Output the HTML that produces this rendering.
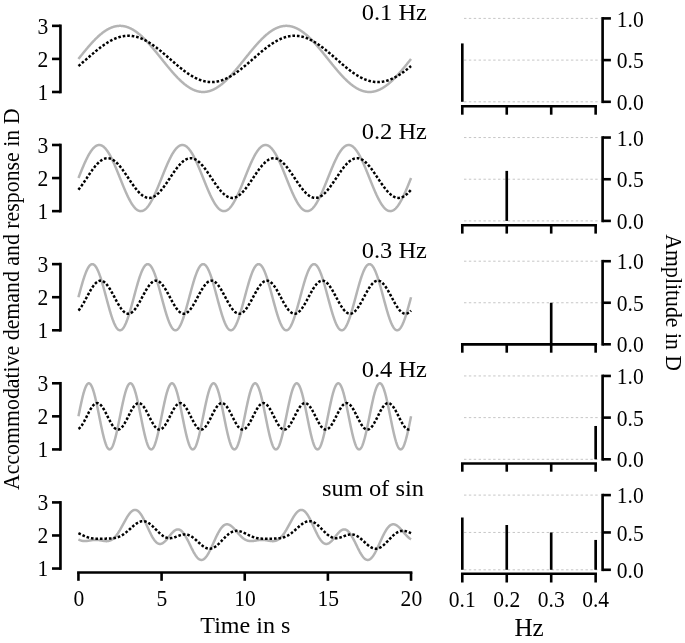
<!DOCTYPE html>
<html><head><meta charset="utf-8"><style>
html,body{margin:0;padding:0;background:#fff;}
body{width:685px;height:643px;overflow:hidden;}
svg{display:block;}
text{font-family:"Liberation Serif","Times New Roman",serif;}
</style></head><body>
<svg width="685" height="643" viewBox="0 0 685 643" font-family="Liberation Serif, Times New Roman, serif" fill="#000"><polyline points="78.44,58.92 78.72,58.57 78.99,58.23 79.27,57.88 79.55,57.54 79.83,57.19 80.10,56.84 80.38,56.50 80.66,56.15 80.93,55.81 81.21,55.46 81.49,55.12 81.77,54.78 82.04,54.43 82.32,54.09 82.60,53.75 82.87,53.40 83.15,53.06 83.43,52.72 83.71,52.38 83.98,52.04 84.26,51.71 84.54,51.37 84.81,51.03 85.09,50.70 85.37,50.36 85.65,50.03 85.92,49.69 86.20,49.36 86.48,49.03 86.75,48.70 87.03,48.37 87.31,48.04 87.59,47.72 87.86,47.39 88.14,47.07 88.42,46.75 88.70,46.42 88.97,46.10 89.25,45.79 89.53,45.47 89.80,45.15 90.08,44.84 90.36,44.53 90.64,44.22 90.91,43.91 91.19,43.60 91.47,43.29 91.74,42.99 92.02,42.69 92.30,42.39 92.58,42.09 92.85,41.79 93.13,41.49 93.41,41.20 93.68,40.91 93.96,40.62 94.24,40.33 94.52,40.05 94.79,39.76 95.07,39.48 95.35,39.20 95.62,38.93 95.90,38.65 96.18,38.38 96.46,38.11 96.73,37.84 97.01,37.57 97.29,37.31 97.56,37.05 97.84,36.79 98.12,36.54 98.40,36.28 98.67,36.03 98.95,35.78 99.23,35.54 99.50,35.29 99.78,35.05 100.06,34.81 100.34,34.58 100.61,34.34 100.89,34.11 101.17,33.89 101.44,33.66 101.72,33.44 102.00,33.22 102.28,33.00 102.55,32.79 102.83,32.58 103.11,32.37 103.38,32.17 103.66,31.96 103.94,31.76 104.22,31.57 104.49,31.38 104.77,31.19 105.05,31.00 105.33,30.81 105.60,30.63 105.88,30.46 106.16,30.28 106.43,30.11 106.71,29.94 106.99,29.78 107.27,29.61 107.54,29.45 107.82,29.30 108.10,29.15 108.37,29.00 108.65,28.85 108.93,28.71 109.21,28.57 109.48,28.43 109.76,28.30 110.04,28.17 110.31,28.05 110.59,27.92 110.87,27.81 111.15,27.69 111.42,27.58 111.70,27.47 111.98,27.36 112.25,27.26 112.53,27.16 112.81,27.07 113.09,26.98 113.36,26.89 113.64,26.80 113.92,26.72 114.19,26.65 114.47,26.57 114.75,26.50 115.03,26.44 115.30,26.37 115.58,26.31 115.86,26.26 116.13,26.20 116.41,26.16 116.69,26.11 116.97,26.07 117.24,26.03 117.52,26.00 117.80,25.97 118.07,25.94 118.35,25.92 118.63,25.90 118.91,25.88 119.18,25.87 119.46,25.86 119.74,25.85 120.01,25.85 120.29,25.85 120.57,25.86 120.85,25.87 121.12,25.88 121.40,25.90 121.68,25.92 121.96,25.94 122.23,25.97 122.51,26.00 122.79,26.03 123.06,26.07 123.34,26.11 123.62,26.16 123.90,26.20 124.17,26.26 124.45,26.31 124.73,26.37 125.00,26.44 125.28,26.50 125.56,26.57 125.84,26.65 126.11,26.72 126.39,26.80 126.67,26.89 126.94,26.98 127.22,27.07 127.50,27.16 127.78,27.26 128.05,27.36 128.33,27.47 128.61,27.58 128.88,27.69 129.16,27.81 129.44,27.92 129.72,28.05 129.99,28.17 130.27,28.30 130.55,28.43 130.82,28.57 131.10,28.71 131.38,28.85 131.66,29.00 131.93,29.15 132.21,29.30 132.49,29.45 132.76,29.61 133.04,29.78 133.32,29.94 133.60,30.11 133.87,30.28 134.15,30.46 134.43,30.63 134.70,30.81 134.98,31.00 135.26,31.19 135.54,31.38 135.81,31.57 136.09,31.76 136.37,31.96 136.64,32.17 136.92,32.37 137.20,32.58 137.48,32.79 137.75,33.00 138.03,33.22 138.31,33.44 138.59,33.66 138.86,33.89 139.14,34.11 139.42,34.34 139.69,34.58 139.97,34.81 140.25,35.05 140.53,35.29 140.80,35.54 141.08,35.78 141.36,36.03 141.63,36.28 141.91,36.54 142.19,36.79 142.47,37.05 142.74,37.31 143.02,37.57 143.30,37.84 143.57,38.11 143.85,38.38 144.13,38.65 144.41,38.93 144.68,39.20 144.96,39.48 145.24,39.76 145.51,40.05 145.79,40.33 146.07,40.62 146.35,40.91 146.62,41.20 146.90,41.49 147.18,41.79 147.45,42.09 147.73,42.39 148.01,42.69 148.29,42.99 148.56,43.29 148.84,43.60 149.12,43.91 149.39,44.22 149.67,44.53 149.95,44.84 150.23,45.15 150.50,45.47 150.78,45.79 151.06,46.10 151.33,46.42 151.61,46.75 151.89,47.07 152.17,47.39 152.44,47.72 152.72,48.04 153.00,48.37 153.27,48.70 153.55,49.03 153.83,49.36 154.11,49.69 154.38,50.03 154.66,50.36 154.94,50.70 155.22,51.03 155.49,51.37 155.77,51.71 156.05,52.04 156.32,52.38 156.60,52.72 156.88,53.06 157.16,53.40 157.43,53.75 157.71,54.09 157.99,54.43 158.26,54.78 158.54,55.12 158.82,55.46 159.10,55.81 159.37,56.15 159.65,56.50 159.93,56.84 160.20,57.19 160.48,57.54 160.76,57.88 161.04,58.23 161.31,58.57 161.59,58.92 161.87,59.27 162.14,59.61 162.42,59.96 162.70,60.30 162.98,60.65 163.25,61.00 163.53,61.34 163.81,61.69 164.08,62.03 164.36,62.38 164.64,62.72 164.92,63.06 165.19,63.41 165.47,63.75 165.75,64.09 166.02,64.44 166.30,64.78 166.58,65.12 166.86,65.46 167.13,65.80 167.41,66.13 167.69,66.47 167.96,66.81 168.24,67.14 168.52,67.48 168.80,67.81 169.07,68.15 169.35,68.48 169.63,68.81 169.90,69.14 170.18,69.47 170.46,69.80 170.74,70.12 171.01,70.45 171.29,70.77 171.57,71.09 171.85,71.42 172.12,71.74 172.40,72.05 172.68,72.37 172.95,72.69 173.23,73.00 173.51,73.31 173.79,73.62 174.06,73.93 174.34,74.24 174.62,74.55 174.89,74.85 175.17,75.15 175.45,75.45 175.73,75.75 176.00,76.05 176.28,76.35 176.56,76.64 176.83,76.93 177.11,77.22 177.39,77.51 177.67,77.79 177.94,78.08 178.22,78.36 178.50,78.64 178.77,78.91 179.05,79.19 179.33,79.46 179.61,79.73 179.88,80.00 180.16,80.27 180.44,80.53 180.71,80.79 180.99,81.05 181.27,81.30 181.55,81.56 181.82,81.81 182.10,82.06 182.38,82.30 182.65,82.55 182.93,82.79 183.21,83.03 183.49,83.26 183.76,83.50 184.04,83.73 184.32,83.95 184.59,84.18 184.87,84.40 185.15,84.62 185.43,84.84 185.70,85.05 185.98,85.26 186.26,85.47 186.53,85.67 186.81,85.88 187.09,86.08 187.37,86.27 187.64,86.46 187.92,86.65 188.20,86.84 188.48,87.03 188.75,87.21 189.03,87.38 189.31,87.56 189.58,87.73 189.86,87.90 190.14,88.06 190.42,88.23 190.69,88.39 190.97,88.54 191.25,88.69 191.52,88.84 191.80,88.99 192.08,89.13 192.36,89.27 192.63,89.41 192.91,89.54 193.19,89.67 193.46,89.79 193.74,89.92 194.02,90.03 194.30,90.15 194.57,90.26 194.85,90.37 195.13,90.48 195.40,90.58 195.68,90.68 195.96,90.77 196.24,90.86 196.51,90.95 196.79,91.04 197.07,91.12 197.34,91.19 197.62,91.27 197.90,91.34 198.18,91.40 198.45,91.47 198.73,91.53 199.01,91.58 199.28,91.64 199.56,91.68 199.84,91.73 200.12,91.77 200.39,91.81 200.67,91.84 200.95,91.87 201.22,91.90 201.50,91.92 201.78,91.94 202.06,91.96 202.33,91.97 202.61,91.98 202.89,91.99 203.16,91.99 203.44,91.99 203.72,91.98 204.00,91.97 204.27,91.96 204.55,91.94 204.83,91.92 205.11,91.90 205.38,91.87 205.66,91.84 205.94,91.81 206.21,91.77 206.49,91.73 206.77,91.68 207.05,91.64 207.32,91.58 207.60,91.53 207.88,91.47 208.15,91.40 208.43,91.34 208.71,91.27 208.99,91.19 209.26,91.12 209.54,91.04 209.82,90.95 210.09,90.86 210.37,90.77 210.65,90.68 210.93,90.58 211.20,90.48 211.48,90.37 211.76,90.26 212.03,90.15 212.31,90.03 212.59,89.92 212.87,89.79 213.14,89.67 213.42,89.54 213.70,89.41 213.97,89.27 214.25,89.13 214.53,88.99 214.81,88.84 215.08,88.69 215.36,88.54 215.64,88.39 215.91,88.23 216.19,88.06 216.47,87.90 216.75,87.73 217.02,87.56 217.30,87.38 217.58,87.21 217.85,87.03 218.13,86.84 218.41,86.65 218.69,86.46 218.96,86.27 219.24,86.08 219.52,85.88 219.79,85.67 220.07,85.47 220.35,85.26 220.63,85.05 220.90,84.84 221.18,84.62 221.46,84.40 221.74,84.18 222.01,83.95 222.29,83.73 222.57,83.50 222.84,83.26 223.12,83.03 223.40,82.79 223.68,82.55 223.95,82.30 224.23,82.06 224.51,81.81 224.78,81.56 225.06,81.30 225.34,81.05 225.62,80.79 225.89,80.53 226.17,80.27 226.45,80.00 226.72,79.73 227.00,79.46 227.28,79.19 227.56,78.91 227.83,78.64 228.11,78.36 228.39,78.08 228.66,77.79 228.94,77.51 229.22,77.22 229.50,76.93 229.77,76.64 230.05,76.35 230.33,76.05 230.60,75.75 230.88,75.46 231.16,75.15 231.44,74.85 231.71,74.55 231.99,74.24 232.27,73.93 232.54,73.62 232.82,73.31 233.10,73.00 233.38,72.69 233.65,72.37 233.93,72.05 234.21,71.74 234.48,71.42 234.76,71.09 235.04,70.77 235.32,70.45 235.59,70.12 235.87,69.80 236.15,69.47 236.42,69.14 236.70,68.81 236.98,68.48 237.26,68.15 237.53,67.81 237.81,67.48 238.09,67.14 238.37,66.81 238.64,66.47 238.92,66.13 239.20,65.80 239.47,65.46 239.75,65.12 240.03,64.78 240.31,64.44 240.58,64.09 240.86,63.75 241.14,63.41 241.41,63.06 241.69,62.72 241.97,62.38 242.25,62.03 242.52,61.69 242.80,61.34 243.08,61.00 243.35,60.65 243.63,60.30 243.91,59.96 244.19,59.61 244.46,59.27 244.74,58.92 245.02,58.57 245.29,58.23 245.57,57.88 245.85,57.54 246.13,57.19 246.40,56.84 246.68,56.50 246.96,56.15 247.23,55.81 247.51,55.46 247.79,55.12 248.07,54.78 248.34,54.43 248.62,54.09 248.90,53.75 249.17,53.40 249.45,53.06 249.73,52.72 250.01,52.38 250.28,52.04 250.56,51.71 250.84,51.37 251.11,51.03 251.39,50.70 251.67,50.36 251.95,50.03 252.22,49.69 252.50,49.36 252.78,49.03 253.05,48.70 253.33,48.37 253.61,48.04 253.89,47.72 254.16,47.39 254.44,47.07 254.72,46.75 255.00,46.42 255.27,46.10 255.55,45.79 255.83,45.47 256.10,45.15 256.38,44.84 256.66,44.53 256.94,44.22 257.21,43.91 257.49,43.60 257.77,43.29 258.04,42.99 258.32,42.69 258.60,42.39 258.88,42.09 259.15,41.79 259.43,41.49 259.71,41.20 259.98,40.91 260.26,40.62 260.54,40.33 260.82,40.05 261.09,39.76 261.37,39.48 261.65,39.20 261.92,38.93 262.20,38.65 262.48,38.38 262.76,38.11 263.03,37.84 263.31,37.57 263.59,37.31 263.86,37.05 264.14,36.79 264.42,36.54 264.70,36.28 264.97,36.03 265.25,35.78 265.53,35.54 265.80,35.29 266.08,35.05 266.36,34.81 266.64,34.58 266.91,34.34 267.19,34.11 267.47,33.89 267.74,33.66 268.02,33.44 268.30,33.22 268.58,33.00 268.85,32.79 269.13,32.58 269.41,32.37 269.68,32.17 269.96,31.96 270.24,31.76 270.52,31.57 270.79,31.38 271.07,31.19 271.35,31.00 271.63,30.81 271.90,30.63 272.18,30.46 272.46,30.28 272.73,30.11 273.01,29.94 273.29,29.78 273.57,29.61 273.84,29.45 274.12,29.30 274.40,29.15 274.67,29.00 274.95,28.85 275.23,28.71 275.51,28.57 275.78,28.43 276.06,28.30 276.34,28.17 276.61,28.05 276.89,27.92 277.17,27.81 277.45,27.69 277.72,27.58 278.00,27.47 278.28,27.36 278.55,27.26 278.83,27.16 279.11,27.07 279.39,26.98 279.66,26.89 279.94,26.80 280.22,26.72 280.49,26.65 280.77,26.57 281.05,26.50 281.33,26.44 281.60,26.37 281.88,26.31 282.16,26.26 282.43,26.20 282.71,26.16 282.99,26.11 283.27,26.07 283.54,26.03 283.82,26.00 284.10,25.97 284.37,25.94 284.65,25.92 284.93,25.90 285.21,25.88 285.48,25.87 285.76,25.86 286.04,25.85 286.31,25.85 286.59,25.85 286.87,25.86 287.15,25.87 287.42,25.88 287.70,25.90 287.98,25.92 288.26,25.94 288.53,25.97 288.81,26.00 289.09,26.03 289.36,26.07 289.64,26.11 289.92,26.16 290.20,26.20 290.47,26.26 290.75,26.31 291.03,26.37 291.30,26.44 291.58,26.50 291.86,26.57 292.14,26.65 292.41,26.72 292.69,26.80 292.97,26.89 293.24,26.98 293.52,27.07 293.80,27.16 294.08,27.26 294.35,27.36 294.63,27.47 294.91,27.58 295.18,27.69 295.46,27.81 295.74,27.92 296.02,28.05 296.29,28.17 296.57,28.30 296.85,28.43 297.12,28.57 297.40,28.71 297.68,28.85 297.96,29.00 298.23,29.15 298.51,29.30 298.79,29.45 299.06,29.61 299.34,29.78 299.62,29.94 299.90,30.11 300.17,30.28 300.45,30.46 300.73,30.63 301.00,30.81 301.28,31.00 301.56,31.19 301.84,31.38 302.11,31.57 302.39,31.76 302.67,31.96 302.94,32.17 303.22,32.37 303.50,32.58 303.78,32.79 304.05,33.00 304.33,33.22 304.61,33.44 304.89,33.66 305.16,33.89 305.44,34.11 305.72,34.34 305.99,34.58 306.27,34.81 306.55,35.05 306.83,35.29 307.10,35.54 307.38,35.78 307.66,36.03 307.93,36.28 308.21,36.54 308.49,36.79 308.77,37.05 309.04,37.31 309.32,37.57 309.60,37.84 309.87,38.11 310.15,38.38 310.43,38.65 310.71,38.93 310.98,39.20 311.26,39.48 311.54,39.76 311.81,40.05 312.09,40.33 312.37,40.62 312.65,40.91 312.92,41.20 313.20,41.49 313.48,41.79 313.75,42.09 314.03,42.38 314.31,42.69 314.59,42.99 314.86,43.29 315.14,43.60 315.42,43.91 315.69,44.22 315.97,44.53 316.25,44.84 316.53,45.15 316.80,45.47 317.08,45.79 317.36,46.10 317.63,46.42 317.91,46.75 318.19,47.07 318.47,47.39 318.74,47.72 319.02,48.04 319.30,48.37 319.57,48.70 319.85,49.03 320.13,49.36 320.41,49.69 320.68,50.03 320.96,50.36 321.24,50.70 321.52,51.03 321.79,51.37 322.07,51.71 322.35,52.04 322.62,52.38 322.90,52.72 323.18,53.06 323.46,53.40 323.73,53.75 324.01,54.09 324.29,54.43 324.56,54.78 324.84,55.12 325.12,55.46 325.40,55.81 325.67,56.15 325.95,56.50 326.23,56.84 326.50,57.19 326.78,57.54 327.06,57.88 327.34,58.23 327.61,58.57 327.89,58.92 328.17,59.27 328.44,59.61 328.72,59.96 329.00,60.30 329.28,60.65 329.55,61.00 329.83,61.34 330.11,61.69 330.38,62.03 330.66,62.38 330.94,62.72 331.22,63.06 331.49,63.41 331.77,63.75 332.05,64.09 332.32,64.44 332.60,64.78 332.88,65.12 333.16,65.46 333.43,65.80 333.71,66.13 333.99,66.47 334.26,66.81 334.54,67.14 334.82,67.48 335.10,67.81 335.37,68.15 335.65,68.48 335.93,68.81 336.20,69.14 336.48,69.47 336.76,69.80 337.04,70.12 337.31,70.45 337.59,70.77 337.87,71.09 338.15,71.42 338.42,71.74 338.70,72.05 338.98,72.37 339.25,72.69 339.53,73.00 339.81,73.31 340.09,73.62 340.36,73.93 340.64,74.24 340.92,74.55 341.19,74.85 341.47,75.15 341.75,75.46 342.03,75.75 342.30,76.05 342.58,76.35 342.86,76.64 343.13,76.93 343.41,77.22 343.69,77.51 343.97,77.79 344.24,78.08 344.52,78.36 344.80,78.64 345.07,78.91 345.35,79.19 345.63,79.46 345.91,79.73 346.18,80.00 346.46,80.27 346.74,80.53 347.01,80.79 347.29,81.05 347.57,81.30 347.85,81.56 348.12,81.81 348.40,82.06 348.68,82.30 348.95,82.55 349.23,82.79 349.51,83.03 349.79,83.26 350.06,83.50 350.34,83.73 350.62,83.95 350.89,84.18 351.17,84.40 351.45,84.62 351.73,84.84 352.00,85.05 352.28,85.26 352.56,85.47 352.83,85.67 353.11,85.88 353.39,86.08 353.67,86.27 353.94,86.46 354.22,86.65 354.50,86.84 354.78,87.03 355.05,87.21 355.33,87.38 355.61,87.56 355.88,87.73 356.16,87.90 356.44,88.06 356.72,88.23 356.99,88.39 357.27,88.54 357.55,88.69 357.82,88.84 358.10,88.99 358.38,89.13 358.66,89.27 358.93,89.41 359.21,89.54 359.49,89.67 359.76,89.79 360.04,89.92 360.32,90.03 360.60,90.15 360.87,90.26 361.15,90.37 361.43,90.48 361.70,90.58 361.98,90.68 362.26,90.77 362.54,90.86 362.81,90.95 363.09,91.04 363.37,91.12 363.64,91.19 363.92,91.27 364.20,91.34 364.48,91.40 364.75,91.47 365.03,91.53 365.31,91.58 365.58,91.64 365.86,91.68 366.14,91.73 366.42,91.77 366.69,91.81 366.97,91.84 367.25,91.87 367.52,91.90 367.80,91.92 368.08,91.94 368.36,91.96 368.63,91.97 368.91,91.98 369.19,91.99 369.46,91.99 369.74,91.99 370.02,91.98 370.30,91.97 370.57,91.96 370.85,91.94 371.13,91.92 371.41,91.90 371.68,91.87 371.96,91.84 372.24,91.81 372.51,91.77 372.79,91.73 373.07,91.68 373.35,91.64 373.62,91.58 373.90,91.53 374.18,91.47 374.45,91.40 374.73,91.34 375.01,91.27 375.29,91.19 375.56,91.12 375.84,91.04 376.12,90.95 376.39,90.86 376.67,90.77 376.95,90.68 377.23,90.58 377.50,90.48 377.78,90.37 378.06,90.26 378.33,90.15 378.61,90.03 378.89,89.92 379.17,89.79 379.44,89.67 379.72,89.54 380.00,89.41 380.27,89.27 380.55,89.13 380.83,88.99 381.11,88.84 381.38,88.69 381.66,88.54 381.94,88.39 382.21,88.23 382.49,88.06 382.77,87.90 383.05,87.73 383.32,87.56 383.60,87.38 383.88,87.21 384.15,87.03 384.43,86.84 384.71,86.65 384.99,86.46 385.26,86.27 385.54,86.08 385.82,85.88 386.09,85.67 386.37,85.47 386.65,85.26 386.93,85.05 387.20,84.84 387.48,84.62 387.76,84.40 388.04,84.18 388.31,83.95 388.59,83.73 388.87,83.50 389.14,83.26 389.42,83.03 389.70,82.79 389.98,82.55 390.25,82.30 390.53,82.06 390.81,81.81 391.08,81.56 391.36,81.30 391.64,81.05 391.92,80.79 392.19,80.53 392.47,80.27 392.75,80.00 393.02,79.73 393.30,79.46 393.58,79.19 393.86,78.91 394.13,78.64 394.41,78.36 394.69,78.08 394.96,77.79 395.24,77.51 395.52,77.22 395.80,76.93 396.07,76.64 396.35,76.35 396.63,76.05 396.90,75.75 397.18,75.46 397.46,75.15 397.74,74.85 398.01,74.55 398.29,74.24 398.57,73.93 398.84,73.62 399.12,73.31 399.40,73.00 399.68,72.69 399.95,72.37 400.23,72.05 400.51,71.74 400.78,71.42 401.06,71.09 401.34,70.77 401.62,70.45 401.89,70.12 402.17,69.80 402.45,69.47 402.72,69.14 403.00,68.81 403.28,68.48 403.56,68.15 403.83,67.81 404.11,67.48 404.39,67.14 404.67,66.81 404.94,66.47 405.22,66.13 405.50,65.80 405.77,65.46 406.05,65.12 406.33,64.78 406.61,64.44 406.88,64.09 407.16,63.75 407.44,63.41 407.71,63.06 407.99,62.72 408.27,62.38 408.55,62.03 408.82,61.69 409.10,61.34 409.38,61.00 409.65,60.65 409.93,60.30 410.21,59.96 410.49,59.61 410.76,59.27 411.04,58.92" fill="none" stroke="#b4b4b4" stroke-width="2.5" stroke-linejoin="round" stroke-linecap="butt"/>
<polyline points="78.44,66.07 78.72,65.84 78.99,65.61 79.27,65.38 79.55,65.15 79.83,64.91 80.10,64.68 80.38,64.44 80.66,64.21 80.93,63.97 81.21,63.73 81.49,63.50 81.77,63.26 82.04,63.02 82.32,62.78 82.60,62.54 82.87,62.30 83.15,62.06 83.43,61.82 83.71,61.58 83.98,61.34 84.26,61.10 84.54,60.86 84.81,60.62 85.09,60.37 85.37,60.13 85.65,59.89 85.92,59.65 86.20,59.40 86.48,59.16 86.75,58.92 87.03,58.68 87.31,58.44 87.59,58.19 87.86,57.95 88.14,57.71 88.42,57.47 88.70,57.22 88.97,56.98 89.25,56.74 89.53,56.50 89.80,56.26 90.08,56.02 90.36,55.78 90.64,55.54 90.91,55.30 91.19,55.06 91.47,54.82 91.74,54.58 92.02,54.34 92.30,54.11 92.58,53.87 92.85,53.63 93.13,53.40 93.41,53.16 93.68,52.93 93.96,52.69 94.24,52.46 94.52,52.23 94.79,52.00 95.07,51.77 95.35,51.54 95.62,51.31 95.90,51.08 96.18,50.85 96.46,50.62 96.73,50.40 97.01,50.17 97.29,49.95 97.56,49.73 97.84,49.50 98.12,49.28 98.40,49.06 98.67,48.84 98.95,48.63 99.23,48.41 99.50,48.20 99.78,47.98 100.06,47.77 100.34,47.56 100.61,47.35 100.89,47.14 101.17,46.93 101.44,46.72 101.72,46.52 102.00,46.31 102.28,46.11 102.55,45.91 102.83,45.71 103.11,45.51 103.38,45.31 103.66,45.12 103.94,44.92 104.22,44.73 104.49,44.54 104.77,44.35 105.05,44.16 105.33,43.98 105.60,43.79 105.88,43.61 106.16,43.43 106.43,43.25 106.71,43.07 106.99,42.90 107.27,42.72 107.54,42.55 107.82,42.38 108.10,42.21 108.37,42.05 108.65,41.88 108.93,41.72 109.21,41.56 109.48,41.40 109.76,41.24 110.04,41.08 110.31,40.93 110.59,40.78 110.87,40.63 111.15,40.48 111.42,40.34 111.70,40.19 111.98,40.05 112.25,39.91 112.53,39.77 112.81,39.64 113.09,39.51 113.36,39.37 113.64,39.25 113.92,39.12 114.19,38.99 114.47,38.87 114.75,38.75 115.03,38.63 115.30,38.52 115.58,38.41 115.86,38.29 116.13,38.19 116.41,38.08 116.69,37.97 116.97,37.87 117.24,37.77 117.52,37.67 117.80,37.58 118.07,37.49 118.35,37.40 118.63,37.31 118.91,37.22 119.18,37.14 119.46,37.06 119.74,36.98 120.01,36.90 120.29,36.83 120.57,36.76 120.85,36.69 121.12,36.62 121.40,36.56 121.68,36.50 121.96,36.44 122.23,36.38 122.51,36.33 122.79,36.28 123.06,36.23 123.34,36.18 123.62,36.14 123.90,36.10 124.17,36.06 124.45,36.02 124.73,35.99 125.00,35.95 125.28,35.92 125.56,35.90 125.84,35.87 126.11,35.85 126.39,35.83 126.67,35.82 126.94,35.80 127.22,35.79 127.50,35.78 127.78,35.78 128.05,35.77 128.33,35.77 128.61,35.77 128.88,35.78 129.16,35.78 129.44,35.79 129.72,35.80 129.99,35.82 130.27,35.83 130.55,35.85 130.82,35.87 131.10,35.90 131.38,35.92 131.66,35.95 131.93,35.99 132.21,36.02 132.49,36.06 132.76,36.10 133.04,36.14 133.32,36.18 133.60,36.23 133.87,36.28 134.15,36.33 134.43,36.38 134.70,36.44 134.98,36.50 135.26,36.56 135.54,36.62 135.81,36.69 136.09,36.76 136.37,36.83 136.64,36.90 136.92,36.98 137.20,37.06 137.48,37.14 137.75,37.22 138.03,37.31 138.31,37.40 138.59,37.49 138.86,37.58 139.14,37.67 139.42,37.77 139.69,37.87 139.97,37.97 140.25,38.08 140.53,38.19 140.80,38.29 141.08,38.41 141.36,38.52 141.63,38.63 141.91,38.75 142.19,38.87 142.47,38.99 142.74,39.12 143.02,39.25 143.30,39.37 143.57,39.51 143.85,39.64 144.13,39.77 144.41,39.91 144.68,40.05 144.96,40.19 145.24,40.34 145.51,40.48 145.79,40.63 146.07,40.78 146.35,40.93 146.62,41.08 146.90,41.24 147.18,41.40 147.45,41.56 147.73,41.72 148.01,41.88 148.29,42.05 148.56,42.21 148.84,42.38 149.12,42.55 149.39,42.72 149.67,42.90 149.95,43.07 150.23,43.25 150.50,43.43 150.78,43.61 151.06,43.79 151.33,43.98 151.61,44.16 151.89,44.35 152.17,44.54 152.44,44.73 152.72,44.92 153.00,45.12 153.27,45.31 153.55,45.51 153.83,45.71 154.11,45.91 154.38,46.11 154.66,46.31 154.94,46.52 155.22,46.72 155.49,46.93 155.77,47.14 156.05,47.35 156.32,47.56 156.60,47.77 156.88,47.98 157.16,48.20 157.43,48.41 157.71,48.63 157.99,48.84 158.26,49.06 158.54,49.28 158.82,49.50 159.10,49.73 159.37,49.95 159.65,50.17 159.93,50.40 160.20,50.62 160.48,50.85 160.76,51.08 161.04,51.31 161.31,51.54 161.59,51.77 161.87,52.00 162.14,52.23 162.42,52.46 162.70,52.69 162.98,52.93 163.25,53.16 163.53,53.40 163.81,53.63 164.08,53.87 164.36,54.11 164.64,54.34 164.92,54.58 165.19,54.82 165.47,55.06 165.75,55.30 166.02,55.54 166.30,55.78 166.58,56.02 166.86,56.26 167.13,56.50 167.41,56.74 167.69,56.98 167.96,57.22 168.24,57.47 168.52,57.71 168.80,57.95 169.07,58.19 169.35,58.44 169.63,58.68 169.90,58.92 170.18,59.16 170.46,59.40 170.74,59.65 171.01,59.89 171.29,60.13 171.57,60.37 171.85,60.62 172.12,60.86 172.40,61.10 172.68,61.34 172.95,61.58 173.23,61.82 173.51,62.06 173.79,62.30 174.06,62.54 174.34,62.78 174.62,63.02 174.89,63.26 175.17,63.50 175.45,63.73 175.73,63.97 176.00,64.21 176.28,64.44 176.56,64.68 176.83,64.91 177.11,65.15 177.39,65.38 177.67,65.61 177.94,65.84 178.22,66.07 178.50,66.30 178.77,66.53 179.05,66.76 179.33,66.99 179.61,67.22 179.88,67.44 180.16,67.67 180.44,67.89 180.71,68.11 180.99,68.34 181.27,68.56 181.55,68.78 181.82,69.00 182.10,69.21 182.38,69.43 182.65,69.64 182.93,69.86 183.21,70.07 183.49,70.28 183.76,70.49 184.04,70.70 184.32,70.91 184.59,71.12 184.87,71.32 185.15,71.53 185.43,71.73 185.70,71.93 185.98,72.13 186.26,72.33 186.53,72.53 186.81,72.72 187.09,72.92 187.37,73.11 187.64,73.30 187.92,73.49 188.20,73.68 188.48,73.86 188.75,74.05 189.03,74.23 189.31,74.41 189.58,74.59 189.86,74.77 190.14,74.94 190.42,75.12 190.69,75.29 190.97,75.46 191.25,75.63 191.52,75.79 191.80,75.96 192.08,76.12 192.36,76.28 192.63,76.44 192.91,76.60 193.19,76.76 193.46,76.91 193.74,77.06 194.02,77.21 194.30,77.36 194.57,77.50 194.85,77.65 195.13,77.79 195.40,77.93 195.68,78.07 195.96,78.20 196.24,78.33 196.51,78.47 196.79,78.59 197.07,78.72 197.34,78.85 197.62,78.97 197.90,79.09 198.18,79.21 198.45,79.32 198.73,79.43 199.01,79.55 199.28,79.65 199.56,79.76 199.84,79.87 200.12,79.97 200.39,80.07 200.67,80.17 200.95,80.26 201.22,80.35 201.50,80.44 201.78,80.53 202.06,80.62 202.33,80.70 202.61,80.78 202.89,80.86 203.16,80.94 203.44,81.01 203.72,81.08 204.00,81.15 204.27,81.22 204.55,81.28 204.83,81.34 205.11,81.40 205.38,81.46 205.66,81.51 205.94,81.56 206.21,81.61 206.49,81.66 206.77,81.70 207.05,81.74 207.32,81.78 207.60,81.82 207.88,81.85 208.15,81.89 208.43,81.92 208.71,81.94 208.99,81.97 209.26,81.99 209.54,82.01 209.82,82.02 210.09,82.04 210.37,82.05 210.65,82.06 210.93,82.06 211.20,82.07 211.48,82.07 211.76,82.07 212.03,82.06 212.31,82.06 212.59,82.05 212.87,82.04 213.14,82.02 213.42,82.01 213.70,81.99 213.97,81.97 214.25,81.94 214.53,81.92 214.81,81.89 215.08,81.85 215.36,81.82 215.64,81.78 215.91,81.74 216.19,81.70 216.47,81.66 216.75,81.61 217.02,81.56 217.30,81.51 217.58,81.46 217.85,81.40 218.13,81.34 218.41,81.28 218.69,81.22 218.96,81.15 219.24,81.08 219.52,81.01 219.79,80.94 220.07,80.86 220.35,80.78 220.63,80.70 220.90,80.62 221.18,80.53 221.46,80.44 221.74,80.35 222.01,80.26 222.29,80.17 222.57,80.07 222.84,79.97 223.12,79.87 223.40,79.76 223.68,79.65 223.95,79.55 224.23,79.43 224.51,79.32 224.78,79.21 225.06,79.09 225.34,78.97 225.62,78.85 225.89,78.72 226.17,78.59 226.45,78.47 226.72,78.33 227.00,78.20 227.28,78.07 227.56,77.93 227.83,77.79 228.11,77.65 228.39,77.50 228.66,77.36 228.94,77.21 229.22,77.06 229.50,76.91 229.77,76.76 230.05,76.60 230.33,76.44 230.60,76.28 230.88,76.12 231.16,75.96 231.44,75.79 231.71,75.63 231.99,75.46 232.27,75.29 232.54,75.12 232.82,74.94 233.10,74.77 233.38,74.59 233.65,74.41 233.93,74.23 234.21,74.05 234.48,73.86 234.76,73.68 235.04,73.49 235.32,73.30 235.59,73.11 235.87,72.92 236.15,72.72 236.42,72.53 236.70,72.33 236.98,72.13 237.26,71.93 237.53,71.73 237.81,71.53 238.09,71.32 238.37,71.12 238.64,70.91 238.92,70.70 239.20,70.49 239.47,70.28 239.75,70.07 240.03,69.86 240.31,69.64 240.58,69.43 240.86,69.21 241.14,69.00 241.41,68.78 241.69,68.56 241.97,68.34 242.25,68.11 242.52,67.89 242.80,67.67 243.08,67.44 243.35,67.22 243.63,66.99 243.91,66.76 244.19,66.53 244.46,66.30 244.74,66.07 245.02,65.84 245.29,65.61 245.57,65.38 245.85,65.15 246.13,64.91 246.40,64.68 246.68,64.44 246.96,64.21 247.23,63.97 247.51,63.73 247.79,63.50 248.07,63.26 248.34,63.02 248.62,62.78 248.90,62.54 249.17,62.30 249.45,62.06 249.73,61.82 250.01,61.58 250.28,61.34 250.56,61.10 250.84,60.86 251.11,60.62 251.39,60.37 251.67,60.13 251.95,59.89 252.22,59.65 252.50,59.40 252.78,59.16 253.05,58.92 253.33,58.68 253.61,58.44 253.89,58.19 254.16,57.95 254.44,57.71 254.72,57.47 255.00,57.22 255.27,56.98 255.55,56.74 255.83,56.50 256.10,56.26 256.38,56.02 256.66,55.78 256.94,55.54 257.21,55.30 257.49,55.06 257.77,54.82 258.04,54.58 258.32,54.34 258.60,54.11 258.88,53.87 259.15,53.63 259.43,53.40 259.71,53.16 259.98,52.93 260.26,52.69 260.54,52.46 260.82,52.23 261.09,52.00 261.37,51.77 261.65,51.54 261.92,51.31 262.20,51.08 262.48,50.85 262.76,50.62 263.03,50.40 263.31,50.17 263.59,49.95 263.86,49.73 264.14,49.50 264.42,49.28 264.70,49.06 264.97,48.84 265.25,48.63 265.53,48.41 265.80,48.20 266.08,47.98 266.36,47.77 266.64,47.56 266.91,47.35 267.19,47.14 267.47,46.93 267.74,46.72 268.02,46.52 268.30,46.31 268.58,46.11 268.85,45.91 269.13,45.71 269.41,45.51 269.68,45.31 269.96,45.12 270.24,44.92 270.52,44.73 270.79,44.54 271.07,44.35 271.35,44.16 271.63,43.98 271.90,43.79 272.18,43.61 272.46,43.43 272.73,43.25 273.01,43.07 273.29,42.90 273.57,42.72 273.84,42.55 274.12,42.38 274.40,42.21 274.67,42.05 274.95,41.88 275.23,41.72 275.51,41.56 275.78,41.40 276.06,41.24 276.34,41.08 276.61,40.93 276.89,40.78 277.17,40.63 277.45,40.48 277.72,40.34 278.00,40.19 278.28,40.05 278.55,39.91 278.83,39.77 279.11,39.64 279.39,39.51 279.66,39.37 279.94,39.25 280.22,39.12 280.49,38.99 280.77,38.87 281.05,38.75 281.33,38.63 281.60,38.52 281.88,38.41 282.16,38.29 282.43,38.19 282.71,38.08 282.99,37.97 283.27,37.87 283.54,37.77 283.82,37.67 284.10,37.58 284.37,37.49 284.65,37.40 284.93,37.31 285.21,37.22 285.48,37.14 285.76,37.06 286.04,36.98 286.31,36.90 286.59,36.83 286.87,36.76 287.15,36.69 287.42,36.62 287.70,36.56 287.98,36.50 288.26,36.44 288.53,36.38 288.81,36.33 289.09,36.28 289.36,36.23 289.64,36.18 289.92,36.14 290.20,36.10 290.47,36.06 290.75,36.02 291.03,35.99 291.30,35.95 291.58,35.92 291.86,35.90 292.14,35.87 292.41,35.85 292.69,35.83 292.97,35.82 293.24,35.80 293.52,35.79 293.80,35.78 294.08,35.78 294.35,35.77 294.63,35.77 294.91,35.77 295.18,35.78 295.46,35.78 295.74,35.79 296.02,35.80 296.29,35.82 296.57,35.83 296.85,35.85 297.12,35.87 297.40,35.90 297.68,35.92 297.96,35.95 298.23,35.99 298.51,36.02 298.79,36.06 299.06,36.10 299.34,36.14 299.62,36.18 299.90,36.23 300.17,36.28 300.45,36.33 300.73,36.38 301.00,36.44 301.28,36.50 301.56,36.56 301.84,36.62 302.11,36.69 302.39,36.76 302.67,36.83 302.94,36.90 303.22,36.98 303.50,37.06 303.78,37.14 304.05,37.22 304.33,37.31 304.61,37.40 304.89,37.49 305.16,37.58 305.44,37.67 305.72,37.77 305.99,37.87 306.27,37.97 306.55,38.08 306.83,38.19 307.10,38.29 307.38,38.41 307.66,38.52 307.93,38.63 308.21,38.75 308.49,38.87 308.77,38.99 309.04,39.12 309.32,39.25 309.60,39.37 309.87,39.51 310.15,39.64 310.43,39.77 310.71,39.91 310.98,40.05 311.26,40.19 311.54,40.34 311.81,40.48 312.09,40.63 312.37,40.78 312.65,40.93 312.92,41.08 313.20,41.24 313.48,41.40 313.75,41.56 314.03,41.72 314.31,41.88 314.59,42.05 314.86,42.21 315.14,42.38 315.42,42.55 315.69,42.72 315.97,42.90 316.25,43.07 316.53,43.25 316.80,43.43 317.08,43.61 317.36,43.79 317.63,43.98 317.91,44.16 318.19,44.35 318.47,44.54 318.74,44.73 319.02,44.92 319.30,45.12 319.57,45.31 319.85,45.51 320.13,45.71 320.41,45.91 320.68,46.11 320.96,46.31 321.24,46.52 321.52,46.72 321.79,46.93 322.07,47.14 322.35,47.35 322.62,47.56 322.90,47.77 323.18,47.98 323.46,48.20 323.73,48.41 324.01,48.63 324.29,48.84 324.56,49.06 324.84,49.28 325.12,49.50 325.40,49.73 325.67,49.95 325.95,50.17 326.23,50.40 326.50,50.62 326.78,50.85 327.06,51.08 327.34,51.31 327.61,51.54 327.89,51.77 328.17,52.00 328.44,52.23 328.72,52.46 329.00,52.69 329.28,52.93 329.55,53.16 329.83,53.40 330.11,53.63 330.38,53.87 330.66,54.11 330.94,54.34 331.22,54.58 331.49,54.82 331.77,55.06 332.05,55.30 332.32,55.54 332.60,55.78 332.88,56.02 333.16,56.26 333.43,56.50 333.71,56.74 333.99,56.98 334.26,57.22 334.54,57.47 334.82,57.71 335.10,57.95 335.37,58.19 335.65,58.44 335.93,58.68 336.20,58.92 336.48,59.16 336.76,59.40 337.04,59.65 337.31,59.89 337.59,60.13 337.87,60.37 338.15,60.62 338.42,60.86 338.70,61.10 338.98,61.34 339.25,61.58 339.53,61.82 339.81,62.06 340.09,62.30 340.36,62.54 340.64,62.78 340.92,63.02 341.19,63.26 341.47,63.50 341.75,63.73 342.03,63.97 342.30,64.21 342.58,64.44 342.86,64.68 343.13,64.91 343.41,65.15 343.69,65.38 343.97,65.61 344.24,65.84 344.52,66.07 344.80,66.30 345.07,66.53 345.35,66.76 345.63,66.99 345.91,67.22 346.18,67.44 346.46,67.67 346.74,67.89 347.01,68.11 347.29,68.34 347.57,68.56 347.85,68.78 348.12,69.00 348.40,69.21 348.68,69.43 348.95,69.64 349.23,69.86 349.51,70.07 349.79,70.28 350.06,70.49 350.34,70.70 350.62,70.91 350.89,71.12 351.17,71.32 351.45,71.53 351.73,71.73 352.00,71.93 352.28,72.13 352.56,72.33 352.83,72.53 353.11,72.72 353.39,72.92 353.67,73.11 353.94,73.30 354.22,73.49 354.50,73.68 354.78,73.86 355.05,74.05 355.33,74.23 355.61,74.41 355.88,74.59 356.16,74.77 356.44,74.94 356.72,75.12 356.99,75.29 357.27,75.46 357.55,75.63 357.82,75.79 358.10,75.96 358.38,76.12 358.66,76.28 358.93,76.44 359.21,76.60 359.49,76.76 359.76,76.91 360.04,77.06 360.32,77.21 360.60,77.36 360.87,77.50 361.15,77.65 361.43,77.79 361.70,77.93 361.98,78.07 362.26,78.20 362.54,78.33 362.81,78.47 363.09,78.59 363.37,78.72 363.64,78.85 363.92,78.97 364.20,79.09 364.48,79.21 364.75,79.32 365.03,79.43 365.31,79.55 365.58,79.65 365.86,79.76 366.14,79.87 366.42,79.97 366.69,80.07 366.97,80.17 367.25,80.26 367.52,80.35 367.80,80.44 368.08,80.53 368.36,80.62 368.63,80.70 368.91,80.78 369.19,80.86 369.46,80.94 369.74,81.01 370.02,81.08 370.30,81.15 370.57,81.22 370.85,81.28 371.13,81.34 371.41,81.40 371.68,81.46 371.96,81.51 372.24,81.56 372.51,81.61 372.79,81.66 373.07,81.70 373.35,81.74 373.62,81.78 373.90,81.82 374.18,81.85 374.45,81.89 374.73,81.92 375.01,81.94 375.29,81.97 375.56,81.99 375.84,82.01 376.12,82.02 376.39,82.04 376.67,82.05 376.95,82.06 377.23,82.06 377.50,82.07 377.78,82.07 378.06,82.07 378.33,82.06 378.61,82.06 378.89,82.05 379.17,82.04 379.44,82.02 379.72,82.01 380.00,81.99 380.27,81.97 380.55,81.94 380.83,81.92 381.11,81.89 381.38,81.85 381.66,81.82 381.94,81.78 382.21,81.74 382.49,81.70 382.77,81.66 383.05,81.61 383.32,81.56 383.60,81.51 383.88,81.46 384.15,81.40 384.43,81.34 384.71,81.28 384.99,81.22 385.26,81.15 385.54,81.08 385.82,81.01 386.09,80.94 386.37,80.86 386.65,80.78 386.93,80.70 387.20,80.62 387.48,80.53 387.76,80.44 388.04,80.35 388.31,80.26 388.59,80.17 388.87,80.07 389.14,79.97 389.42,79.87 389.70,79.76 389.98,79.65 390.25,79.55 390.53,79.43 390.81,79.32 391.08,79.21 391.36,79.09 391.64,78.97 391.92,78.85 392.19,78.72 392.47,78.59 392.75,78.47 393.02,78.33 393.30,78.20 393.58,78.07 393.86,77.93 394.13,77.79 394.41,77.65 394.69,77.50 394.96,77.36 395.24,77.21 395.52,77.06 395.80,76.91 396.07,76.76 396.35,76.60 396.63,76.44 396.90,76.28 397.18,76.12 397.46,75.96 397.74,75.79 398.01,75.63 398.29,75.46 398.57,75.29 398.84,75.12 399.12,74.94 399.40,74.77 399.68,74.59 399.95,74.41 400.23,74.23 400.51,74.05 400.78,73.86 401.06,73.68 401.34,73.49 401.62,73.30 401.89,73.11 402.17,72.92 402.45,72.72 402.72,72.53 403.00,72.33 403.28,72.13 403.56,71.93 403.83,71.73 404.11,71.53 404.39,71.32 404.67,71.12 404.94,70.91 405.22,70.70 405.50,70.49 405.77,70.28 406.05,70.07 406.33,69.86 406.61,69.64 406.88,69.43 407.16,69.21 407.44,69.00 407.71,68.78 407.99,68.56 408.27,68.34 408.55,68.11 408.82,67.89 409.10,67.67 409.38,67.44 409.65,67.22 409.93,66.99 410.21,66.76 410.49,66.53 410.76,66.30 411.04,66.07" fill="none" stroke="#000" stroke-width="2.5" stroke-linejoin="round" stroke-dasharray="2.6 1.9" stroke-linecap="butt"/>
<line x1="60.45" y1="24.53" x2="60.45" y2="93.32" stroke="#000" stroke-width="2.65" />
<line x1="52.00" y1="91.99" x2="60.45" y2="91.99" stroke="#000" stroke-width="2.6" />
<text transform="translate(48.20,99.89) scale(0.98,1.05)" font-size="22" text-anchor="end" >1</text>
<line x1="52.00" y1="58.92" x2="60.45" y2="58.92" stroke="#000" stroke-width="2.6" />
<text transform="translate(48.20,66.82) scale(0.98,1.05)" font-size="22" text-anchor="end" >2</text>
<line x1="52.00" y1="25.85" x2="60.45" y2="25.85" stroke="#000" stroke-width="2.6" />
<text transform="translate(48.20,33.75) scale(0.98,1.05)" font-size="22" text-anchor="end" >3</text>
<text transform="translate(427.00,20.20) scale(1.0,0.98)" font-size="24.5" text-anchor="end" >0.1 Hz</text>
<line x1="464.00" y1="101.80" x2="600.50" y2="101.80" stroke="#c6c6c6" stroke-width="1.0" stroke-dasharray="2.43 2.43"/>
<line x1="464.00" y1="60.10" x2="600.50" y2="60.10" stroke="#c6c6c6" stroke-width="1.0" stroke-dasharray="2.43 2.43"/>
<line x1="464.00" y1="18.40" x2="600.50" y2="18.40" stroke="#c6c6c6" stroke-width="1.0" stroke-dasharray="2.43 2.43"/>
<line x1="462.30" y1="101.80" x2="462.30" y2="43.42" stroke="#000" stroke-width="2.65" />
<line x1="602.60" y1="17.07" x2="602.60" y2="103.12" stroke="#000" stroke-width="2.65" />
<line x1="602.60" y1="101.80" x2="610.90" y2="101.80" stroke="#000" stroke-width="2.6" />
<text transform="translate(616.80,109.90) scale(0.98,1.05)" font-size="22" text-anchor="start" >0.0</text>
<line x1="602.60" y1="60.10" x2="610.90" y2="60.10" stroke="#000" stroke-width="2.6" />
<text transform="translate(616.80,68.20) scale(0.98,1.05)" font-size="22" text-anchor="start" >0.5</text>
<line x1="602.60" y1="18.40" x2="610.90" y2="18.40" stroke="#000" stroke-width="2.6" />
<text transform="translate(616.80,26.50) scale(0.98,1.05)" font-size="22" text-anchor="start" >1.0</text>
<line x1="460.98" y1="106.20" x2="596.98" y2="106.20" stroke="#000" stroke-width="2.65" />
<line x1="462.30" y1="106.20" x2="462.30" y2="114.70" stroke="#000" stroke-width="2.6" />
<line x1="506.75" y1="106.20" x2="506.75" y2="114.70" stroke="#000" stroke-width="2.6" />
<line x1="551.20" y1="106.20" x2="551.20" y2="114.70" stroke="#000" stroke-width="2.6" />
<line x1="595.65" y1="106.20" x2="595.65" y2="114.70" stroke="#000" stroke-width="2.6" />
<polyline points="78.44,178.06 78.72,177.37 78.99,176.68 79.27,175.98 79.55,175.29 79.83,174.60 80.10,173.92 80.38,173.23 80.66,172.54 80.93,171.86 81.21,171.18 81.49,170.51 81.77,169.84 82.04,169.17 82.32,168.50 82.60,167.84 82.87,167.18 83.15,166.53 83.43,165.89 83.71,165.24 83.98,164.61 84.26,163.98 84.54,163.36 84.81,162.74 85.09,162.13 85.37,161.53 85.65,160.93 85.92,160.34 86.20,159.76 86.48,159.19 86.75,158.62 87.03,158.07 87.31,157.52 87.59,156.98 87.86,156.45 88.14,155.93 88.42,155.42 88.70,154.92 88.97,154.43 89.25,153.95 89.53,153.48 89.80,153.03 90.08,152.58 90.36,152.14 90.64,151.72 90.91,151.31 91.19,150.90 91.47,150.52 91.74,150.14 92.02,149.77 92.30,149.42 92.58,149.08 92.85,148.75 93.13,148.44 93.41,148.14 93.68,147.85 93.96,147.57 94.24,147.31 94.52,147.06 94.79,146.83 95.07,146.61 95.35,146.40 95.62,146.21 95.90,146.03 96.18,145.86 96.46,145.71 96.73,145.58 97.01,145.45 97.29,145.34 97.56,145.25 97.84,145.17 98.12,145.11 98.40,145.06 98.67,145.02 98.95,145.00 99.23,144.99 99.50,145.00 99.78,145.02 100.06,145.06 100.34,145.11 100.61,145.17 100.89,145.25 101.17,145.34 101.44,145.45 101.72,145.58 102.00,145.71 102.28,145.86 102.55,146.03 102.83,146.21 103.11,146.40 103.38,146.61 103.66,146.83 103.94,147.06 104.22,147.31 104.49,147.57 104.77,147.85 105.05,148.14 105.33,148.44 105.60,148.75 105.88,149.08 106.16,149.42 106.43,149.77 106.71,150.14 106.99,150.52 107.27,150.90 107.54,151.31 107.82,151.72 108.10,152.14 108.37,152.58 108.65,153.03 108.93,153.48 109.21,153.95 109.48,154.43 109.76,154.92 110.04,155.42 110.31,155.93 110.59,156.45 110.87,156.98 111.15,157.52 111.42,158.07 111.70,158.62 111.98,159.19 112.25,159.76 112.53,160.34 112.81,160.93 113.09,161.53 113.36,162.13 113.64,162.74 113.92,163.36 114.19,163.98 114.47,164.61 114.75,165.24 115.03,165.89 115.30,166.53 115.58,167.18 115.86,167.84 116.13,168.50 116.41,169.17 116.69,169.84 116.97,170.51 117.24,171.18 117.52,171.86 117.80,172.54 118.07,173.23 118.35,173.92 118.63,174.60 118.91,175.29 119.18,175.98 119.46,176.68 119.74,177.37 120.01,178.06 120.29,178.75 120.57,179.44 120.85,180.14 121.12,180.83 121.40,181.52 121.68,182.20 121.96,182.89 122.23,183.58 122.51,184.26 122.79,184.94 123.06,185.61 123.34,186.28 123.62,186.95 123.90,187.62 124.17,188.28 124.45,188.94 124.73,189.59 125.00,190.23 125.28,190.88 125.56,191.51 125.84,192.14 126.11,192.76 126.39,193.38 126.67,193.99 126.94,194.59 127.22,195.19 127.50,195.78 127.78,196.36 128.05,196.93 128.33,197.50 128.61,198.05 128.88,198.60 129.16,199.14 129.44,199.67 129.72,200.19 129.99,200.70 130.27,201.20 130.55,201.69 130.82,202.17 131.10,202.64 131.38,203.09 131.66,203.54 131.93,203.98 132.21,204.40 132.49,204.81 132.76,205.22 133.04,205.60 133.32,205.98 133.60,206.35 133.87,206.70 134.15,207.04 134.43,207.37 134.70,207.68 134.98,207.98 135.26,208.27 135.54,208.55 135.81,208.81 136.09,209.06 136.37,209.29 136.64,209.51 136.92,209.72 137.20,209.91 137.48,210.09 137.75,210.26 138.03,210.41 138.31,210.54 138.59,210.67 138.86,210.78 139.14,210.87 139.42,210.95 139.69,211.01 139.97,211.06 140.25,211.10 140.53,211.12 140.80,211.13 141.08,211.12 141.36,211.10 141.63,211.06 141.91,211.01 142.19,210.95 142.47,210.87 142.74,210.78 143.02,210.67 143.30,210.54 143.57,210.41 143.85,210.26 144.13,210.09 144.41,209.91 144.68,209.72 144.96,209.51 145.24,209.29 145.51,209.06 145.79,208.81 146.07,208.55 146.35,208.27 146.62,207.98 146.90,207.68 147.18,207.37 147.45,207.04 147.73,206.70 148.01,206.35 148.29,205.98 148.56,205.60 148.84,205.22 149.12,204.81 149.39,204.40 149.67,203.98 149.95,203.54 150.23,203.09 150.50,202.64 150.78,202.17 151.06,201.69 151.33,201.20 151.61,200.70 151.89,200.19 152.17,199.67 152.44,199.14 152.72,198.60 153.00,198.05 153.27,197.50 153.55,196.93 153.83,196.36 154.11,195.78 154.38,195.19 154.66,194.60 154.94,193.99 155.22,193.38 155.49,192.76 155.77,192.14 156.05,191.51 156.32,190.88 156.60,190.23 156.88,189.59 157.16,188.94 157.43,188.28 157.71,187.62 157.99,186.95 158.26,186.28 158.54,185.61 158.82,184.94 159.10,184.26 159.37,183.58 159.65,182.89 159.93,182.20 160.20,181.52 160.48,180.83 160.76,180.14 161.04,179.44 161.31,178.75 161.59,178.06 161.87,177.37 162.14,176.68 162.42,175.98 162.70,175.29 162.98,174.60 163.25,173.92 163.53,173.23 163.81,172.54 164.08,171.86 164.36,171.18 164.64,170.51 164.92,169.84 165.19,169.17 165.47,168.50 165.75,167.84 166.02,167.18 166.30,166.53 166.58,165.89 166.86,165.24 167.13,164.61 167.41,163.98 167.69,163.36 167.96,162.74 168.24,162.13 168.52,161.53 168.80,160.93 169.07,160.34 169.35,159.76 169.63,159.19 169.90,158.62 170.18,158.07 170.46,157.52 170.74,156.98 171.01,156.45 171.29,155.93 171.57,155.42 171.85,154.92 172.12,154.43 172.40,153.95 172.68,153.48 172.95,153.03 173.23,152.58 173.51,152.14 173.79,151.72 174.06,151.31 174.34,150.90 174.62,150.52 174.89,150.14 175.17,149.77 175.45,149.42 175.73,149.08 176.00,148.75 176.28,148.44 176.56,148.14 176.83,147.85 177.11,147.57 177.39,147.31 177.67,147.06 177.94,146.83 178.22,146.61 178.50,146.40 178.77,146.21 179.05,146.03 179.33,145.86 179.61,145.71 179.88,145.58 180.16,145.45 180.44,145.34 180.71,145.25 180.99,145.17 181.27,145.11 181.55,145.06 181.82,145.02 182.10,145.00 182.38,144.99 182.65,145.00 182.93,145.02 183.21,145.06 183.49,145.11 183.76,145.17 184.04,145.25 184.32,145.34 184.59,145.45 184.87,145.58 185.15,145.71 185.43,145.86 185.70,146.03 185.98,146.21 186.26,146.40 186.53,146.61 186.81,146.83 187.09,147.06 187.37,147.31 187.64,147.57 187.92,147.85 188.20,148.14 188.48,148.44 188.75,148.75 189.03,149.08 189.31,149.42 189.58,149.77 189.86,150.14 190.14,150.52 190.42,150.90 190.69,151.31 190.97,151.72 191.25,152.14 191.52,152.58 191.80,153.03 192.08,153.48 192.36,153.95 192.63,154.43 192.91,154.92 193.19,155.42 193.46,155.93 193.74,156.45 194.02,156.98 194.30,157.52 194.57,158.07 194.85,158.62 195.13,159.19 195.40,159.76 195.68,160.34 195.96,160.93 196.24,161.52 196.51,162.13 196.79,162.74 197.07,163.36 197.34,163.98 197.62,164.61 197.90,165.24 198.18,165.89 198.45,166.53 198.73,167.18 199.01,167.84 199.28,168.50 199.56,169.17 199.84,169.84 200.12,170.51 200.39,171.18 200.67,171.86 200.95,172.54 201.22,173.23 201.50,173.92 201.78,174.60 202.06,175.29 202.33,175.98 202.61,176.68 202.89,177.37 203.16,178.06 203.44,178.75 203.72,179.44 204.00,180.14 204.27,180.83 204.55,181.52 204.83,182.20 205.11,182.89 205.38,183.58 205.66,184.26 205.94,184.94 206.21,185.61 206.49,186.28 206.77,186.95 207.05,187.62 207.32,188.28 207.60,188.94 207.88,189.59 208.15,190.23 208.43,190.88 208.71,191.51 208.99,192.14 209.26,192.76 209.54,193.38 209.82,193.99 210.09,194.60 210.37,195.19 210.65,195.78 210.93,196.36 211.20,196.93 211.48,197.50 211.76,198.05 212.03,198.60 212.31,199.14 212.59,199.67 212.87,200.19 213.14,200.70 213.42,201.20 213.70,201.69 213.97,202.17 214.25,202.64 214.53,203.09 214.81,203.54 215.08,203.98 215.36,204.40 215.64,204.81 215.91,205.22 216.19,205.60 216.47,205.98 216.75,206.35 217.02,206.70 217.30,207.04 217.58,207.37 217.85,207.68 218.13,207.98 218.41,208.27 218.69,208.55 218.96,208.81 219.24,209.06 219.52,209.29 219.79,209.51 220.07,209.72 220.35,209.91 220.63,210.09 220.90,210.26 221.18,210.41 221.46,210.54 221.74,210.67 222.01,210.78 222.29,210.87 222.57,210.95 222.84,211.01 223.12,211.06 223.40,211.10 223.68,211.12 223.95,211.13 224.23,211.12 224.51,211.10 224.78,211.06 225.06,211.01 225.34,210.95 225.62,210.87 225.89,210.78 226.17,210.67 226.45,210.54 226.72,210.41 227.00,210.26 227.28,210.09 227.56,209.91 227.83,209.72 228.11,209.51 228.39,209.29 228.66,209.06 228.94,208.81 229.22,208.55 229.50,208.27 229.77,207.98 230.05,207.68 230.33,207.37 230.60,207.04 230.88,206.70 231.16,206.35 231.44,205.98 231.71,205.60 231.99,205.22 232.27,204.81 232.54,204.40 232.82,203.98 233.10,203.54 233.38,203.09 233.65,202.64 233.93,202.17 234.21,201.69 234.48,201.20 234.76,200.70 235.04,200.19 235.32,199.67 235.59,199.14 235.87,198.60 236.15,198.05 236.42,197.50 236.70,196.93 236.98,196.36 237.26,195.78 237.53,195.19 237.81,194.60 238.09,193.99 238.37,193.38 238.64,192.76 238.92,192.14 239.20,191.51 239.47,190.88 239.75,190.23 240.03,189.59 240.31,188.94 240.58,188.28 240.86,187.62 241.14,186.95 241.41,186.28 241.69,185.61 241.97,184.94 242.25,184.26 242.52,183.58 242.80,182.89 243.08,182.20 243.35,181.52 243.63,180.83 243.91,180.14 244.19,179.44 244.46,178.75 244.74,178.06 245.02,177.37 245.29,176.68 245.57,175.98 245.85,175.29 246.13,174.60 246.40,173.92 246.68,173.23 246.96,172.54 247.23,171.86 247.51,171.18 247.79,170.51 248.07,169.84 248.34,169.17 248.62,168.50 248.90,167.84 249.17,167.18 249.45,166.53 249.73,165.89 250.01,165.24 250.28,164.61 250.56,163.98 250.84,163.36 251.11,162.74 251.39,162.13 251.67,161.53 251.95,160.93 252.22,160.34 252.50,159.76 252.78,159.19 253.05,158.62 253.33,158.07 253.61,157.52 253.89,156.98 254.16,156.45 254.44,155.93 254.72,155.42 255.00,154.92 255.27,154.43 255.55,153.95 255.83,153.48 256.10,153.03 256.38,152.58 256.66,152.14 256.94,151.72 257.21,151.31 257.49,150.90 257.77,150.52 258.04,150.14 258.32,149.77 258.60,149.42 258.88,149.08 259.15,148.75 259.43,148.44 259.71,148.14 259.98,147.85 260.26,147.57 260.54,147.31 260.82,147.06 261.09,146.83 261.37,146.61 261.65,146.40 261.92,146.21 262.20,146.03 262.48,145.86 262.76,145.71 263.03,145.58 263.31,145.45 263.59,145.34 263.86,145.25 264.14,145.17 264.42,145.11 264.70,145.06 264.97,145.02 265.25,145.00 265.53,144.99 265.80,145.00 266.08,145.02 266.36,145.06 266.64,145.11 266.91,145.17 267.19,145.25 267.47,145.34 267.74,145.45 268.02,145.58 268.30,145.71 268.58,145.86 268.85,146.03 269.13,146.21 269.41,146.40 269.68,146.61 269.96,146.83 270.24,147.06 270.52,147.31 270.79,147.57 271.07,147.85 271.35,148.14 271.63,148.44 271.90,148.75 272.18,149.08 272.46,149.42 272.73,149.77 273.01,150.14 273.29,150.52 273.57,150.90 273.84,151.31 274.12,151.72 274.40,152.14 274.67,152.58 274.95,153.03 275.23,153.48 275.51,153.95 275.78,154.43 276.06,154.92 276.34,155.42 276.61,155.93 276.89,156.45 277.17,156.98 277.45,157.52 277.72,158.07 278.00,158.62 278.28,159.19 278.55,159.76 278.83,160.34 279.11,160.93 279.39,161.53 279.66,162.13 279.94,162.74 280.22,163.36 280.49,163.98 280.77,164.61 281.05,165.24 281.33,165.89 281.60,166.53 281.88,167.18 282.16,167.84 282.43,168.50 282.71,169.17 282.99,169.84 283.27,170.51 283.54,171.18 283.82,171.86 284.10,172.54 284.37,173.23 284.65,173.92 284.93,174.60 285.21,175.29 285.48,175.98 285.76,176.68 286.04,177.37 286.31,178.06 286.59,178.75 286.87,179.44 287.15,180.14 287.42,180.83 287.70,181.52 287.98,182.20 288.26,182.89 288.53,183.58 288.81,184.26 289.09,184.94 289.36,185.61 289.64,186.28 289.92,186.95 290.20,187.62 290.47,188.28 290.75,188.94 291.03,189.59 291.30,190.23 291.58,190.88 291.86,191.51 292.14,192.14 292.41,192.76 292.69,193.38 292.97,193.99 293.24,194.59 293.52,195.19 293.80,195.78 294.08,196.36 294.35,196.93 294.63,197.50 294.91,198.05 295.18,198.60 295.46,199.14 295.74,199.67 296.02,200.19 296.29,200.70 296.57,201.20 296.85,201.69 297.12,202.17 297.40,202.64 297.68,203.09 297.96,203.54 298.23,203.98 298.51,204.40 298.79,204.81 299.06,205.22 299.34,205.60 299.62,205.98 299.90,206.35 300.17,206.70 300.45,207.04 300.73,207.37 301.00,207.68 301.28,207.98 301.56,208.27 301.84,208.55 302.11,208.81 302.39,209.06 302.67,209.29 302.94,209.51 303.22,209.72 303.50,209.91 303.78,210.09 304.05,210.26 304.33,210.41 304.61,210.54 304.89,210.67 305.16,210.78 305.44,210.87 305.72,210.95 305.99,211.01 306.27,211.06 306.55,211.10 306.83,211.12 307.10,211.13 307.38,211.12 307.66,211.10 307.93,211.06 308.21,211.01 308.49,210.95 308.77,210.87 309.04,210.78 309.32,210.67 309.60,210.54 309.87,210.41 310.15,210.26 310.43,210.09 310.71,209.91 310.98,209.72 311.26,209.51 311.54,209.29 311.81,209.06 312.09,208.81 312.37,208.55 312.65,208.27 312.92,207.98 313.20,207.68 313.48,207.37 313.75,207.04 314.03,206.70 314.31,206.35 314.59,205.98 314.86,205.60 315.14,205.22 315.42,204.81 315.69,204.40 315.97,203.98 316.25,203.54 316.53,203.09 316.80,202.64 317.08,202.17 317.36,201.69 317.63,201.20 317.91,200.70 318.19,200.19 318.47,199.67 318.74,199.14 319.02,198.60 319.30,198.05 319.57,197.50 319.85,196.93 320.13,196.36 320.41,195.78 320.68,195.19 320.96,194.60 321.24,193.99 321.52,193.38 321.79,192.76 322.07,192.14 322.35,191.51 322.62,190.88 322.90,190.23 323.18,189.59 323.46,188.94 323.73,188.28 324.01,187.62 324.29,186.95 324.56,186.28 324.84,185.61 325.12,184.94 325.40,184.26 325.67,183.58 325.95,182.89 326.23,182.20 326.50,181.52 326.78,180.83 327.06,180.14 327.34,179.44 327.61,178.75 327.89,178.06 328.17,177.37 328.44,176.68 328.72,175.98 329.00,175.29 329.28,174.60 329.55,173.92 329.83,173.23 330.11,172.54 330.38,171.86 330.66,171.18 330.94,170.51 331.22,169.84 331.49,169.17 331.77,168.50 332.05,167.84 332.32,167.18 332.60,166.53 332.88,165.89 333.16,165.24 333.43,164.61 333.71,163.98 333.99,163.36 334.26,162.74 334.54,162.13 334.82,161.53 335.10,160.93 335.37,160.34 335.65,159.76 335.93,159.19 336.20,158.62 336.48,158.07 336.76,157.52 337.04,156.98 337.31,156.45 337.59,155.93 337.87,155.42 338.15,154.92 338.42,154.43 338.70,153.95 338.98,153.48 339.25,153.03 339.53,152.58 339.81,152.14 340.09,151.72 340.36,151.31 340.64,150.90 340.92,150.52 341.19,150.14 341.47,149.77 341.75,149.42 342.03,149.08 342.30,148.75 342.58,148.44 342.86,148.14 343.13,147.85 343.41,147.57 343.69,147.31 343.97,147.06 344.24,146.83 344.52,146.61 344.80,146.40 345.07,146.21 345.35,146.03 345.63,145.86 345.91,145.71 346.18,145.58 346.46,145.45 346.74,145.34 347.01,145.25 347.29,145.17 347.57,145.11 347.85,145.06 348.12,145.02 348.40,145.00 348.68,144.99 348.95,145.00 349.23,145.02 349.51,145.06 349.79,145.11 350.06,145.17 350.34,145.25 350.62,145.34 350.89,145.45 351.17,145.58 351.45,145.71 351.73,145.86 352.00,146.03 352.28,146.21 352.56,146.40 352.83,146.61 353.11,146.83 353.39,147.06 353.67,147.31 353.94,147.57 354.22,147.85 354.50,148.14 354.78,148.44 355.05,148.75 355.33,149.08 355.61,149.42 355.88,149.77 356.16,150.14 356.44,150.52 356.72,150.90 356.99,151.31 357.27,151.72 357.55,152.14 357.82,152.58 358.10,153.03 358.38,153.48 358.66,153.95 358.93,154.43 359.21,154.92 359.49,155.42 359.76,155.93 360.04,156.45 360.32,156.98 360.60,157.52 360.87,158.07 361.15,158.62 361.43,159.19 361.70,159.76 361.98,160.34 362.26,160.93 362.54,161.52 362.81,162.13 363.09,162.74 363.37,163.36 363.64,163.98 363.92,164.61 364.20,165.24 364.48,165.89 364.75,166.53 365.03,167.18 365.31,167.84 365.58,168.50 365.86,169.17 366.14,169.84 366.42,170.51 366.69,171.18 366.97,171.86 367.25,172.54 367.52,173.23 367.80,173.92 368.08,174.60 368.36,175.29 368.63,175.98 368.91,176.68 369.19,177.37 369.46,178.06 369.74,178.75 370.02,179.44 370.30,180.14 370.57,180.83 370.85,181.52 371.13,182.20 371.41,182.89 371.68,183.58 371.96,184.26 372.24,184.94 372.51,185.61 372.79,186.28 373.07,186.95 373.35,187.62 373.62,188.28 373.90,188.94 374.18,189.59 374.45,190.23 374.73,190.88 375.01,191.51 375.29,192.14 375.56,192.76 375.84,193.38 376.12,193.99 376.39,194.60 376.67,195.19 376.95,195.78 377.23,196.36 377.50,196.93 377.78,197.50 378.06,198.05 378.33,198.60 378.61,199.14 378.89,199.67 379.17,200.19 379.44,200.70 379.72,201.20 380.00,201.69 380.27,202.17 380.55,202.64 380.83,203.09 381.11,203.54 381.38,203.98 381.66,204.40 381.94,204.81 382.21,205.22 382.49,205.60 382.77,205.98 383.05,206.35 383.32,206.70 383.60,207.04 383.88,207.37 384.15,207.68 384.43,207.98 384.71,208.27 384.99,208.55 385.26,208.81 385.54,209.06 385.82,209.29 386.09,209.51 386.37,209.72 386.65,209.91 386.93,210.09 387.20,210.26 387.48,210.41 387.76,210.54 388.04,210.67 388.31,210.78 388.59,210.87 388.87,210.95 389.14,211.01 389.42,211.06 389.70,211.10 389.98,211.12 390.25,211.13 390.53,211.12 390.81,211.10 391.08,211.06 391.36,211.01 391.64,210.95 391.92,210.87 392.19,210.78 392.47,210.67 392.75,210.54 393.02,210.41 393.30,210.26 393.58,210.09 393.86,209.91 394.13,209.72 394.41,209.51 394.69,209.29 394.96,209.06 395.24,208.81 395.52,208.55 395.80,208.27 396.07,207.98 396.35,207.68 396.63,207.37 396.90,207.04 397.18,206.70 397.46,206.35 397.74,205.98 398.01,205.60 398.29,205.22 398.57,204.81 398.84,204.40 399.12,203.98 399.40,203.54 399.68,203.09 399.95,202.64 400.23,202.17 400.51,201.69 400.78,201.20 401.06,200.70 401.34,200.19 401.62,199.67 401.89,199.14 402.17,198.60 402.45,198.05 402.72,197.50 403.00,196.93 403.28,196.36 403.56,195.78 403.83,195.19 404.11,194.60 404.39,193.99 404.67,193.38 404.94,192.76 405.22,192.14 405.50,191.51 405.77,190.88 406.05,190.23 406.33,189.59 406.61,188.94 406.88,188.28 407.16,187.62 407.44,186.95 407.71,186.28 407.99,185.61 408.27,184.94 408.55,184.26 408.82,183.58 409.10,182.89 409.38,182.20 409.65,181.52 409.93,180.83 410.21,180.14 410.49,179.44 410.76,178.75 411.04,178.06" fill="none" stroke="#b4b4b4" stroke-width="2.5" stroke-linejoin="round" stroke-linecap="butt"/>
<polyline points="78.44,189.72 78.72,189.38 78.99,189.04 79.27,188.69 79.55,188.34 79.83,187.98 80.10,187.62 80.38,187.25 80.66,186.88 80.93,186.51 81.21,186.13 81.49,185.75 81.77,185.36 82.04,184.98 82.32,184.59 82.60,184.19 82.87,183.79 83.15,183.40 83.43,182.99 83.71,182.59 83.98,182.19 84.26,181.78 84.54,181.37 84.81,180.96 85.09,180.55 85.37,180.13 85.65,179.72 85.92,179.31 86.20,178.89 86.48,178.48 86.75,178.06 87.03,177.64 87.31,177.23 87.59,176.81 87.86,176.40 88.14,175.99 88.42,175.57 88.70,175.16 88.97,174.75 89.25,174.34 89.53,173.93 89.80,173.53 90.08,173.13 90.36,172.72 90.64,172.33 90.91,171.93 91.19,171.53 91.47,171.14 91.74,170.76 92.02,170.37 92.30,169.99 92.58,169.61 92.85,169.24 93.13,168.87 93.41,168.50 93.68,168.14 93.96,167.78 94.24,167.43 94.52,167.08 94.79,166.74 95.07,166.40 95.35,166.06 95.62,165.74 95.90,165.41 96.18,165.09 96.46,164.78 96.73,164.48 97.01,164.18 97.29,163.88 97.56,163.60 97.84,163.31 98.12,163.04 98.40,162.77 98.67,162.51 98.95,162.26 99.23,162.01 99.50,161.77 99.78,161.53 100.06,161.31 100.34,161.09 100.61,160.88 100.89,160.67 101.17,160.48 101.44,160.29 101.72,160.11 102.00,159.93 102.28,159.77 102.55,159.61 102.83,159.46 103.11,159.32 103.38,159.19 103.66,159.06 103.94,158.95 104.22,158.84 104.49,158.74 104.77,158.65 105.05,158.57 105.33,158.50 105.60,158.43 105.88,158.37 106.16,158.33 106.43,158.29 106.71,158.26 106.99,158.24 107.27,158.22 107.54,158.22 107.82,158.22 108.10,158.24 108.37,158.26 108.65,158.29 108.93,158.33 109.21,158.37 109.48,158.43 109.76,158.50 110.04,158.57 110.31,158.65 110.59,158.74 110.87,158.84 111.15,158.95 111.42,159.06 111.70,159.19 111.98,159.32 112.25,159.46 112.53,159.61 112.81,159.77 113.09,159.93 113.36,160.11 113.64,160.29 113.92,160.48 114.19,160.67 114.47,160.88 114.75,161.09 115.03,161.31 115.30,161.53 115.58,161.77 115.86,162.01 116.13,162.26 116.41,162.51 116.69,162.77 116.97,163.04 117.24,163.31 117.52,163.60 117.80,163.88 118.07,164.18 118.35,164.48 118.63,164.78 118.91,165.09 119.18,165.41 119.46,165.74 119.74,166.06 120.01,166.40 120.29,166.74 120.57,167.08 120.85,167.43 121.12,167.78 121.40,168.14 121.68,168.50 121.96,168.87 122.23,169.24 122.51,169.61 122.79,169.99 123.06,170.37 123.34,170.76 123.62,171.14 123.90,171.53 124.17,171.93 124.45,172.33 124.73,172.72 125.00,173.13 125.28,173.53 125.56,173.93 125.84,174.34 126.11,174.75 126.39,175.16 126.67,175.57 126.94,175.99 127.22,176.40 127.50,176.81 127.78,177.23 128.05,177.64 128.33,178.06 128.61,178.48 128.88,178.89 129.16,179.31 129.44,179.72 129.72,180.13 129.99,180.55 130.27,180.96 130.55,181.37 130.82,181.78 131.10,182.19 131.38,182.59 131.66,182.99 131.93,183.40 132.21,183.79 132.49,184.19 132.76,184.59 133.04,184.98 133.32,185.36 133.60,185.75 133.87,186.13 134.15,186.51 134.43,186.88 134.70,187.25 134.98,187.62 135.26,187.98 135.54,188.34 135.81,188.69 136.09,189.04 136.37,189.38 136.64,189.72 136.92,190.06 137.20,190.38 137.48,190.71 137.75,191.03 138.03,191.34 138.31,191.64 138.59,191.94 138.86,192.24 139.14,192.52 139.42,192.81 139.69,193.08 139.97,193.35 140.25,193.61 140.53,193.86 140.80,194.11 141.08,194.35 141.36,194.59 141.63,194.81 141.91,195.03 142.19,195.24 142.47,195.45 142.74,195.64 143.02,195.83 143.30,196.01 143.57,196.19 143.85,196.35 144.13,196.51 144.41,196.66 144.68,196.80 144.96,196.93 145.24,197.06 145.51,197.17 145.79,197.28 146.07,197.38 146.35,197.47 146.62,197.55 146.90,197.62 147.18,197.69 147.45,197.75 147.73,197.79 148.01,197.83 148.29,197.86 148.56,197.88 148.84,197.90 149.12,197.90 149.39,197.90 149.67,197.88 149.95,197.86 150.23,197.83 150.50,197.79 150.78,197.75 151.06,197.69 151.33,197.62 151.61,197.55 151.89,197.47 152.17,197.38 152.44,197.28 152.72,197.17 153.00,197.06 153.27,196.93 153.55,196.80 153.83,196.66 154.11,196.51 154.38,196.35 154.66,196.19 154.94,196.01 155.22,195.83 155.49,195.64 155.77,195.45 156.05,195.24 156.32,195.03 156.60,194.81 156.88,194.59 157.16,194.35 157.43,194.11 157.71,193.86 157.99,193.61 158.26,193.35 158.54,193.08 158.82,192.81 159.10,192.52 159.37,192.24 159.65,191.94 159.93,191.64 160.20,191.34 160.48,191.03 160.76,190.71 161.04,190.38 161.31,190.06 161.59,189.72 161.87,189.38 162.14,189.04 162.42,188.69 162.70,188.34 162.98,187.98 163.25,187.62 163.53,187.25 163.81,186.88 164.08,186.51 164.36,186.13 164.64,185.75 164.92,185.36 165.19,184.98 165.47,184.59 165.75,184.19 166.02,183.79 166.30,183.40 166.58,182.99 166.86,182.59 167.13,182.19 167.41,181.78 167.69,181.37 167.96,180.96 168.24,180.55 168.52,180.13 168.80,179.72 169.07,179.31 169.35,178.89 169.63,178.48 169.90,178.06 170.18,177.64 170.46,177.23 170.74,176.81 171.01,176.40 171.29,175.99 171.57,175.57 171.85,175.16 172.12,174.75 172.40,174.34 172.68,173.93 172.95,173.53 173.23,173.13 173.51,172.72 173.79,172.33 174.06,171.93 174.34,171.53 174.62,171.14 174.89,170.76 175.17,170.37 175.45,169.99 175.73,169.61 176.00,169.24 176.28,168.87 176.56,168.50 176.83,168.14 177.11,167.78 177.39,167.43 177.67,167.08 177.94,166.74 178.22,166.40 178.50,166.06 178.77,165.74 179.05,165.41 179.33,165.09 179.61,164.78 179.88,164.48 180.16,164.18 180.44,163.88 180.71,163.60 180.99,163.31 181.27,163.04 181.55,162.77 181.82,162.51 182.10,162.26 182.38,162.01 182.65,161.77 182.93,161.53 183.21,161.31 183.49,161.09 183.76,160.88 184.04,160.67 184.32,160.48 184.59,160.29 184.87,160.11 185.15,159.93 185.43,159.77 185.70,159.61 185.98,159.46 186.26,159.32 186.53,159.19 186.81,159.06 187.09,158.95 187.37,158.84 187.64,158.74 187.92,158.65 188.20,158.57 188.48,158.50 188.75,158.43 189.03,158.37 189.31,158.33 189.58,158.29 189.86,158.26 190.14,158.24 190.42,158.22 190.69,158.22 190.97,158.22 191.25,158.24 191.52,158.26 191.80,158.29 192.08,158.33 192.36,158.37 192.63,158.43 192.91,158.50 193.19,158.57 193.46,158.65 193.74,158.74 194.02,158.84 194.30,158.95 194.57,159.06 194.85,159.19 195.13,159.32 195.40,159.46 195.68,159.61 195.96,159.77 196.24,159.93 196.51,160.11 196.79,160.29 197.07,160.48 197.34,160.67 197.62,160.88 197.90,161.09 198.18,161.31 198.45,161.53 198.73,161.77 199.01,162.01 199.28,162.26 199.56,162.51 199.84,162.77 200.12,163.04 200.39,163.31 200.67,163.60 200.95,163.88 201.22,164.18 201.50,164.48 201.78,164.78 202.06,165.09 202.33,165.41 202.61,165.74 202.89,166.06 203.16,166.40 203.44,166.74 203.72,167.08 204.00,167.43 204.27,167.78 204.55,168.14 204.83,168.50 205.11,168.87 205.38,169.24 205.66,169.61 205.94,169.99 206.21,170.37 206.49,170.76 206.77,171.14 207.05,171.53 207.32,171.93 207.60,172.33 207.88,172.72 208.15,173.13 208.43,173.53 208.71,173.93 208.99,174.34 209.26,174.75 209.54,175.16 209.82,175.57 210.09,175.99 210.37,176.40 210.65,176.81 210.93,177.23 211.20,177.64 211.48,178.06 211.76,178.48 212.03,178.89 212.31,179.31 212.59,179.72 212.87,180.13 213.14,180.55 213.42,180.96 213.70,181.37 213.97,181.78 214.25,182.19 214.53,182.59 214.81,182.99 215.08,183.40 215.36,183.79 215.64,184.19 215.91,184.59 216.19,184.98 216.47,185.36 216.75,185.75 217.02,186.13 217.30,186.51 217.58,186.88 217.85,187.25 218.13,187.62 218.41,187.98 218.69,188.34 218.96,188.69 219.24,189.04 219.52,189.38 219.79,189.72 220.07,190.06 220.35,190.38 220.63,190.71 220.90,191.03 221.18,191.34 221.46,191.64 221.74,191.94 222.01,192.24 222.29,192.52 222.57,192.81 222.84,193.08 223.12,193.35 223.40,193.61 223.68,193.86 223.95,194.11 224.23,194.35 224.51,194.59 224.78,194.81 225.06,195.03 225.34,195.24 225.62,195.45 225.89,195.64 226.17,195.83 226.45,196.01 226.72,196.19 227.00,196.35 227.28,196.51 227.56,196.66 227.83,196.80 228.11,196.93 228.39,197.06 228.66,197.17 228.94,197.28 229.22,197.38 229.50,197.47 229.77,197.55 230.05,197.62 230.33,197.69 230.60,197.75 230.88,197.79 231.16,197.83 231.44,197.86 231.71,197.88 231.99,197.90 232.27,197.90 232.54,197.90 232.82,197.88 233.10,197.86 233.38,197.83 233.65,197.79 233.93,197.75 234.21,197.69 234.48,197.62 234.76,197.55 235.04,197.47 235.32,197.38 235.59,197.28 235.87,197.17 236.15,197.06 236.42,196.93 236.70,196.80 236.98,196.66 237.26,196.51 237.53,196.35 237.81,196.19 238.09,196.01 238.37,195.83 238.64,195.64 238.92,195.45 239.20,195.24 239.47,195.03 239.75,194.81 240.03,194.59 240.31,194.35 240.58,194.11 240.86,193.86 241.14,193.61 241.41,193.35 241.69,193.08 241.97,192.81 242.25,192.52 242.52,192.24 242.80,191.94 243.08,191.64 243.35,191.34 243.63,191.03 243.91,190.71 244.19,190.38 244.46,190.06 244.74,189.72 245.02,189.38 245.29,189.04 245.57,188.69 245.85,188.34 246.13,187.98 246.40,187.62 246.68,187.25 246.96,186.88 247.23,186.51 247.51,186.13 247.79,185.75 248.07,185.36 248.34,184.98 248.62,184.59 248.90,184.19 249.17,183.79 249.45,183.40 249.73,182.99 250.01,182.59 250.28,182.19 250.56,181.78 250.84,181.37 251.11,180.96 251.39,180.55 251.67,180.13 251.95,179.72 252.22,179.31 252.50,178.89 252.78,178.48 253.05,178.06 253.33,177.64 253.61,177.23 253.89,176.81 254.16,176.40 254.44,175.99 254.72,175.57 255.00,175.16 255.27,174.75 255.55,174.34 255.83,173.93 256.10,173.53 256.38,173.13 256.66,172.72 256.94,172.33 257.21,171.93 257.49,171.53 257.77,171.14 258.04,170.76 258.32,170.37 258.60,169.99 258.88,169.61 259.15,169.24 259.43,168.87 259.71,168.50 259.98,168.14 260.26,167.78 260.54,167.43 260.82,167.08 261.09,166.74 261.37,166.40 261.65,166.06 261.92,165.74 262.20,165.41 262.48,165.09 262.76,164.78 263.03,164.48 263.31,164.18 263.59,163.88 263.86,163.60 264.14,163.31 264.42,163.04 264.70,162.77 264.97,162.51 265.25,162.26 265.53,162.01 265.80,161.77 266.08,161.53 266.36,161.31 266.64,161.09 266.91,160.88 267.19,160.67 267.47,160.48 267.74,160.29 268.02,160.11 268.30,159.93 268.58,159.77 268.85,159.61 269.13,159.46 269.41,159.32 269.68,159.19 269.96,159.06 270.24,158.95 270.52,158.84 270.79,158.74 271.07,158.65 271.35,158.57 271.63,158.50 271.90,158.43 272.18,158.37 272.46,158.33 272.73,158.29 273.01,158.26 273.29,158.24 273.57,158.22 273.84,158.22 274.12,158.22 274.40,158.24 274.67,158.26 274.95,158.29 275.23,158.33 275.51,158.37 275.78,158.43 276.06,158.50 276.34,158.57 276.61,158.65 276.89,158.74 277.17,158.84 277.45,158.95 277.72,159.06 278.00,159.19 278.28,159.32 278.55,159.46 278.83,159.61 279.11,159.77 279.39,159.93 279.66,160.11 279.94,160.29 280.22,160.48 280.49,160.67 280.77,160.88 281.05,161.09 281.33,161.31 281.60,161.53 281.88,161.77 282.16,162.01 282.43,162.26 282.71,162.51 282.99,162.77 283.27,163.04 283.54,163.31 283.82,163.60 284.10,163.88 284.37,164.18 284.65,164.48 284.93,164.78 285.21,165.09 285.48,165.41 285.76,165.74 286.04,166.06 286.31,166.40 286.59,166.74 286.87,167.08 287.15,167.43 287.42,167.78 287.70,168.14 287.98,168.50 288.26,168.87 288.53,169.24 288.81,169.61 289.09,169.99 289.36,170.37 289.64,170.76 289.92,171.14 290.20,171.53 290.47,171.93 290.75,172.33 291.03,172.72 291.30,173.13 291.58,173.53 291.86,173.93 292.14,174.34 292.41,174.75 292.69,175.16 292.97,175.57 293.24,175.99 293.52,176.40 293.80,176.81 294.08,177.23 294.35,177.64 294.63,178.06 294.91,178.48 295.18,178.89 295.46,179.31 295.74,179.72 296.02,180.13 296.29,180.55 296.57,180.96 296.85,181.37 297.12,181.78 297.40,182.19 297.68,182.59 297.96,182.99 298.23,183.40 298.51,183.79 298.79,184.19 299.06,184.59 299.34,184.98 299.62,185.36 299.90,185.75 300.17,186.13 300.45,186.51 300.73,186.88 301.00,187.25 301.28,187.62 301.56,187.98 301.84,188.34 302.11,188.69 302.39,189.04 302.67,189.38 302.94,189.72 303.22,190.06 303.50,190.38 303.78,190.71 304.05,191.03 304.33,191.34 304.61,191.64 304.89,191.94 305.16,192.24 305.44,192.52 305.72,192.81 305.99,193.08 306.27,193.35 306.55,193.61 306.83,193.86 307.10,194.11 307.38,194.35 307.66,194.59 307.93,194.81 308.21,195.03 308.49,195.24 308.77,195.45 309.04,195.64 309.32,195.83 309.60,196.01 309.87,196.19 310.15,196.35 310.43,196.51 310.71,196.66 310.98,196.80 311.26,196.93 311.54,197.06 311.81,197.17 312.09,197.28 312.37,197.38 312.65,197.47 312.92,197.55 313.20,197.62 313.48,197.69 313.75,197.75 314.03,197.79 314.31,197.83 314.59,197.86 314.86,197.88 315.14,197.90 315.42,197.90 315.69,197.90 315.97,197.88 316.25,197.86 316.53,197.83 316.80,197.79 317.08,197.75 317.36,197.69 317.63,197.62 317.91,197.55 318.19,197.47 318.47,197.38 318.74,197.28 319.02,197.17 319.30,197.06 319.57,196.93 319.85,196.80 320.13,196.66 320.41,196.51 320.68,196.35 320.96,196.19 321.24,196.01 321.52,195.83 321.79,195.64 322.07,195.45 322.35,195.24 322.62,195.03 322.90,194.81 323.18,194.59 323.46,194.35 323.73,194.11 324.01,193.86 324.29,193.61 324.56,193.35 324.84,193.08 325.12,192.81 325.40,192.52 325.67,192.24 325.95,191.94 326.23,191.64 326.50,191.34 326.78,191.03 327.06,190.71 327.34,190.38 327.61,190.06 327.89,189.72 328.17,189.38 328.44,189.04 328.72,188.69 329.00,188.34 329.28,187.98 329.55,187.62 329.83,187.25 330.11,186.88 330.38,186.51 330.66,186.13 330.94,185.75 331.22,185.36 331.49,184.98 331.77,184.59 332.05,184.19 332.32,183.79 332.60,183.40 332.88,182.99 333.16,182.59 333.43,182.19 333.71,181.78 333.99,181.37 334.26,180.96 334.54,180.55 334.82,180.13 335.10,179.72 335.37,179.31 335.65,178.89 335.93,178.48 336.20,178.06 336.48,177.64 336.76,177.23 337.04,176.81 337.31,176.40 337.59,175.99 337.87,175.57 338.15,175.16 338.42,174.75 338.70,174.34 338.98,173.93 339.25,173.53 339.53,173.13 339.81,172.72 340.09,172.33 340.36,171.93 340.64,171.53 340.92,171.14 341.19,170.76 341.47,170.37 341.75,169.99 342.03,169.61 342.30,169.24 342.58,168.87 342.86,168.50 343.13,168.14 343.41,167.78 343.69,167.43 343.97,167.08 344.24,166.74 344.52,166.40 344.80,166.06 345.07,165.74 345.35,165.41 345.63,165.09 345.91,164.78 346.18,164.48 346.46,164.18 346.74,163.88 347.01,163.60 347.29,163.31 347.57,163.04 347.85,162.77 348.12,162.51 348.40,162.26 348.68,162.01 348.95,161.77 349.23,161.53 349.51,161.31 349.79,161.09 350.06,160.88 350.34,160.67 350.62,160.48 350.89,160.29 351.17,160.11 351.45,159.93 351.73,159.77 352.00,159.61 352.28,159.46 352.56,159.32 352.83,159.19 353.11,159.06 353.39,158.95 353.67,158.84 353.94,158.74 354.22,158.65 354.50,158.57 354.78,158.50 355.05,158.43 355.33,158.37 355.61,158.33 355.88,158.29 356.16,158.26 356.44,158.24 356.72,158.22 356.99,158.22 357.27,158.22 357.55,158.24 357.82,158.26 358.10,158.29 358.38,158.33 358.66,158.37 358.93,158.43 359.21,158.50 359.49,158.57 359.76,158.65 360.04,158.74 360.32,158.84 360.60,158.95 360.87,159.06 361.15,159.19 361.43,159.32 361.70,159.46 361.98,159.61 362.26,159.77 362.54,159.93 362.81,160.11 363.09,160.29 363.37,160.48 363.64,160.67 363.92,160.88 364.20,161.09 364.48,161.31 364.75,161.53 365.03,161.77 365.31,162.01 365.58,162.26 365.86,162.51 366.14,162.77 366.42,163.04 366.69,163.31 366.97,163.60 367.25,163.88 367.52,164.18 367.80,164.48 368.08,164.78 368.36,165.09 368.63,165.41 368.91,165.74 369.19,166.06 369.46,166.40 369.74,166.74 370.02,167.08 370.30,167.43 370.57,167.78 370.85,168.14 371.13,168.50 371.41,168.87 371.68,169.24 371.96,169.61 372.24,169.99 372.51,170.37 372.79,170.76 373.07,171.14 373.35,171.53 373.62,171.93 373.90,172.33 374.18,172.72 374.45,173.13 374.73,173.53 375.01,173.93 375.29,174.34 375.56,174.75 375.84,175.16 376.12,175.57 376.39,175.99 376.67,176.40 376.95,176.81 377.23,177.23 377.50,177.64 377.78,178.06 378.06,178.48 378.33,178.89 378.61,179.31 378.89,179.72 379.17,180.13 379.44,180.55 379.72,180.96 380.00,181.37 380.27,181.78 380.55,182.19 380.83,182.59 381.11,182.99 381.38,183.40 381.66,183.79 381.94,184.19 382.21,184.59 382.49,184.98 382.77,185.36 383.05,185.75 383.32,186.13 383.60,186.51 383.88,186.88 384.15,187.25 384.43,187.62 384.71,187.98 384.99,188.34 385.26,188.69 385.54,189.04 385.82,189.38 386.09,189.72 386.37,190.06 386.65,190.38 386.93,190.71 387.20,191.03 387.48,191.34 387.76,191.64 388.04,191.94 388.31,192.24 388.59,192.52 388.87,192.81 389.14,193.08 389.42,193.35 389.70,193.61 389.98,193.86 390.25,194.11 390.53,194.35 390.81,194.59 391.08,194.81 391.36,195.03 391.64,195.24 391.92,195.45 392.19,195.64 392.47,195.83 392.75,196.01 393.02,196.19 393.30,196.35 393.58,196.51 393.86,196.66 394.13,196.80 394.41,196.93 394.69,197.06 394.96,197.17 395.24,197.28 395.52,197.38 395.80,197.47 396.07,197.55 396.35,197.62 396.63,197.69 396.90,197.75 397.18,197.79 397.46,197.83 397.74,197.86 398.01,197.88 398.29,197.90 398.57,197.90 398.84,197.90 399.12,197.88 399.40,197.86 399.68,197.83 399.95,197.79 400.23,197.75 400.51,197.69 400.78,197.62 401.06,197.55 401.34,197.47 401.62,197.38 401.89,197.28 402.17,197.17 402.45,197.06 402.72,196.93 403.00,196.80 403.28,196.66 403.56,196.51 403.83,196.35 404.11,196.19 404.39,196.01 404.67,195.83 404.94,195.64 405.22,195.45 405.50,195.24 405.77,195.03 406.05,194.81 406.33,194.59 406.61,194.35 406.88,194.11 407.16,193.86 407.44,193.61 407.71,193.35 407.99,193.08 408.27,192.81 408.55,192.52 408.82,192.24 409.10,191.94 409.38,191.64 409.65,191.34 409.93,191.03 410.21,190.71 410.49,190.38 410.76,190.06 411.04,189.72" fill="none" stroke="#000" stroke-width="2.5" stroke-linejoin="round" stroke-dasharray="2.6 1.9" stroke-linecap="butt"/>
<line x1="60.45" y1="143.67" x2="60.45" y2="212.45" stroke="#000" stroke-width="2.65" />
<line x1="52.00" y1="211.13" x2="60.45" y2="211.13" stroke="#000" stroke-width="2.6" />
<text transform="translate(48.20,219.03) scale(0.98,1.05)" font-size="22" text-anchor="end" >1</text>
<line x1="52.00" y1="178.06" x2="60.45" y2="178.06" stroke="#000" stroke-width="2.6" />
<text transform="translate(48.20,185.96) scale(0.98,1.05)" font-size="22" text-anchor="end" >2</text>
<line x1="52.00" y1="144.99" x2="60.45" y2="144.99" stroke="#000" stroke-width="2.6" />
<text transform="translate(48.20,152.89) scale(0.98,1.05)" font-size="22" text-anchor="end" >3</text>
<text transform="translate(427.00,139.34) scale(1.0,0.98)" font-size="24.5" text-anchor="end" >0.2 Hz</text>
<line x1="464.00" y1="220.90" x2="600.50" y2="220.90" stroke="#c6c6c6" stroke-width="1.0" stroke-dasharray="2.43 2.43"/>
<line x1="464.00" y1="179.23" x2="600.50" y2="179.23" stroke="#c6c6c6" stroke-width="1.0" stroke-dasharray="2.43 2.43"/>
<line x1="464.00" y1="137.55" x2="600.50" y2="137.55" stroke="#c6c6c6" stroke-width="1.0" stroke-dasharray="2.43 2.43"/>
<line x1="506.75" y1="220.90" x2="506.75" y2="170.89" stroke="#000" stroke-width="2.65" />
<line x1="602.60" y1="136.23" x2="602.60" y2="222.22" stroke="#000" stroke-width="2.65" />
<line x1="602.60" y1="220.90" x2="610.90" y2="220.90" stroke="#000" stroke-width="2.6" />
<text transform="translate(616.80,229.00) scale(0.98,1.05)" font-size="22" text-anchor="start" >0.0</text>
<line x1="602.60" y1="179.23" x2="610.90" y2="179.23" stroke="#000" stroke-width="2.6" />
<text transform="translate(616.80,187.33) scale(0.98,1.05)" font-size="22" text-anchor="start" >0.5</text>
<line x1="602.60" y1="137.55" x2="610.90" y2="137.55" stroke="#000" stroke-width="2.6" />
<text transform="translate(616.80,145.65) scale(0.98,1.05)" font-size="22" text-anchor="start" >1.0</text>
<line x1="460.98" y1="225.20" x2="596.98" y2="225.20" stroke="#000" stroke-width="2.65" />
<line x1="462.30" y1="225.20" x2="462.30" y2="233.60" stroke="#000" stroke-width="2.6" />
<line x1="506.75" y1="225.20" x2="506.75" y2="233.60" stroke="#000" stroke-width="2.6" />
<line x1="551.20" y1="225.20" x2="551.20" y2="233.60" stroke="#000" stroke-width="2.6" />
<line x1="595.65" y1="225.20" x2="595.65" y2="233.60" stroke="#000" stroke-width="2.6" />
<polyline points="78.44,297.20 78.72,296.16 78.99,295.12 79.27,294.09 79.55,293.06 79.83,292.03 80.10,291.00 80.38,289.99 80.66,288.98 80.93,287.97 81.21,286.98 81.49,286.00 81.77,285.03 82.04,284.07 82.32,283.12 82.60,282.19 82.87,281.27 83.15,280.37 83.43,279.48 83.71,278.61 83.98,277.76 84.26,276.93 84.54,276.12 84.81,275.33 85.09,274.56 85.37,273.82 85.65,273.09 85.92,272.39 86.20,271.72 86.48,271.07 86.75,270.45 87.03,269.85 87.31,269.28 87.59,268.74 87.86,268.22 88.14,267.73 88.42,267.28 88.70,266.85 88.97,266.45 89.25,266.09 89.53,265.75 89.80,265.44 90.08,265.17 90.36,264.93 90.64,264.72 90.91,264.54 91.19,264.39 91.47,264.28 91.74,264.20 92.02,264.15 92.30,264.13 92.58,264.15 92.85,264.20 93.13,264.28 93.41,264.39 93.68,264.54 93.96,264.72 94.24,264.93 94.52,265.17 94.79,265.44 95.07,265.75 95.35,266.09 95.62,266.45 95.90,266.85 96.18,267.28 96.46,267.73 96.73,268.22 97.01,268.74 97.29,269.28 97.56,269.85 97.84,270.45 98.12,271.07 98.40,271.72 98.67,272.39 98.95,273.09 99.23,273.82 99.50,274.56 99.78,275.33 100.06,276.12 100.34,276.93 100.61,277.76 100.89,278.61 101.17,279.48 101.44,280.37 101.72,281.27 102.00,282.19 102.28,283.12 102.55,284.07 102.83,285.03 103.11,286.00 103.38,286.98 103.66,287.97 103.94,288.98 104.22,289.99 104.49,291.00 104.77,292.03 105.05,293.06 105.33,294.09 105.60,295.12 105.88,296.16 106.16,297.20 106.43,298.24 106.71,299.28 106.99,300.31 107.27,301.34 107.54,302.37 107.82,303.40 108.10,304.41 108.37,305.42 108.65,306.43 108.93,307.42 109.21,308.40 109.48,309.37 109.76,310.33 110.04,311.28 110.31,312.21 110.59,313.13 110.87,314.03 111.15,314.92 111.42,315.79 111.70,316.64 111.98,317.47 112.25,318.28 112.53,319.07 112.81,319.84 113.09,320.58 113.36,321.31 113.64,322.01 113.92,322.68 114.19,323.33 114.47,323.95 114.75,324.55 115.03,325.12 115.30,325.66 115.58,326.18 115.86,326.67 116.13,327.12 116.41,327.55 116.69,327.95 116.97,328.31 117.24,328.65 117.52,328.96 117.80,329.23 118.07,329.47 118.35,329.68 118.63,329.86 118.91,330.01 119.18,330.12 119.46,330.20 119.74,330.25 120.01,330.27 120.29,330.25 120.57,330.20 120.85,330.12 121.12,330.01 121.40,329.86 121.68,329.68 121.96,329.47 122.23,329.23 122.51,328.96 122.79,328.65 123.06,328.31 123.34,327.95 123.62,327.55 123.90,327.12 124.17,326.67 124.45,326.18 124.73,325.66 125.00,325.12 125.28,324.55 125.56,323.95 125.84,323.33 126.11,322.68 126.39,322.01 126.67,321.31 126.94,320.58 127.22,319.84 127.50,319.07 127.78,318.28 128.05,317.47 128.33,316.64 128.61,315.79 128.88,314.92 129.16,314.03 129.44,313.13 129.72,312.21 129.99,311.28 130.27,310.33 130.55,309.37 130.82,308.40 131.10,307.42 131.38,306.43 131.66,305.42 131.93,304.41 132.21,303.40 132.49,302.37 132.76,301.34 133.04,300.31 133.32,299.28 133.60,298.24 133.87,297.20 134.15,296.16 134.43,295.12 134.70,294.09 134.98,293.06 135.26,292.03 135.54,291.00 135.81,289.99 136.09,288.98 136.37,287.97 136.64,286.98 136.92,286.00 137.20,285.03 137.48,284.07 137.75,283.12 138.03,282.19 138.31,281.27 138.59,280.37 138.86,279.48 139.14,278.61 139.42,277.76 139.69,276.93 139.97,276.12 140.25,275.33 140.53,274.56 140.80,273.82 141.08,273.09 141.36,272.39 141.63,271.72 141.91,271.07 142.19,270.45 142.47,269.85 142.74,269.28 143.02,268.74 143.30,268.22 143.57,267.73 143.85,267.28 144.13,266.85 144.41,266.45 144.68,266.09 144.96,265.75 145.24,265.44 145.51,265.17 145.79,264.93 146.07,264.72 146.35,264.54 146.62,264.39 146.90,264.28 147.18,264.20 147.45,264.15 147.73,264.13 148.01,264.15 148.29,264.20 148.56,264.28 148.84,264.39 149.12,264.54 149.39,264.72 149.67,264.93 149.95,265.17 150.23,265.44 150.50,265.75 150.78,266.09 151.06,266.45 151.33,266.85 151.61,267.28 151.89,267.73 152.17,268.22 152.44,268.74 152.72,269.28 153.00,269.85 153.27,270.45 153.55,271.07 153.83,271.72 154.11,272.39 154.38,273.09 154.66,273.82 154.94,274.56 155.22,275.33 155.49,276.12 155.77,276.93 156.05,277.76 156.32,278.61 156.60,279.48 156.88,280.37 157.16,281.27 157.43,282.19 157.71,283.12 157.99,284.07 158.26,285.03 158.54,286.00 158.82,286.98 159.10,287.97 159.37,288.98 159.65,289.99 159.93,291.00 160.20,292.03 160.48,293.06 160.76,294.09 161.04,295.12 161.31,296.16 161.59,297.20 161.87,298.24 162.14,299.28 162.42,300.31 162.70,301.34 162.98,302.37 163.25,303.40 163.53,304.41 163.81,305.42 164.08,306.43 164.36,307.42 164.64,308.40 164.92,309.37 165.19,310.33 165.47,311.28 165.75,312.21 166.02,313.13 166.30,314.03 166.58,314.92 166.86,315.79 167.13,316.64 167.41,317.47 167.69,318.28 167.96,319.07 168.24,319.84 168.52,320.58 168.80,321.31 169.07,322.01 169.35,322.68 169.63,323.33 169.90,323.95 170.18,324.55 170.46,325.12 170.74,325.66 171.01,326.18 171.29,326.67 171.57,327.12 171.85,327.55 172.12,327.95 172.40,328.31 172.68,328.65 172.95,328.96 173.23,329.23 173.51,329.47 173.79,329.68 174.06,329.86 174.34,330.01 174.62,330.12 174.89,330.20 175.17,330.25 175.45,330.27 175.73,330.25 176.00,330.20 176.28,330.12 176.56,330.01 176.83,329.86 177.11,329.68 177.39,329.47 177.67,329.23 177.94,328.96 178.22,328.65 178.50,328.31 178.77,327.95 179.05,327.55 179.33,327.12 179.61,326.67 179.88,326.18 180.16,325.66 180.44,325.12 180.71,324.55 180.99,323.95 181.27,323.33 181.55,322.68 181.82,322.01 182.10,321.31 182.38,320.58 182.65,319.84 182.93,319.07 183.21,318.28 183.49,317.47 183.76,316.64 184.04,315.79 184.32,314.92 184.59,314.03 184.87,313.13 185.15,312.21 185.43,311.28 185.70,310.33 185.98,309.37 186.26,308.40 186.53,307.42 186.81,306.43 187.09,305.42 187.37,304.41 187.64,303.40 187.92,302.37 188.20,301.34 188.48,300.31 188.75,299.28 189.03,298.24 189.31,297.20 189.58,296.16 189.86,295.12 190.14,294.09 190.42,293.06 190.69,292.03 190.97,291.00 191.25,289.99 191.52,288.98 191.80,287.97 192.08,286.98 192.36,286.00 192.63,285.03 192.91,284.07 193.19,283.12 193.46,282.19 193.74,281.27 194.02,280.37 194.30,279.48 194.57,278.61 194.85,277.76 195.13,276.93 195.40,276.12 195.68,275.33 195.96,274.56 196.24,273.82 196.51,273.09 196.79,272.39 197.07,271.72 197.34,271.07 197.62,270.45 197.90,269.85 198.18,269.28 198.45,268.74 198.73,268.22 199.01,267.73 199.28,267.28 199.56,266.85 199.84,266.45 200.12,266.09 200.39,265.75 200.67,265.44 200.95,265.17 201.22,264.93 201.50,264.72 201.78,264.54 202.06,264.39 202.33,264.28 202.61,264.20 202.89,264.15 203.16,264.13 203.44,264.15 203.72,264.20 204.00,264.28 204.27,264.39 204.55,264.54 204.83,264.72 205.11,264.93 205.38,265.17 205.66,265.44 205.94,265.75 206.21,266.09 206.49,266.45 206.77,266.85 207.05,267.28 207.32,267.73 207.60,268.22 207.88,268.74 208.15,269.28 208.43,269.85 208.71,270.45 208.99,271.07 209.26,271.72 209.54,272.39 209.82,273.09 210.09,273.82 210.37,274.56 210.65,275.33 210.93,276.12 211.20,276.93 211.48,277.76 211.76,278.61 212.03,279.48 212.31,280.37 212.59,281.27 212.87,282.19 213.14,283.12 213.42,284.07 213.70,285.03 213.97,286.00 214.25,286.98 214.53,287.97 214.81,288.98 215.08,289.99 215.36,291.00 215.64,292.03 215.91,293.06 216.19,294.09 216.47,295.12 216.75,296.16 217.02,297.20 217.30,298.24 217.58,299.28 217.85,300.31 218.13,301.34 218.41,302.37 218.69,303.40 218.96,304.41 219.24,305.42 219.52,306.43 219.79,307.42 220.07,308.40 220.35,309.37 220.63,310.33 220.90,311.28 221.18,312.21 221.46,313.13 221.74,314.03 222.01,314.92 222.29,315.79 222.57,316.64 222.84,317.47 223.12,318.28 223.40,319.07 223.68,319.84 223.95,320.58 224.23,321.31 224.51,322.01 224.78,322.68 225.06,323.33 225.34,323.95 225.62,324.55 225.89,325.12 226.17,325.66 226.45,326.18 226.72,326.67 227.00,327.12 227.28,327.55 227.56,327.95 227.83,328.31 228.11,328.65 228.39,328.96 228.66,329.23 228.94,329.47 229.22,329.68 229.50,329.86 229.77,330.01 230.05,330.12 230.33,330.20 230.60,330.25 230.88,330.27 231.16,330.25 231.44,330.20 231.71,330.12 231.99,330.01 232.27,329.86 232.54,329.68 232.82,329.47 233.10,329.23 233.38,328.96 233.65,328.65 233.93,328.31 234.21,327.95 234.48,327.55 234.76,327.12 235.04,326.67 235.32,326.18 235.59,325.66 235.87,325.12 236.15,324.55 236.42,323.95 236.70,323.33 236.98,322.68 237.26,322.01 237.53,321.31 237.81,320.58 238.09,319.84 238.37,319.07 238.64,318.28 238.92,317.47 239.20,316.64 239.47,315.79 239.75,314.92 240.03,314.03 240.31,313.13 240.58,312.21 240.86,311.28 241.14,310.33 241.41,309.37 241.69,308.40 241.97,307.42 242.25,306.43 242.52,305.42 242.80,304.41 243.08,303.40 243.35,302.37 243.63,301.34 243.91,300.31 244.19,299.28 244.46,298.24 244.74,297.20 245.02,296.16 245.29,295.12 245.57,294.09 245.85,293.06 246.13,292.03 246.40,291.00 246.68,289.99 246.96,288.98 247.23,287.97 247.51,286.98 247.79,286.00 248.07,285.03 248.34,284.07 248.62,283.12 248.90,282.19 249.17,281.27 249.45,280.37 249.73,279.48 250.01,278.61 250.28,277.76 250.56,276.93 250.84,276.12 251.11,275.33 251.39,274.56 251.67,273.82 251.95,273.09 252.22,272.39 252.50,271.72 252.78,271.07 253.05,270.45 253.33,269.85 253.61,269.28 253.89,268.74 254.16,268.22 254.44,267.73 254.72,267.28 255.00,266.85 255.27,266.45 255.55,266.09 255.83,265.75 256.10,265.44 256.38,265.17 256.66,264.93 256.94,264.72 257.21,264.54 257.49,264.39 257.77,264.28 258.04,264.20 258.32,264.15 258.60,264.13 258.88,264.15 259.15,264.20 259.43,264.28 259.71,264.39 259.98,264.54 260.26,264.72 260.54,264.93 260.82,265.17 261.09,265.44 261.37,265.75 261.65,266.09 261.92,266.45 262.20,266.85 262.48,267.28 262.76,267.73 263.03,268.22 263.31,268.74 263.59,269.28 263.86,269.85 264.14,270.45 264.42,271.07 264.70,271.72 264.97,272.39 265.25,273.09 265.53,273.82 265.80,274.56 266.08,275.33 266.36,276.12 266.64,276.93 266.91,277.76 267.19,278.61 267.47,279.48 267.74,280.37 268.02,281.27 268.30,282.19 268.58,283.12 268.85,284.07 269.13,285.03 269.41,286.00 269.68,286.98 269.96,287.97 270.24,288.98 270.52,289.99 270.79,291.00 271.07,292.03 271.35,293.06 271.63,294.09 271.90,295.12 272.18,296.16 272.46,297.20 272.73,298.24 273.01,299.28 273.29,300.31 273.57,301.34 273.84,302.37 274.12,303.40 274.40,304.41 274.67,305.42 274.95,306.43 275.23,307.42 275.51,308.40 275.78,309.37 276.06,310.33 276.34,311.28 276.61,312.21 276.89,313.13 277.17,314.03 277.45,314.92 277.72,315.79 278.00,316.64 278.28,317.47 278.55,318.28 278.83,319.07 279.11,319.84 279.39,320.58 279.66,321.31 279.94,322.01 280.22,322.68 280.49,323.33 280.77,323.95 281.05,324.55 281.33,325.12 281.60,325.66 281.88,326.18 282.16,326.67 282.43,327.12 282.71,327.55 282.99,327.95 283.27,328.31 283.54,328.65 283.82,328.96 284.10,329.23 284.37,329.47 284.65,329.68 284.93,329.86 285.21,330.01 285.48,330.12 285.76,330.20 286.04,330.25 286.31,330.27 286.59,330.25 286.87,330.20 287.15,330.12 287.42,330.01 287.70,329.86 287.98,329.68 288.26,329.47 288.53,329.23 288.81,328.96 289.09,328.65 289.36,328.31 289.64,327.95 289.92,327.55 290.20,327.12 290.47,326.67 290.75,326.18 291.03,325.66 291.30,325.12 291.58,324.55 291.86,323.95 292.14,323.33 292.41,322.68 292.69,322.01 292.97,321.31 293.24,320.58 293.52,319.84 293.80,319.07 294.08,318.28 294.35,317.47 294.63,316.64 294.91,315.79 295.18,314.92 295.46,314.03 295.74,313.13 296.02,312.21 296.29,311.28 296.57,310.33 296.85,309.37 297.12,308.40 297.40,307.42 297.68,306.43 297.96,305.42 298.23,304.41 298.51,303.40 298.79,302.37 299.06,301.34 299.34,300.31 299.62,299.28 299.90,298.24 300.17,297.20 300.45,296.16 300.73,295.12 301.00,294.09 301.28,293.06 301.56,292.03 301.84,291.00 302.11,289.99 302.39,288.98 302.67,287.97 302.94,286.98 303.22,286.00 303.50,285.03 303.78,284.07 304.05,283.12 304.33,282.19 304.61,281.27 304.89,280.37 305.16,279.48 305.44,278.61 305.72,277.76 305.99,276.93 306.27,276.12 306.55,275.33 306.83,274.56 307.10,273.82 307.38,273.09 307.66,272.39 307.93,271.72 308.21,271.07 308.49,270.45 308.77,269.85 309.04,269.28 309.32,268.74 309.60,268.22 309.87,267.73 310.15,267.28 310.43,266.85 310.71,266.45 310.98,266.09 311.26,265.75 311.54,265.44 311.81,265.17 312.09,264.93 312.37,264.72 312.65,264.54 312.92,264.39 313.20,264.28 313.48,264.20 313.75,264.15 314.03,264.13 314.31,264.15 314.59,264.20 314.86,264.28 315.14,264.39 315.42,264.54 315.69,264.72 315.97,264.93 316.25,265.17 316.53,265.44 316.80,265.75 317.08,266.09 317.36,266.45 317.63,266.85 317.91,267.28 318.19,267.73 318.47,268.22 318.74,268.74 319.02,269.28 319.30,269.85 319.57,270.45 319.85,271.07 320.13,271.72 320.41,272.39 320.68,273.09 320.96,273.82 321.24,274.56 321.52,275.33 321.79,276.12 322.07,276.93 322.35,277.76 322.62,278.61 322.90,279.48 323.18,280.37 323.46,281.27 323.73,282.19 324.01,283.12 324.29,284.07 324.56,285.03 324.84,286.00 325.12,286.98 325.40,287.97 325.67,288.98 325.95,289.99 326.23,291.00 326.50,292.03 326.78,293.06 327.06,294.09 327.34,295.12 327.61,296.16 327.89,297.20 328.17,298.24 328.44,299.28 328.72,300.31 329.00,301.34 329.28,302.37 329.55,303.40 329.83,304.41 330.11,305.42 330.38,306.43 330.66,307.42 330.94,308.40 331.22,309.37 331.49,310.33 331.77,311.28 332.05,312.21 332.32,313.13 332.60,314.03 332.88,314.92 333.16,315.79 333.43,316.64 333.71,317.47 333.99,318.28 334.26,319.07 334.54,319.84 334.82,320.58 335.10,321.31 335.37,322.01 335.65,322.68 335.93,323.33 336.20,323.95 336.48,324.55 336.76,325.12 337.04,325.66 337.31,326.18 337.59,326.67 337.87,327.12 338.15,327.55 338.42,327.95 338.70,328.31 338.98,328.65 339.25,328.96 339.53,329.23 339.81,329.47 340.09,329.68 340.36,329.86 340.64,330.01 340.92,330.12 341.19,330.20 341.47,330.25 341.75,330.27 342.03,330.25 342.30,330.20 342.58,330.12 342.86,330.01 343.13,329.86 343.41,329.68 343.69,329.47 343.97,329.23 344.24,328.96 344.52,328.65 344.80,328.31 345.07,327.95 345.35,327.55 345.63,327.12 345.91,326.67 346.18,326.18 346.46,325.66 346.74,325.12 347.01,324.55 347.29,323.95 347.57,323.33 347.85,322.68 348.12,322.01 348.40,321.31 348.68,320.58 348.95,319.84 349.23,319.07 349.51,318.28 349.79,317.47 350.06,316.64 350.34,315.79 350.62,314.92 350.89,314.03 351.17,313.13 351.45,312.21 351.73,311.28 352.00,310.33 352.28,309.37 352.56,308.40 352.83,307.42 353.11,306.43 353.39,305.42 353.67,304.41 353.94,303.40 354.22,302.37 354.50,301.34 354.78,300.31 355.05,299.28 355.33,298.24 355.61,297.20 355.88,296.16 356.16,295.12 356.44,294.09 356.72,293.06 356.99,292.03 357.27,291.00 357.55,289.99 357.82,288.98 358.10,287.97 358.38,286.98 358.66,286.00 358.93,285.03 359.21,284.07 359.49,283.12 359.76,282.19 360.04,281.27 360.32,280.37 360.60,279.48 360.87,278.61 361.15,277.76 361.43,276.93 361.70,276.12 361.98,275.33 362.26,274.56 362.54,273.82 362.81,273.09 363.09,272.39 363.37,271.72 363.64,271.07 363.92,270.45 364.20,269.85 364.48,269.28 364.75,268.74 365.03,268.22 365.31,267.73 365.58,267.28 365.86,266.85 366.14,266.45 366.42,266.09 366.69,265.75 366.97,265.44 367.25,265.17 367.52,264.93 367.80,264.72 368.08,264.54 368.36,264.39 368.63,264.28 368.91,264.20 369.19,264.15 369.46,264.13 369.74,264.15 370.02,264.20 370.30,264.28 370.57,264.39 370.85,264.54 371.13,264.72 371.41,264.93 371.68,265.17 371.96,265.44 372.24,265.75 372.51,266.09 372.79,266.45 373.07,266.85 373.35,267.28 373.62,267.73 373.90,268.22 374.18,268.74 374.45,269.28 374.73,269.85 375.01,270.45 375.29,271.07 375.56,271.72 375.84,272.39 376.12,273.09 376.39,273.82 376.67,274.56 376.95,275.33 377.23,276.12 377.50,276.93 377.78,277.76 378.06,278.61 378.33,279.48 378.61,280.37 378.89,281.27 379.17,282.19 379.44,283.12 379.72,284.07 380.00,285.03 380.27,286.00 380.55,286.98 380.83,287.97 381.11,288.98 381.38,289.99 381.66,291.00 381.94,292.03 382.21,293.06 382.49,294.09 382.77,295.12 383.05,296.16 383.32,297.20 383.60,298.24 383.88,299.28 384.15,300.31 384.43,301.34 384.71,302.37 384.99,303.40 385.26,304.41 385.54,305.42 385.82,306.43 386.09,307.42 386.37,308.40 386.65,309.37 386.93,310.33 387.20,311.28 387.48,312.21 387.76,313.13 388.04,314.03 388.31,314.92 388.59,315.79 388.87,316.64 389.14,317.47 389.42,318.28 389.70,319.07 389.98,319.84 390.25,320.58 390.53,321.31 390.81,322.01 391.08,322.68 391.36,323.33 391.64,323.95 391.92,324.55 392.19,325.12 392.47,325.66 392.75,326.18 393.02,326.67 393.30,327.12 393.58,327.55 393.86,327.95 394.13,328.31 394.41,328.65 394.69,328.96 394.96,329.23 395.24,329.47 395.52,329.68 395.80,329.86 396.07,330.01 396.35,330.12 396.63,330.20 396.90,330.25 397.18,330.27 397.46,330.25 397.74,330.20 398.01,330.12 398.29,330.01 398.57,329.86 398.84,329.68 399.12,329.47 399.40,329.23 399.68,328.96 399.95,328.65 400.23,328.31 400.51,327.95 400.78,327.55 401.06,327.12 401.34,326.67 401.62,326.18 401.89,325.66 402.17,325.12 402.45,324.55 402.72,323.95 403.00,323.33 403.28,322.68 403.56,322.01 403.83,321.31 404.11,320.58 404.39,319.84 404.67,319.07 404.94,318.28 405.22,317.47 405.50,316.64 405.77,315.79 406.05,314.92 406.33,314.03 406.61,313.13 406.88,312.21 407.16,311.28 407.44,310.33 407.71,309.37 407.99,308.40 408.27,307.42 408.55,306.43 408.82,305.42 409.10,304.41 409.38,303.40 409.65,302.37 409.93,301.34 410.21,300.31 410.49,299.28 410.76,298.24 411.04,297.20" fill="none" stroke="#b4b4b4" stroke-width="2.5" stroke-linejoin="round" stroke-linecap="butt"/>
<polyline points="78.44,310.58 78.72,310.27 78.99,309.94 79.27,309.60 79.55,309.25 79.83,308.89 80.10,308.52 80.38,308.13 80.66,307.74 80.93,307.33 81.21,306.92 81.49,306.49 81.77,306.06 82.04,305.62 82.32,305.17 82.60,304.71 82.87,304.24 83.15,303.77 83.43,303.29 83.71,302.80 83.98,302.31 84.26,301.81 84.54,301.31 84.81,300.81 85.09,300.30 85.37,299.79 85.65,299.27 85.92,298.76 86.20,298.24 86.48,297.72 86.75,297.20 87.03,296.68 87.31,296.16 87.59,295.64 87.86,295.13 88.14,294.61 88.42,294.10 88.70,293.59 88.97,293.09 89.25,292.59 89.53,292.09 89.80,291.60 90.08,291.11 90.36,290.63 90.64,290.16 90.91,289.69 91.19,289.23 91.47,288.78 91.74,288.34 92.02,287.91 92.30,287.48 92.58,287.07 92.85,286.66 93.13,286.27 93.41,285.88 93.68,285.51 93.96,285.15 94.24,284.80 94.52,284.46 94.79,284.13 95.07,283.82 95.35,283.52 95.62,283.24 95.90,282.97 96.18,282.71 96.46,282.47 96.73,282.24 97.01,282.02 97.29,281.83 97.56,281.64 97.84,281.47 98.12,281.32 98.40,281.18 98.67,281.06 98.95,280.96 99.23,280.87 99.50,280.80 99.78,280.74 100.06,280.70 100.34,280.67 100.61,280.67 100.89,280.67 101.17,280.70 101.44,280.74 101.72,280.80 102.00,280.87 102.28,280.96 102.55,281.06 102.83,281.18 103.11,281.32 103.38,281.47 103.66,281.64 103.94,281.83 104.22,282.02 104.49,282.24 104.77,282.47 105.05,282.71 105.33,282.97 105.60,283.24 105.88,283.52 106.16,283.82 106.43,284.13 106.71,284.46 106.99,284.80 107.27,285.15 107.54,285.51 107.82,285.88 108.10,286.27 108.37,286.66 108.65,287.07 108.93,287.48 109.21,287.91 109.48,288.34 109.76,288.78 110.04,289.23 110.31,289.69 110.59,290.16 110.87,290.63 111.15,291.11 111.42,291.60 111.70,292.09 111.98,292.59 112.25,293.09 112.53,293.59 112.81,294.10 113.09,294.61 113.36,295.13 113.64,295.64 113.92,296.16 114.19,296.68 114.47,297.20 114.75,297.72 115.03,298.24 115.30,298.76 115.58,299.27 115.86,299.79 116.13,300.30 116.41,300.81 116.69,301.31 116.97,301.81 117.24,302.31 117.52,302.80 117.80,303.29 118.07,303.77 118.35,304.24 118.63,304.71 118.91,305.17 119.18,305.62 119.46,306.06 119.74,306.49 120.01,306.92 120.29,307.33 120.57,307.74 120.85,308.13 121.12,308.52 121.40,308.89 121.68,309.25 121.96,309.60 122.23,309.94 122.51,310.27 122.79,310.58 123.06,310.88 123.34,311.16 123.62,311.43 123.90,311.69 124.17,311.93 124.45,312.16 124.73,312.38 125.00,312.57 125.28,312.76 125.56,312.93 125.84,313.08 126.11,313.22 126.39,313.34 126.67,313.44 126.94,313.53 127.22,313.60 127.50,313.66 127.78,313.70 128.05,313.73 128.33,313.74 128.61,313.73 128.88,313.70 129.16,313.66 129.44,313.60 129.72,313.53 129.99,313.44 130.27,313.34 130.55,313.22 130.82,313.08 131.10,312.93 131.38,312.76 131.66,312.57 131.93,312.38 132.21,312.16 132.49,311.93 132.76,311.69 133.04,311.43 133.32,311.16 133.60,310.88 133.87,310.58 134.15,310.27 134.43,309.94 134.70,309.60 134.98,309.25 135.26,308.89 135.54,308.52 135.81,308.13 136.09,307.74 136.37,307.33 136.64,306.92 136.92,306.49 137.20,306.06 137.48,305.62 137.75,305.17 138.03,304.71 138.31,304.24 138.59,303.77 138.86,303.29 139.14,302.80 139.42,302.31 139.69,301.81 139.97,301.31 140.25,300.81 140.53,300.30 140.80,299.79 141.08,299.27 141.36,298.76 141.63,298.24 141.91,297.72 142.19,297.20 142.47,296.68 142.74,296.16 143.02,295.64 143.30,295.13 143.57,294.61 143.85,294.10 144.13,293.59 144.41,293.09 144.68,292.59 144.96,292.09 145.24,291.60 145.51,291.11 145.79,290.63 146.07,290.16 146.35,289.69 146.62,289.23 146.90,288.78 147.18,288.34 147.45,287.91 147.73,287.48 148.01,287.07 148.29,286.66 148.56,286.27 148.84,285.88 149.12,285.51 149.39,285.15 149.67,284.80 149.95,284.46 150.23,284.13 150.50,283.82 150.78,283.52 151.06,283.24 151.33,282.97 151.61,282.71 151.89,282.47 152.17,282.24 152.44,282.02 152.72,281.83 153.00,281.64 153.27,281.47 153.55,281.32 153.83,281.18 154.11,281.06 154.38,280.96 154.66,280.87 154.94,280.80 155.22,280.74 155.49,280.70 155.77,280.67 156.05,280.67 156.32,280.67 156.60,280.70 156.88,280.74 157.16,280.80 157.43,280.87 157.71,280.96 157.99,281.06 158.26,281.18 158.54,281.32 158.82,281.47 159.10,281.64 159.37,281.83 159.65,282.02 159.93,282.24 160.20,282.47 160.48,282.71 160.76,282.97 161.04,283.24 161.31,283.52 161.59,283.82 161.87,284.13 162.14,284.46 162.42,284.80 162.70,285.15 162.98,285.51 163.25,285.88 163.53,286.27 163.81,286.66 164.08,287.07 164.36,287.48 164.64,287.91 164.92,288.34 165.19,288.78 165.47,289.23 165.75,289.69 166.02,290.16 166.30,290.63 166.58,291.11 166.86,291.60 167.13,292.09 167.41,292.59 167.69,293.09 167.96,293.59 168.24,294.10 168.52,294.61 168.80,295.13 169.07,295.64 169.35,296.16 169.63,296.68 169.90,297.20 170.18,297.72 170.46,298.24 170.74,298.76 171.01,299.27 171.29,299.79 171.57,300.30 171.85,300.81 172.12,301.31 172.40,301.81 172.68,302.31 172.95,302.80 173.23,303.29 173.51,303.77 173.79,304.24 174.06,304.71 174.34,305.17 174.62,305.62 174.89,306.06 175.17,306.49 175.45,306.92 175.73,307.33 176.00,307.74 176.28,308.13 176.56,308.52 176.83,308.89 177.11,309.25 177.39,309.60 177.67,309.94 177.94,310.27 178.22,310.58 178.50,310.88 178.77,311.16 179.05,311.43 179.33,311.69 179.61,311.93 179.88,312.16 180.16,312.38 180.44,312.57 180.71,312.76 180.99,312.93 181.27,313.08 181.55,313.22 181.82,313.34 182.10,313.44 182.38,313.53 182.65,313.60 182.93,313.66 183.21,313.70 183.49,313.73 183.76,313.74 184.04,313.73 184.32,313.70 184.59,313.66 184.87,313.60 185.15,313.53 185.43,313.44 185.70,313.34 185.98,313.22 186.26,313.08 186.53,312.93 186.81,312.76 187.09,312.57 187.37,312.38 187.64,312.16 187.92,311.93 188.20,311.69 188.48,311.43 188.75,311.16 189.03,310.88 189.31,310.58 189.58,310.27 189.86,309.94 190.14,309.60 190.42,309.25 190.69,308.89 190.97,308.52 191.25,308.13 191.52,307.74 191.80,307.33 192.08,306.92 192.36,306.49 192.63,306.06 192.91,305.62 193.19,305.17 193.46,304.71 193.74,304.24 194.02,303.77 194.30,303.29 194.57,302.80 194.85,302.31 195.13,301.81 195.40,301.31 195.68,300.81 195.96,300.30 196.24,299.79 196.51,299.27 196.79,298.76 197.07,298.24 197.34,297.72 197.62,297.20 197.90,296.68 198.18,296.16 198.45,295.64 198.73,295.13 199.01,294.61 199.28,294.10 199.56,293.59 199.84,293.09 200.12,292.59 200.39,292.09 200.67,291.60 200.95,291.11 201.22,290.63 201.50,290.16 201.78,289.69 202.06,289.23 202.33,288.78 202.61,288.34 202.89,287.91 203.16,287.48 203.44,287.07 203.72,286.66 204.00,286.27 204.27,285.88 204.55,285.51 204.83,285.15 205.11,284.80 205.38,284.46 205.66,284.13 205.94,283.82 206.21,283.52 206.49,283.24 206.77,282.97 207.05,282.71 207.32,282.47 207.60,282.24 207.88,282.02 208.15,281.83 208.43,281.64 208.71,281.47 208.99,281.32 209.26,281.18 209.54,281.06 209.82,280.96 210.09,280.87 210.37,280.80 210.65,280.74 210.93,280.70 211.20,280.67 211.48,280.67 211.76,280.67 212.03,280.70 212.31,280.74 212.59,280.80 212.87,280.87 213.14,280.96 213.42,281.06 213.70,281.18 213.97,281.32 214.25,281.47 214.53,281.64 214.81,281.83 215.08,282.02 215.36,282.24 215.64,282.47 215.91,282.71 216.19,282.97 216.47,283.24 216.75,283.52 217.02,283.82 217.30,284.13 217.58,284.46 217.85,284.80 218.13,285.15 218.41,285.51 218.69,285.88 218.96,286.27 219.24,286.66 219.52,287.07 219.79,287.48 220.07,287.91 220.35,288.34 220.63,288.78 220.90,289.23 221.18,289.69 221.46,290.16 221.74,290.63 222.01,291.11 222.29,291.60 222.57,292.09 222.84,292.59 223.12,293.09 223.40,293.59 223.68,294.10 223.95,294.61 224.23,295.13 224.51,295.64 224.78,296.16 225.06,296.68 225.34,297.20 225.62,297.72 225.89,298.24 226.17,298.76 226.45,299.27 226.72,299.79 227.00,300.30 227.28,300.81 227.56,301.31 227.83,301.81 228.11,302.31 228.39,302.80 228.66,303.29 228.94,303.77 229.22,304.24 229.50,304.71 229.77,305.17 230.05,305.62 230.33,306.06 230.60,306.49 230.88,306.92 231.16,307.33 231.44,307.74 231.71,308.13 231.99,308.52 232.27,308.89 232.54,309.25 232.82,309.60 233.10,309.94 233.38,310.27 233.65,310.58 233.93,310.88 234.21,311.16 234.48,311.43 234.76,311.69 235.04,311.93 235.32,312.16 235.59,312.38 235.87,312.57 236.15,312.76 236.42,312.93 236.70,313.08 236.98,313.22 237.26,313.34 237.53,313.44 237.81,313.53 238.09,313.60 238.37,313.66 238.64,313.70 238.92,313.73 239.20,313.74 239.47,313.73 239.75,313.70 240.03,313.66 240.31,313.60 240.58,313.53 240.86,313.44 241.14,313.34 241.41,313.22 241.69,313.08 241.97,312.93 242.25,312.76 242.52,312.57 242.80,312.38 243.08,312.16 243.35,311.93 243.63,311.69 243.91,311.43 244.19,311.16 244.46,310.88 244.74,310.58 245.02,310.27 245.29,309.94 245.57,309.60 245.85,309.25 246.13,308.89 246.40,308.52 246.68,308.13 246.96,307.74 247.23,307.33 247.51,306.92 247.79,306.49 248.07,306.06 248.34,305.62 248.62,305.17 248.90,304.71 249.17,304.24 249.45,303.77 249.73,303.29 250.01,302.80 250.28,302.31 250.56,301.81 250.84,301.31 251.11,300.81 251.39,300.30 251.67,299.79 251.95,299.27 252.22,298.76 252.50,298.24 252.78,297.72 253.05,297.20 253.33,296.68 253.61,296.16 253.89,295.64 254.16,295.13 254.44,294.61 254.72,294.10 255.00,293.59 255.27,293.09 255.55,292.59 255.83,292.09 256.10,291.60 256.38,291.11 256.66,290.63 256.94,290.16 257.21,289.69 257.49,289.23 257.77,288.78 258.04,288.34 258.32,287.91 258.60,287.48 258.88,287.07 259.15,286.66 259.43,286.27 259.71,285.88 259.98,285.51 260.26,285.15 260.54,284.80 260.82,284.46 261.09,284.13 261.37,283.82 261.65,283.52 261.92,283.24 262.20,282.97 262.48,282.71 262.76,282.47 263.03,282.24 263.31,282.02 263.59,281.83 263.86,281.64 264.14,281.47 264.42,281.32 264.70,281.18 264.97,281.06 265.25,280.96 265.53,280.87 265.80,280.80 266.08,280.74 266.36,280.70 266.64,280.67 266.91,280.67 267.19,280.67 267.47,280.70 267.74,280.74 268.02,280.80 268.30,280.87 268.58,280.96 268.85,281.06 269.13,281.18 269.41,281.32 269.68,281.47 269.96,281.64 270.24,281.83 270.52,282.02 270.79,282.24 271.07,282.47 271.35,282.71 271.63,282.97 271.90,283.24 272.18,283.52 272.46,283.82 272.73,284.13 273.01,284.46 273.29,284.80 273.57,285.15 273.84,285.51 274.12,285.88 274.40,286.27 274.67,286.66 274.95,287.07 275.23,287.48 275.51,287.91 275.78,288.34 276.06,288.78 276.34,289.23 276.61,289.69 276.89,290.16 277.17,290.63 277.45,291.11 277.72,291.60 278.00,292.09 278.28,292.59 278.55,293.09 278.83,293.59 279.11,294.10 279.39,294.61 279.66,295.13 279.94,295.64 280.22,296.16 280.49,296.68 280.77,297.20 281.05,297.72 281.33,298.24 281.60,298.76 281.88,299.27 282.16,299.79 282.43,300.30 282.71,300.81 282.99,301.31 283.27,301.81 283.54,302.31 283.82,302.80 284.10,303.29 284.37,303.77 284.65,304.24 284.93,304.71 285.21,305.17 285.48,305.62 285.76,306.06 286.04,306.49 286.31,306.92 286.59,307.33 286.87,307.74 287.15,308.13 287.42,308.52 287.70,308.89 287.98,309.25 288.26,309.60 288.53,309.94 288.81,310.27 289.09,310.58 289.36,310.88 289.64,311.16 289.92,311.43 290.20,311.69 290.47,311.93 290.75,312.16 291.03,312.38 291.30,312.57 291.58,312.76 291.86,312.93 292.14,313.08 292.41,313.22 292.69,313.34 292.97,313.44 293.24,313.53 293.52,313.60 293.80,313.66 294.08,313.70 294.35,313.73 294.63,313.74 294.91,313.73 295.18,313.70 295.46,313.66 295.74,313.60 296.02,313.53 296.29,313.44 296.57,313.34 296.85,313.22 297.12,313.08 297.40,312.93 297.68,312.76 297.96,312.57 298.23,312.38 298.51,312.16 298.79,311.93 299.06,311.69 299.34,311.43 299.62,311.16 299.90,310.88 300.17,310.58 300.45,310.27 300.73,309.94 301.00,309.60 301.28,309.25 301.56,308.89 301.84,308.52 302.11,308.13 302.39,307.74 302.67,307.33 302.94,306.92 303.22,306.49 303.50,306.06 303.78,305.62 304.05,305.17 304.33,304.71 304.61,304.24 304.89,303.77 305.16,303.29 305.44,302.80 305.72,302.31 305.99,301.81 306.27,301.31 306.55,300.81 306.83,300.30 307.10,299.79 307.38,299.27 307.66,298.76 307.93,298.24 308.21,297.72 308.49,297.20 308.77,296.68 309.04,296.16 309.32,295.64 309.60,295.13 309.87,294.61 310.15,294.10 310.43,293.59 310.71,293.09 310.98,292.59 311.26,292.09 311.54,291.60 311.81,291.11 312.09,290.63 312.37,290.16 312.65,289.69 312.92,289.23 313.20,288.78 313.48,288.34 313.75,287.91 314.03,287.48 314.31,287.07 314.59,286.66 314.86,286.27 315.14,285.88 315.42,285.51 315.69,285.15 315.97,284.80 316.25,284.46 316.53,284.13 316.80,283.82 317.08,283.52 317.36,283.24 317.63,282.97 317.91,282.71 318.19,282.47 318.47,282.24 318.74,282.02 319.02,281.83 319.30,281.64 319.57,281.47 319.85,281.32 320.13,281.18 320.41,281.06 320.68,280.96 320.96,280.87 321.24,280.80 321.52,280.74 321.79,280.70 322.07,280.67 322.35,280.67 322.62,280.67 322.90,280.70 323.18,280.74 323.46,280.80 323.73,280.87 324.01,280.96 324.29,281.06 324.56,281.18 324.84,281.32 325.12,281.47 325.40,281.64 325.67,281.83 325.95,282.02 326.23,282.24 326.50,282.47 326.78,282.71 327.06,282.97 327.34,283.24 327.61,283.52 327.89,283.82 328.17,284.13 328.44,284.46 328.72,284.80 329.00,285.15 329.28,285.51 329.55,285.88 329.83,286.27 330.11,286.66 330.38,287.07 330.66,287.48 330.94,287.91 331.22,288.34 331.49,288.78 331.77,289.23 332.05,289.69 332.32,290.16 332.60,290.63 332.88,291.11 333.16,291.60 333.43,292.09 333.71,292.59 333.99,293.09 334.26,293.59 334.54,294.10 334.82,294.61 335.10,295.13 335.37,295.64 335.65,296.16 335.93,296.68 336.20,297.20 336.48,297.72 336.76,298.24 337.04,298.76 337.31,299.27 337.59,299.79 337.87,300.30 338.15,300.81 338.42,301.31 338.70,301.81 338.98,302.31 339.25,302.80 339.53,303.29 339.81,303.77 340.09,304.24 340.36,304.71 340.64,305.17 340.92,305.62 341.19,306.06 341.47,306.49 341.75,306.92 342.03,307.33 342.30,307.74 342.58,308.13 342.86,308.52 343.13,308.89 343.41,309.25 343.69,309.60 343.97,309.94 344.24,310.27 344.52,310.58 344.80,310.88 345.07,311.16 345.35,311.43 345.63,311.69 345.91,311.93 346.18,312.16 346.46,312.38 346.74,312.57 347.01,312.76 347.29,312.93 347.57,313.08 347.85,313.22 348.12,313.34 348.40,313.44 348.68,313.53 348.95,313.60 349.23,313.66 349.51,313.70 349.79,313.73 350.06,313.74 350.34,313.73 350.62,313.70 350.89,313.66 351.17,313.60 351.45,313.53 351.73,313.44 352.00,313.34 352.28,313.22 352.56,313.08 352.83,312.93 353.11,312.76 353.39,312.57 353.67,312.38 353.94,312.16 354.22,311.93 354.50,311.69 354.78,311.43 355.05,311.16 355.33,310.88 355.61,310.58 355.88,310.27 356.16,309.94 356.44,309.60 356.72,309.25 356.99,308.89 357.27,308.52 357.55,308.13 357.82,307.74 358.10,307.33 358.38,306.92 358.66,306.49 358.93,306.06 359.21,305.62 359.49,305.17 359.76,304.71 360.04,304.24 360.32,303.77 360.60,303.29 360.87,302.80 361.15,302.31 361.43,301.81 361.70,301.31 361.98,300.81 362.26,300.30 362.54,299.79 362.81,299.27 363.09,298.76 363.37,298.24 363.64,297.72 363.92,297.20 364.20,296.68 364.48,296.16 364.75,295.64 365.03,295.13 365.31,294.61 365.58,294.10 365.86,293.59 366.14,293.09 366.42,292.59 366.69,292.09 366.97,291.60 367.25,291.11 367.52,290.63 367.80,290.16 368.08,289.69 368.36,289.23 368.63,288.78 368.91,288.34 369.19,287.91 369.46,287.48 369.74,287.07 370.02,286.66 370.30,286.27 370.57,285.88 370.85,285.51 371.13,285.15 371.41,284.80 371.68,284.46 371.96,284.13 372.24,283.82 372.51,283.52 372.79,283.24 373.07,282.97 373.35,282.71 373.62,282.47 373.90,282.24 374.18,282.02 374.45,281.83 374.73,281.64 375.01,281.47 375.29,281.32 375.56,281.18 375.84,281.06 376.12,280.96 376.39,280.87 376.67,280.80 376.95,280.74 377.23,280.70 377.50,280.67 377.78,280.67 378.06,280.67 378.33,280.70 378.61,280.74 378.89,280.80 379.17,280.87 379.44,280.96 379.72,281.06 380.00,281.18 380.27,281.32 380.55,281.47 380.83,281.64 381.11,281.83 381.38,282.02 381.66,282.24 381.94,282.47 382.21,282.71 382.49,282.97 382.77,283.24 383.05,283.52 383.32,283.82 383.60,284.13 383.88,284.46 384.15,284.80 384.43,285.15 384.71,285.51 384.99,285.88 385.26,286.27 385.54,286.66 385.82,287.07 386.09,287.48 386.37,287.91 386.65,288.34 386.93,288.78 387.20,289.23 387.48,289.69 387.76,290.16 388.04,290.63 388.31,291.11 388.59,291.60 388.87,292.09 389.14,292.59 389.42,293.09 389.70,293.59 389.98,294.10 390.25,294.61 390.53,295.13 390.81,295.64 391.08,296.16 391.36,296.68 391.64,297.20 391.92,297.72 392.19,298.24 392.47,298.76 392.75,299.27 393.02,299.79 393.30,300.30 393.58,300.81 393.86,301.31 394.13,301.81 394.41,302.31 394.69,302.80 394.96,303.29 395.24,303.77 395.52,304.24 395.80,304.71 396.07,305.17 396.35,305.62 396.63,306.06 396.90,306.49 397.18,306.92 397.46,307.33 397.74,307.74 398.01,308.13 398.29,308.52 398.57,308.89 398.84,309.25 399.12,309.60 399.40,309.94 399.68,310.27 399.95,310.58 400.23,310.88 400.51,311.16 400.78,311.43 401.06,311.69 401.34,311.93 401.62,312.16 401.89,312.38 402.17,312.57 402.45,312.76 402.72,312.93 403.00,313.08 403.28,313.22 403.56,313.34 403.83,313.44 404.11,313.53 404.39,313.60 404.67,313.66 404.94,313.70 405.22,313.73 405.50,313.74 405.77,313.73 406.05,313.70 406.33,313.66 406.61,313.60 406.88,313.53 407.16,313.44 407.44,313.34 407.71,313.22 407.99,313.08 408.27,312.93 408.55,312.76 408.82,312.57 409.10,312.38 409.38,312.16 409.65,311.93 409.93,311.69 410.21,311.43 410.49,311.16 410.76,310.88 411.04,310.58" fill="none" stroke="#000" stroke-width="2.5" stroke-linejoin="round" stroke-dasharray="2.6 1.9" stroke-linecap="butt"/>
<line x1="60.45" y1="262.81" x2="60.45" y2="331.59" stroke="#000" stroke-width="2.65" />
<line x1="52.00" y1="330.27" x2="60.45" y2="330.27" stroke="#000" stroke-width="2.6" />
<text transform="translate(48.20,338.17) scale(0.98,1.05)" font-size="22" text-anchor="end" >1</text>
<line x1="52.00" y1="297.20" x2="60.45" y2="297.20" stroke="#000" stroke-width="2.6" />
<text transform="translate(48.20,305.10) scale(0.98,1.05)" font-size="22" text-anchor="end" >2</text>
<line x1="52.00" y1="264.13" x2="60.45" y2="264.13" stroke="#000" stroke-width="2.6" />
<text transform="translate(48.20,272.03) scale(0.98,1.05)" font-size="22" text-anchor="end" >3</text>
<text transform="translate(427.00,258.48) scale(1.0,0.98)" font-size="24.5" text-anchor="end" >0.3 Hz</text>
<line x1="464.00" y1="344.30" x2="600.50" y2="344.30" stroke="#c6c6c6" stroke-width="1.0" stroke-dasharray="2.43 2.43"/>
<line x1="464.00" y1="302.75" x2="600.50" y2="302.75" stroke="#c6c6c6" stroke-width="1.0" stroke-dasharray="2.43 2.43"/>
<line x1="464.00" y1="261.20" x2="600.50" y2="261.20" stroke="#c6c6c6" stroke-width="1.0" stroke-dasharray="2.43 2.43"/>
<line x1="551.20" y1="344.30" x2="551.20" y2="302.75" stroke="#000" stroke-width="2.65" />
<line x1="602.60" y1="259.88" x2="602.60" y2="345.62" stroke="#000" stroke-width="2.65" />
<line x1="602.60" y1="344.30" x2="610.90" y2="344.30" stroke="#000" stroke-width="2.6" />
<text transform="translate(616.80,352.40) scale(0.98,1.05)" font-size="22" text-anchor="start" >0.0</text>
<line x1="602.60" y1="302.75" x2="610.90" y2="302.75" stroke="#000" stroke-width="2.6" />
<text transform="translate(616.80,310.85) scale(0.98,1.05)" font-size="22" text-anchor="start" >0.5</text>
<line x1="602.60" y1="261.20" x2="610.90" y2="261.20" stroke="#000" stroke-width="2.6" />
<text transform="translate(616.80,269.30) scale(0.98,1.05)" font-size="22" text-anchor="start" >1.0</text>
<line x1="460.98" y1="344.30" x2="596.98" y2="344.30" stroke="#000" stroke-width="2.65" />
<line x1="462.30" y1="344.30" x2="462.30" y2="352.70" stroke="#000" stroke-width="2.6" />
<line x1="506.75" y1="344.30" x2="506.75" y2="352.70" stroke="#000" stroke-width="2.6" />
<line x1="551.20" y1="344.30" x2="551.20" y2="352.70" stroke="#000" stroke-width="2.6" />
<line x1="595.65" y1="344.30" x2="595.65" y2="352.70" stroke="#000" stroke-width="2.6" />
<polyline points="78.44,416.34 78.72,414.96 78.99,413.57 79.27,412.20 79.55,410.82 79.83,409.46 80.10,408.12 80.38,406.78 80.66,405.46 80.93,404.17 81.21,402.89 81.49,401.64 81.77,400.41 82.04,399.21 82.32,398.04 82.60,396.90 82.87,395.80 83.15,394.73 83.43,393.70 83.71,392.71 83.98,391.76 84.26,390.86 84.54,390.00 84.81,389.18 85.09,388.42 85.37,387.70 85.65,387.03 85.92,386.42 86.20,385.85 86.48,385.34 86.75,384.89 87.03,384.49 87.31,384.14 87.59,383.86 87.86,383.62 88.14,383.45 88.42,383.34 88.70,383.28 88.97,383.28 89.25,383.34 89.53,383.45 89.80,383.62 90.08,383.86 90.36,384.14 90.64,384.49 90.91,384.89 91.19,385.34 91.47,385.85 91.74,386.42 92.02,387.03 92.30,387.70 92.58,388.42 92.85,389.18 93.13,390.00 93.41,390.86 93.68,391.76 93.96,392.71 94.24,393.70 94.52,394.73 94.79,395.80 95.07,396.90 95.35,398.04 95.62,399.21 95.90,400.41 96.18,401.64 96.46,402.89 96.73,404.17 97.01,405.46 97.29,406.78 97.56,408.12 97.84,409.46 98.12,410.82 98.40,412.20 98.67,413.57 98.95,414.96 99.23,416.34 99.50,417.72 99.78,419.11 100.06,420.48 100.34,421.86 100.61,423.22 100.89,424.56 101.17,425.90 101.44,427.22 101.72,428.51 102.00,429.79 102.28,431.04 102.55,432.27 102.83,433.47 103.11,434.64 103.38,435.78 103.66,436.88 103.94,437.95 104.22,438.98 104.49,439.97 104.77,440.92 105.05,441.82 105.33,442.68 105.60,443.50 105.88,444.26 106.16,444.98 106.43,445.65 106.71,446.26 106.99,446.83 107.27,447.34 107.54,447.79 107.82,448.19 108.10,448.54 108.37,448.82 108.65,449.06 108.93,449.23 109.21,449.34 109.48,449.40 109.76,449.40 110.04,449.34 110.31,449.23 110.59,449.06 110.87,448.82 111.15,448.54 111.42,448.19 111.70,447.79 111.98,447.34 112.25,446.83 112.53,446.26 112.81,445.65 113.09,444.98 113.36,444.26 113.64,443.50 113.92,442.68 114.19,441.82 114.47,440.92 114.75,439.97 115.03,438.98 115.30,437.95 115.58,436.88 115.86,435.78 116.13,434.64 116.41,433.47 116.69,432.27 116.97,431.04 117.24,429.79 117.52,428.51 117.80,427.22 118.07,425.90 118.35,424.56 118.63,423.22 118.91,421.86 119.18,420.48 119.46,419.11 119.74,417.72 120.01,416.34 120.29,414.96 120.57,413.57 120.85,412.20 121.12,410.82 121.40,409.46 121.68,408.12 121.96,406.78 122.23,405.46 122.51,404.17 122.79,402.89 123.06,401.64 123.34,400.41 123.62,399.21 123.90,398.04 124.17,396.90 124.45,395.80 124.73,394.73 125.00,393.70 125.28,392.71 125.56,391.76 125.84,390.86 126.11,390.00 126.39,389.18 126.67,388.42 126.94,387.70 127.22,387.03 127.50,386.42 127.78,385.85 128.05,385.34 128.33,384.89 128.61,384.49 128.88,384.14 129.16,383.86 129.44,383.62 129.72,383.45 129.99,383.34 130.27,383.28 130.55,383.28 130.82,383.34 131.10,383.45 131.38,383.62 131.66,383.86 131.93,384.14 132.21,384.49 132.49,384.89 132.76,385.34 133.04,385.85 133.32,386.42 133.60,387.03 133.87,387.70 134.15,388.42 134.43,389.18 134.70,390.00 134.98,390.86 135.26,391.76 135.54,392.71 135.81,393.70 136.09,394.73 136.37,395.80 136.64,396.90 136.92,398.04 137.20,399.21 137.48,400.41 137.75,401.64 138.03,402.89 138.31,404.17 138.59,405.46 138.86,406.78 139.14,408.12 139.42,409.46 139.69,410.82 139.97,412.20 140.25,413.57 140.53,414.96 140.80,416.34 141.08,417.72 141.36,419.11 141.63,420.48 141.91,421.86 142.19,423.22 142.47,424.56 142.74,425.90 143.02,427.22 143.30,428.51 143.57,429.79 143.85,431.04 144.13,432.27 144.41,433.47 144.68,434.64 144.96,435.78 145.24,436.88 145.51,437.95 145.79,438.98 146.07,439.97 146.35,440.92 146.62,441.82 146.90,442.68 147.18,443.50 147.45,444.26 147.73,444.98 148.01,445.65 148.29,446.26 148.56,446.83 148.84,447.34 149.12,447.79 149.39,448.19 149.67,448.54 149.95,448.82 150.23,449.06 150.50,449.23 150.78,449.34 151.06,449.40 151.33,449.40 151.61,449.34 151.89,449.23 152.17,449.06 152.44,448.82 152.72,448.54 153.00,448.19 153.27,447.79 153.55,447.34 153.83,446.83 154.11,446.26 154.38,445.65 154.66,444.98 154.94,444.26 155.22,443.50 155.49,442.68 155.77,441.82 156.05,440.92 156.32,439.97 156.60,438.98 156.88,437.95 157.16,436.88 157.43,435.78 157.71,434.64 157.99,433.47 158.26,432.27 158.54,431.04 158.82,429.79 159.10,428.51 159.37,427.22 159.65,425.90 159.93,424.56 160.20,423.22 160.48,421.86 160.76,420.48 161.04,419.11 161.31,417.72 161.59,416.34 161.87,414.96 162.14,413.57 162.42,412.20 162.70,410.82 162.98,409.46 163.25,408.12 163.53,406.78 163.81,405.46 164.08,404.17 164.36,402.89 164.64,401.64 164.92,400.41 165.19,399.21 165.47,398.04 165.75,396.90 166.02,395.80 166.30,394.73 166.58,393.70 166.86,392.71 167.13,391.76 167.41,390.86 167.69,390.00 167.96,389.18 168.24,388.42 168.52,387.70 168.80,387.03 169.07,386.42 169.35,385.85 169.63,385.34 169.90,384.89 170.18,384.49 170.46,384.14 170.74,383.86 171.01,383.62 171.29,383.45 171.57,383.34 171.85,383.28 172.12,383.28 172.40,383.34 172.68,383.45 172.95,383.62 173.23,383.86 173.51,384.14 173.79,384.49 174.06,384.89 174.34,385.34 174.62,385.85 174.89,386.42 175.17,387.03 175.45,387.70 175.73,388.42 176.00,389.18 176.28,390.00 176.56,390.86 176.83,391.76 177.11,392.71 177.39,393.70 177.67,394.73 177.94,395.80 178.22,396.90 178.50,398.04 178.77,399.21 179.05,400.41 179.33,401.64 179.61,402.89 179.88,404.17 180.16,405.46 180.44,406.78 180.71,408.12 180.99,409.46 181.27,410.82 181.55,412.20 181.82,413.57 182.10,414.96 182.38,416.34 182.65,417.72 182.93,419.11 183.21,420.48 183.49,421.86 183.76,423.22 184.04,424.56 184.32,425.90 184.59,427.22 184.87,428.51 185.15,429.79 185.43,431.04 185.70,432.27 185.98,433.47 186.26,434.64 186.53,435.78 186.81,436.88 187.09,437.95 187.37,438.98 187.64,439.97 187.92,440.92 188.20,441.82 188.48,442.68 188.75,443.50 189.03,444.26 189.31,444.98 189.58,445.65 189.86,446.26 190.14,446.83 190.42,447.34 190.69,447.79 190.97,448.19 191.25,448.54 191.52,448.82 191.80,449.06 192.08,449.23 192.36,449.34 192.63,449.40 192.91,449.40 193.19,449.34 193.46,449.23 193.74,449.06 194.02,448.82 194.30,448.54 194.57,448.19 194.85,447.79 195.13,447.34 195.40,446.83 195.68,446.26 195.96,445.65 196.24,444.98 196.51,444.26 196.79,443.50 197.07,442.68 197.34,441.82 197.62,440.92 197.90,439.97 198.18,438.98 198.45,437.95 198.73,436.88 199.01,435.78 199.28,434.64 199.56,433.47 199.84,432.27 200.12,431.04 200.39,429.79 200.67,428.51 200.95,427.22 201.22,425.90 201.50,424.56 201.78,423.22 202.06,421.86 202.33,420.48 202.61,419.11 202.89,417.72 203.16,416.34 203.44,414.96 203.72,413.57 204.00,412.20 204.27,410.82 204.55,409.46 204.83,408.12 205.11,406.78 205.38,405.46 205.66,404.17 205.94,402.89 206.21,401.64 206.49,400.41 206.77,399.21 207.05,398.04 207.32,396.90 207.60,395.80 207.88,394.73 208.15,393.70 208.43,392.71 208.71,391.76 208.99,390.86 209.26,390.00 209.54,389.18 209.82,388.42 210.09,387.70 210.37,387.03 210.65,386.42 210.93,385.85 211.20,385.34 211.48,384.89 211.76,384.49 212.03,384.14 212.31,383.86 212.59,383.62 212.87,383.45 213.14,383.34 213.42,383.28 213.70,383.28 213.97,383.34 214.25,383.45 214.53,383.62 214.81,383.86 215.08,384.14 215.36,384.49 215.64,384.89 215.91,385.34 216.19,385.85 216.47,386.42 216.75,387.03 217.02,387.70 217.30,388.42 217.58,389.18 217.85,390.00 218.13,390.86 218.41,391.76 218.69,392.71 218.96,393.70 219.24,394.73 219.52,395.80 219.79,396.90 220.07,398.04 220.35,399.21 220.63,400.41 220.90,401.64 221.18,402.89 221.46,404.17 221.74,405.46 222.01,406.78 222.29,408.12 222.57,409.46 222.84,410.82 223.12,412.20 223.40,413.57 223.68,414.96 223.95,416.34 224.23,417.72 224.51,419.11 224.78,420.48 225.06,421.86 225.34,423.22 225.62,424.56 225.89,425.90 226.17,427.22 226.45,428.51 226.72,429.79 227.00,431.04 227.28,432.27 227.56,433.47 227.83,434.64 228.11,435.78 228.39,436.88 228.66,437.95 228.94,438.98 229.22,439.97 229.50,440.92 229.77,441.82 230.05,442.68 230.33,443.50 230.60,444.26 230.88,444.98 231.16,445.65 231.44,446.26 231.71,446.83 231.99,447.34 232.27,447.79 232.54,448.19 232.82,448.54 233.10,448.82 233.38,449.06 233.65,449.23 233.93,449.34 234.21,449.40 234.48,449.40 234.76,449.34 235.04,449.23 235.32,449.06 235.59,448.82 235.87,448.54 236.15,448.19 236.42,447.79 236.70,447.34 236.98,446.83 237.26,446.26 237.53,445.65 237.81,444.98 238.09,444.26 238.37,443.50 238.64,442.68 238.92,441.82 239.20,440.92 239.47,439.97 239.75,438.98 240.03,437.95 240.31,436.88 240.58,435.78 240.86,434.64 241.14,433.47 241.41,432.27 241.69,431.04 241.97,429.79 242.25,428.51 242.52,427.22 242.80,425.90 243.08,424.56 243.35,423.22 243.63,421.86 243.91,420.48 244.19,419.11 244.46,417.72 244.74,416.34 245.02,414.96 245.29,413.57 245.57,412.20 245.85,410.82 246.13,409.46 246.40,408.12 246.68,406.78 246.96,405.46 247.23,404.17 247.51,402.89 247.79,401.64 248.07,400.41 248.34,399.21 248.62,398.04 248.90,396.90 249.17,395.80 249.45,394.73 249.73,393.70 250.01,392.71 250.28,391.76 250.56,390.86 250.84,390.00 251.11,389.18 251.39,388.42 251.67,387.70 251.95,387.03 252.22,386.42 252.50,385.85 252.78,385.34 253.05,384.89 253.33,384.49 253.61,384.14 253.89,383.86 254.16,383.62 254.44,383.45 254.72,383.34 255.00,383.28 255.27,383.28 255.55,383.34 255.83,383.45 256.10,383.62 256.38,383.86 256.66,384.14 256.94,384.49 257.21,384.89 257.49,385.34 257.77,385.85 258.04,386.42 258.32,387.03 258.60,387.70 258.88,388.42 259.15,389.18 259.43,390.00 259.71,390.86 259.98,391.76 260.26,392.71 260.54,393.70 260.82,394.73 261.09,395.80 261.37,396.90 261.65,398.04 261.92,399.21 262.20,400.41 262.48,401.64 262.76,402.89 263.03,404.17 263.31,405.46 263.59,406.78 263.86,408.12 264.14,409.46 264.42,410.82 264.70,412.20 264.97,413.57 265.25,414.96 265.53,416.34 265.80,417.72 266.08,419.11 266.36,420.48 266.64,421.86 266.91,423.22 267.19,424.56 267.47,425.90 267.74,427.22 268.02,428.51 268.30,429.79 268.58,431.04 268.85,432.27 269.13,433.47 269.41,434.64 269.68,435.78 269.96,436.88 270.24,437.95 270.52,438.98 270.79,439.97 271.07,440.92 271.35,441.82 271.63,442.68 271.90,443.50 272.18,444.26 272.46,444.98 272.73,445.65 273.01,446.26 273.29,446.83 273.57,447.34 273.84,447.79 274.12,448.19 274.40,448.54 274.67,448.82 274.95,449.06 275.23,449.23 275.51,449.34 275.78,449.40 276.06,449.40 276.34,449.34 276.61,449.23 276.89,449.06 277.17,448.82 277.45,448.54 277.72,448.19 278.00,447.79 278.28,447.34 278.55,446.83 278.83,446.26 279.11,445.65 279.39,444.98 279.66,444.26 279.94,443.50 280.22,442.68 280.49,441.82 280.77,440.92 281.05,439.97 281.33,438.98 281.60,437.95 281.88,436.88 282.16,435.78 282.43,434.64 282.71,433.47 282.99,432.27 283.27,431.04 283.54,429.79 283.82,428.51 284.10,427.22 284.37,425.90 284.65,424.56 284.93,423.22 285.21,421.86 285.48,420.48 285.76,419.11 286.04,417.72 286.31,416.34 286.59,414.96 286.87,413.57 287.15,412.20 287.42,410.82 287.70,409.46 287.98,408.12 288.26,406.78 288.53,405.46 288.81,404.17 289.09,402.89 289.36,401.64 289.64,400.41 289.92,399.21 290.20,398.04 290.47,396.90 290.75,395.80 291.03,394.73 291.30,393.70 291.58,392.71 291.86,391.76 292.14,390.86 292.41,390.00 292.69,389.18 292.97,388.42 293.24,387.70 293.52,387.03 293.80,386.42 294.08,385.85 294.35,385.34 294.63,384.89 294.91,384.49 295.18,384.14 295.46,383.86 295.74,383.62 296.02,383.45 296.29,383.34 296.57,383.28 296.85,383.28 297.12,383.34 297.40,383.45 297.68,383.62 297.96,383.86 298.23,384.14 298.51,384.49 298.79,384.89 299.06,385.34 299.34,385.85 299.62,386.42 299.90,387.03 300.17,387.70 300.45,388.42 300.73,389.18 301.00,390.00 301.28,390.86 301.56,391.76 301.84,392.71 302.11,393.70 302.39,394.73 302.67,395.80 302.94,396.90 303.22,398.04 303.50,399.21 303.78,400.41 304.05,401.64 304.33,402.89 304.61,404.17 304.89,405.46 305.16,406.78 305.44,408.12 305.72,409.46 305.99,410.82 306.27,412.20 306.55,413.57 306.83,414.96 307.10,416.34 307.38,417.72 307.66,419.11 307.93,420.48 308.21,421.86 308.49,423.22 308.77,424.56 309.04,425.90 309.32,427.22 309.60,428.51 309.87,429.79 310.15,431.04 310.43,432.27 310.71,433.47 310.98,434.64 311.26,435.78 311.54,436.88 311.81,437.95 312.09,438.98 312.37,439.97 312.65,440.92 312.92,441.82 313.20,442.68 313.48,443.50 313.75,444.26 314.03,444.98 314.31,445.65 314.59,446.26 314.86,446.83 315.14,447.34 315.42,447.79 315.69,448.19 315.97,448.54 316.25,448.82 316.53,449.06 316.80,449.23 317.08,449.34 317.36,449.40 317.63,449.40 317.91,449.34 318.19,449.23 318.47,449.06 318.74,448.82 319.02,448.54 319.30,448.19 319.57,447.79 319.85,447.34 320.13,446.83 320.41,446.26 320.68,445.65 320.96,444.98 321.24,444.26 321.52,443.50 321.79,442.68 322.07,441.82 322.35,440.92 322.62,439.97 322.90,438.98 323.18,437.95 323.46,436.88 323.73,435.78 324.01,434.64 324.29,433.47 324.56,432.27 324.84,431.04 325.12,429.79 325.40,428.51 325.67,427.22 325.95,425.90 326.23,424.56 326.50,423.22 326.78,421.86 327.06,420.48 327.34,419.11 327.61,417.72 327.89,416.34 328.17,414.96 328.44,413.57 328.72,412.20 329.00,410.82 329.28,409.46 329.55,408.12 329.83,406.78 330.11,405.46 330.38,404.17 330.66,402.89 330.94,401.64 331.22,400.41 331.49,399.21 331.77,398.04 332.05,396.90 332.32,395.80 332.60,394.73 332.88,393.70 333.16,392.71 333.43,391.76 333.71,390.86 333.99,390.00 334.26,389.18 334.54,388.42 334.82,387.70 335.10,387.03 335.37,386.42 335.65,385.85 335.93,385.34 336.20,384.89 336.48,384.49 336.76,384.14 337.04,383.86 337.31,383.62 337.59,383.45 337.87,383.34 338.15,383.28 338.42,383.28 338.70,383.34 338.98,383.45 339.25,383.62 339.53,383.86 339.81,384.14 340.09,384.49 340.36,384.89 340.64,385.34 340.92,385.85 341.19,386.42 341.47,387.03 341.75,387.70 342.03,388.42 342.30,389.18 342.58,390.00 342.86,390.86 343.13,391.76 343.41,392.71 343.69,393.70 343.97,394.73 344.24,395.80 344.52,396.90 344.80,398.04 345.07,399.21 345.35,400.41 345.63,401.64 345.91,402.89 346.18,404.17 346.46,405.46 346.74,406.78 347.01,408.12 347.29,409.46 347.57,410.82 347.85,412.20 348.12,413.57 348.40,414.96 348.68,416.34 348.95,417.72 349.23,419.11 349.51,420.48 349.79,421.86 350.06,423.22 350.34,424.56 350.62,425.90 350.89,427.22 351.17,428.51 351.45,429.79 351.73,431.04 352.00,432.27 352.28,433.47 352.56,434.64 352.83,435.78 353.11,436.88 353.39,437.95 353.67,438.98 353.94,439.97 354.22,440.92 354.50,441.82 354.78,442.68 355.05,443.50 355.33,444.26 355.61,444.98 355.88,445.65 356.16,446.26 356.44,446.83 356.72,447.34 356.99,447.79 357.27,448.19 357.55,448.54 357.82,448.82 358.10,449.06 358.38,449.23 358.66,449.34 358.93,449.40 359.21,449.40 359.49,449.34 359.76,449.23 360.04,449.06 360.32,448.82 360.60,448.54 360.87,448.19 361.15,447.79 361.43,447.34 361.70,446.83 361.98,446.26 362.26,445.65 362.54,444.98 362.81,444.26 363.09,443.50 363.37,442.68 363.64,441.82 363.92,440.92 364.20,439.97 364.48,438.98 364.75,437.95 365.03,436.88 365.31,435.78 365.58,434.64 365.86,433.47 366.14,432.27 366.42,431.04 366.69,429.79 366.97,428.51 367.25,427.22 367.52,425.90 367.80,424.56 368.08,423.22 368.36,421.86 368.63,420.48 368.91,419.11 369.19,417.72 369.46,416.34 369.74,414.96 370.02,413.57 370.30,412.20 370.57,410.82 370.85,409.46 371.13,408.12 371.41,406.78 371.68,405.46 371.96,404.17 372.24,402.89 372.51,401.64 372.79,400.41 373.07,399.21 373.35,398.04 373.62,396.90 373.90,395.80 374.18,394.73 374.45,393.70 374.73,392.71 375.01,391.76 375.29,390.86 375.56,390.00 375.84,389.18 376.12,388.42 376.39,387.70 376.67,387.03 376.95,386.42 377.23,385.85 377.50,385.34 377.78,384.89 378.06,384.49 378.33,384.14 378.61,383.86 378.89,383.62 379.17,383.45 379.44,383.34 379.72,383.28 380.00,383.28 380.27,383.34 380.55,383.45 380.83,383.62 381.11,383.86 381.38,384.14 381.66,384.49 381.94,384.89 382.21,385.34 382.49,385.85 382.77,386.42 383.05,387.03 383.32,387.70 383.60,388.42 383.88,389.18 384.15,390.00 384.43,390.86 384.71,391.76 384.99,392.71 385.26,393.70 385.54,394.73 385.82,395.80 386.09,396.90 386.37,398.04 386.65,399.21 386.93,400.41 387.20,401.64 387.48,402.89 387.76,404.17 388.04,405.46 388.31,406.78 388.59,408.12 388.87,409.46 389.14,410.82 389.42,412.20 389.70,413.57 389.98,414.96 390.25,416.34 390.53,417.72 390.81,419.11 391.08,420.48 391.36,421.86 391.64,423.22 391.92,424.56 392.19,425.90 392.47,427.22 392.75,428.51 393.02,429.79 393.30,431.04 393.58,432.27 393.86,433.47 394.13,434.64 394.41,435.78 394.69,436.88 394.96,437.95 395.24,438.98 395.52,439.97 395.80,440.92 396.07,441.82 396.35,442.68 396.63,443.50 396.90,444.26 397.18,444.98 397.46,445.65 397.74,446.26 398.01,446.83 398.29,447.34 398.57,447.79 398.84,448.19 399.12,448.54 399.40,448.82 399.68,449.06 399.95,449.23 400.23,449.34 400.51,449.40 400.78,449.40 401.06,449.34 401.34,449.23 401.62,449.06 401.89,448.82 402.17,448.54 402.45,448.19 402.72,447.79 403.00,447.34 403.28,446.83 403.56,446.26 403.83,445.65 404.11,444.98 404.39,444.26 404.67,443.50 404.94,442.68 405.22,441.82 405.50,440.92 405.77,439.97 406.05,438.98 406.33,437.95 406.61,436.88 406.88,435.78 407.16,434.64 407.44,433.47 407.71,432.27 407.99,431.04 408.27,429.79 408.55,428.51 408.82,427.22 409.10,425.90 409.38,424.56 409.65,423.22 409.93,421.86 410.21,420.48 410.49,419.11 410.76,417.72 411.04,416.34" fill="none" stroke="#b4b4b4" stroke-width="2.5" stroke-linejoin="round" stroke-linecap="butt"/>
<polyline points="78.44,428.92 78.72,428.74 78.99,428.53 79.27,428.31 79.55,428.06 79.83,427.80 80.10,427.51 80.38,427.20 80.66,426.88 80.93,426.53 81.21,426.17 81.49,425.79 81.77,425.40 82.04,424.98 82.32,424.56 82.60,424.12 82.87,423.66 83.15,423.19 83.43,422.71 83.71,422.22 83.98,421.72 84.26,421.21 84.54,420.69 84.81,420.16 85.09,419.63 85.37,419.09 85.65,418.55 85.92,418.00 86.20,417.45 86.48,416.89 86.75,416.34 87.03,415.79 87.31,415.23 87.59,414.68 87.86,414.13 88.14,413.59 88.42,413.05 88.70,412.52 88.97,411.99 89.25,411.47 89.53,410.96 89.80,410.46 90.08,409.97 90.36,409.49 90.64,409.02 90.91,408.56 91.19,408.12 91.47,407.70 91.74,407.28 92.02,406.89 92.30,406.51 92.58,406.15 92.85,405.80 93.13,405.48 93.41,405.17 93.68,404.88 93.96,404.62 94.24,404.37 94.52,404.15 94.79,403.94 95.07,403.76 95.35,403.60 95.62,403.46 95.90,403.35 96.18,403.25 96.46,403.18 96.73,403.14 97.01,403.11 97.29,403.11 97.56,403.14 97.84,403.18 98.12,403.25 98.40,403.35 98.67,403.46 98.95,403.60 99.23,403.76 99.50,403.94 99.78,404.15 100.06,404.37 100.34,404.62 100.61,404.88 100.89,405.17 101.17,405.48 101.44,405.80 101.72,406.15 102.00,406.51 102.28,406.89 102.55,407.28 102.83,407.70 103.11,408.12 103.38,408.56 103.66,409.02 103.94,409.49 104.22,409.97 104.49,410.46 104.77,410.96 105.05,411.47 105.33,411.99 105.60,412.52 105.88,413.05 106.16,413.59 106.43,414.13 106.71,414.68 106.99,415.23 107.27,415.79 107.54,416.34 107.82,416.89 108.10,417.45 108.37,418.00 108.65,418.55 108.93,419.09 109.21,419.63 109.48,420.16 109.76,420.69 110.04,421.21 110.31,421.72 110.59,422.22 110.87,422.71 111.15,423.19 111.42,423.66 111.70,424.12 111.98,424.56 112.25,424.98 112.53,425.40 112.81,425.79 113.09,426.17 113.36,426.53 113.64,426.88 113.92,427.20 114.19,427.51 114.47,427.80 114.75,428.06 115.03,428.31 115.30,428.53 115.58,428.74 115.86,428.92 116.13,429.08 116.41,429.22 116.69,429.33 116.97,429.43 117.24,429.50 117.52,429.54 117.80,429.57 118.07,429.57 118.35,429.54 118.63,429.50 118.91,429.43 119.18,429.33 119.46,429.22 119.74,429.08 120.01,428.92 120.29,428.74 120.57,428.53 120.85,428.31 121.12,428.06 121.40,427.80 121.68,427.51 121.96,427.20 122.23,426.88 122.51,426.53 122.79,426.17 123.06,425.79 123.34,425.40 123.62,424.98 123.90,424.56 124.17,424.12 124.45,423.66 124.73,423.19 125.00,422.71 125.28,422.22 125.56,421.72 125.84,421.21 126.11,420.69 126.39,420.16 126.67,419.63 126.94,419.09 127.22,418.55 127.50,418.00 127.78,417.45 128.05,416.89 128.33,416.34 128.61,415.79 128.88,415.23 129.16,414.68 129.44,414.13 129.72,413.59 129.99,413.05 130.27,412.52 130.55,411.99 130.82,411.47 131.10,410.96 131.38,410.46 131.66,409.97 131.93,409.49 132.21,409.02 132.49,408.56 132.76,408.12 133.04,407.70 133.32,407.28 133.60,406.89 133.87,406.51 134.15,406.15 134.43,405.80 134.70,405.48 134.98,405.17 135.26,404.88 135.54,404.62 135.81,404.37 136.09,404.15 136.37,403.94 136.64,403.76 136.92,403.60 137.20,403.46 137.48,403.35 137.75,403.25 138.03,403.18 138.31,403.14 138.59,403.11 138.86,403.11 139.14,403.14 139.42,403.18 139.69,403.25 139.97,403.35 140.25,403.46 140.53,403.60 140.80,403.76 141.08,403.94 141.36,404.15 141.63,404.37 141.91,404.62 142.19,404.88 142.47,405.17 142.74,405.48 143.02,405.80 143.30,406.15 143.57,406.51 143.85,406.89 144.13,407.28 144.41,407.70 144.68,408.12 144.96,408.56 145.24,409.02 145.51,409.49 145.79,409.97 146.07,410.46 146.35,410.96 146.62,411.47 146.90,411.99 147.18,412.52 147.45,413.05 147.73,413.59 148.01,414.13 148.29,414.68 148.56,415.23 148.84,415.79 149.12,416.34 149.39,416.89 149.67,417.45 149.95,418.00 150.23,418.55 150.50,419.09 150.78,419.63 151.06,420.16 151.33,420.69 151.61,421.21 151.89,421.72 152.17,422.22 152.44,422.71 152.72,423.19 153.00,423.66 153.27,424.12 153.55,424.56 153.83,424.98 154.11,425.40 154.38,425.79 154.66,426.17 154.94,426.53 155.22,426.88 155.49,427.20 155.77,427.51 156.05,427.80 156.32,428.06 156.60,428.31 156.88,428.53 157.16,428.74 157.43,428.92 157.71,429.08 157.99,429.22 158.26,429.33 158.54,429.43 158.82,429.50 159.10,429.54 159.37,429.57 159.65,429.57 159.93,429.54 160.20,429.50 160.48,429.43 160.76,429.33 161.04,429.22 161.31,429.08 161.59,428.92 161.87,428.74 162.14,428.53 162.42,428.31 162.70,428.06 162.98,427.80 163.25,427.51 163.53,427.20 163.81,426.88 164.08,426.53 164.36,426.17 164.64,425.79 164.92,425.40 165.19,424.98 165.47,424.56 165.75,424.12 166.02,423.66 166.30,423.19 166.58,422.71 166.86,422.22 167.13,421.72 167.41,421.21 167.69,420.69 167.96,420.16 168.24,419.63 168.52,419.09 168.80,418.55 169.07,418.00 169.35,417.45 169.63,416.89 169.90,416.34 170.18,415.79 170.46,415.23 170.74,414.68 171.01,414.13 171.29,413.59 171.57,413.05 171.85,412.52 172.12,411.99 172.40,411.47 172.68,410.96 172.95,410.46 173.23,409.97 173.51,409.49 173.79,409.02 174.06,408.56 174.34,408.12 174.62,407.70 174.89,407.28 175.17,406.89 175.45,406.51 175.73,406.15 176.00,405.80 176.28,405.48 176.56,405.17 176.83,404.88 177.11,404.62 177.39,404.37 177.67,404.15 177.94,403.94 178.22,403.76 178.50,403.60 178.77,403.46 179.05,403.35 179.33,403.25 179.61,403.18 179.88,403.14 180.16,403.11 180.44,403.11 180.71,403.14 180.99,403.18 181.27,403.25 181.55,403.35 181.82,403.46 182.10,403.60 182.38,403.76 182.65,403.94 182.93,404.15 183.21,404.37 183.49,404.62 183.76,404.88 184.04,405.17 184.32,405.48 184.59,405.80 184.87,406.15 185.15,406.51 185.43,406.89 185.70,407.28 185.98,407.70 186.26,408.12 186.53,408.56 186.81,409.02 187.09,409.49 187.37,409.97 187.64,410.46 187.92,410.96 188.20,411.47 188.48,411.99 188.75,412.52 189.03,413.05 189.31,413.59 189.58,414.13 189.86,414.68 190.14,415.23 190.42,415.79 190.69,416.34 190.97,416.89 191.25,417.45 191.52,418.00 191.80,418.55 192.08,419.09 192.36,419.63 192.63,420.16 192.91,420.69 193.19,421.21 193.46,421.72 193.74,422.22 194.02,422.71 194.30,423.19 194.57,423.66 194.85,424.12 195.13,424.56 195.40,424.98 195.68,425.40 195.96,425.79 196.24,426.17 196.51,426.53 196.79,426.88 197.07,427.20 197.34,427.51 197.62,427.80 197.90,428.06 198.18,428.31 198.45,428.53 198.73,428.74 199.01,428.92 199.28,429.08 199.56,429.22 199.84,429.33 200.12,429.43 200.39,429.50 200.67,429.54 200.95,429.57 201.22,429.57 201.50,429.54 201.78,429.50 202.06,429.43 202.33,429.33 202.61,429.22 202.89,429.08 203.16,428.92 203.44,428.74 203.72,428.53 204.00,428.31 204.27,428.06 204.55,427.80 204.83,427.51 205.11,427.20 205.38,426.88 205.66,426.53 205.94,426.17 206.21,425.79 206.49,425.40 206.77,424.98 207.05,424.56 207.32,424.12 207.60,423.66 207.88,423.19 208.15,422.71 208.43,422.22 208.71,421.72 208.99,421.21 209.26,420.69 209.54,420.16 209.82,419.63 210.09,419.09 210.37,418.55 210.65,418.00 210.93,417.45 211.20,416.89 211.48,416.34 211.76,415.79 212.03,415.23 212.31,414.68 212.59,414.13 212.87,413.59 213.14,413.05 213.42,412.52 213.70,411.99 213.97,411.47 214.25,410.96 214.53,410.46 214.81,409.97 215.08,409.49 215.36,409.02 215.64,408.56 215.91,408.12 216.19,407.70 216.47,407.28 216.75,406.89 217.02,406.51 217.30,406.15 217.58,405.80 217.85,405.48 218.13,405.17 218.41,404.88 218.69,404.62 218.96,404.37 219.24,404.15 219.52,403.94 219.79,403.76 220.07,403.60 220.35,403.46 220.63,403.35 220.90,403.25 221.18,403.18 221.46,403.14 221.74,403.11 222.01,403.11 222.29,403.14 222.57,403.18 222.84,403.25 223.12,403.35 223.40,403.46 223.68,403.60 223.95,403.76 224.23,403.94 224.51,404.15 224.78,404.37 225.06,404.62 225.34,404.88 225.62,405.17 225.89,405.48 226.17,405.80 226.45,406.15 226.72,406.51 227.00,406.89 227.28,407.28 227.56,407.70 227.83,408.12 228.11,408.56 228.39,409.02 228.66,409.49 228.94,409.97 229.22,410.46 229.50,410.96 229.77,411.47 230.05,411.99 230.33,412.52 230.60,413.05 230.88,413.59 231.16,414.13 231.44,414.68 231.71,415.23 231.99,415.79 232.27,416.34 232.54,416.89 232.82,417.45 233.10,418.00 233.38,418.55 233.65,419.09 233.93,419.63 234.21,420.16 234.48,420.69 234.76,421.21 235.04,421.72 235.32,422.22 235.59,422.71 235.87,423.19 236.15,423.66 236.42,424.12 236.70,424.56 236.98,424.98 237.26,425.40 237.53,425.79 237.81,426.17 238.09,426.53 238.37,426.88 238.64,427.20 238.92,427.51 239.20,427.80 239.47,428.06 239.75,428.31 240.03,428.53 240.31,428.74 240.58,428.92 240.86,429.08 241.14,429.22 241.41,429.33 241.69,429.43 241.97,429.50 242.25,429.54 242.52,429.57 242.80,429.57 243.08,429.54 243.35,429.50 243.63,429.43 243.91,429.33 244.19,429.22 244.46,429.08 244.74,428.92 245.02,428.74 245.29,428.53 245.57,428.31 245.85,428.06 246.13,427.80 246.40,427.51 246.68,427.20 246.96,426.88 247.23,426.53 247.51,426.17 247.79,425.79 248.07,425.40 248.34,424.98 248.62,424.56 248.90,424.12 249.17,423.66 249.45,423.19 249.73,422.71 250.01,422.22 250.28,421.72 250.56,421.21 250.84,420.69 251.11,420.16 251.39,419.63 251.67,419.09 251.95,418.55 252.22,418.00 252.50,417.45 252.78,416.89 253.05,416.34 253.33,415.79 253.61,415.23 253.89,414.68 254.16,414.13 254.44,413.59 254.72,413.05 255.00,412.52 255.27,411.99 255.55,411.47 255.83,410.96 256.10,410.46 256.38,409.97 256.66,409.49 256.94,409.02 257.21,408.56 257.49,408.12 257.77,407.70 258.04,407.28 258.32,406.89 258.60,406.51 258.88,406.15 259.15,405.80 259.43,405.48 259.71,405.17 259.98,404.88 260.26,404.62 260.54,404.37 260.82,404.15 261.09,403.94 261.37,403.76 261.65,403.60 261.92,403.46 262.20,403.35 262.48,403.25 262.76,403.18 263.03,403.14 263.31,403.11 263.59,403.11 263.86,403.14 264.14,403.18 264.42,403.25 264.70,403.35 264.97,403.46 265.25,403.60 265.53,403.76 265.80,403.94 266.08,404.15 266.36,404.37 266.64,404.62 266.91,404.88 267.19,405.17 267.47,405.48 267.74,405.80 268.02,406.15 268.30,406.51 268.58,406.89 268.85,407.28 269.13,407.70 269.41,408.12 269.68,408.56 269.96,409.02 270.24,409.49 270.52,409.97 270.79,410.46 271.07,410.96 271.35,411.47 271.63,411.99 271.90,412.52 272.18,413.05 272.46,413.59 272.73,414.13 273.01,414.68 273.29,415.23 273.57,415.79 273.84,416.34 274.12,416.89 274.40,417.45 274.67,418.00 274.95,418.55 275.23,419.09 275.51,419.63 275.78,420.16 276.06,420.69 276.34,421.21 276.61,421.72 276.89,422.22 277.17,422.71 277.45,423.19 277.72,423.66 278.00,424.12 278.28,424.56 278.55,424.98 278.83,425.40 279.11,425.79 279.39,426.17 279.66,426.53 279.94,426.88 280.22,427.20 280.49,427.51 280.77,427.80 281.05,428.06 281.33,428.31 281.60,428.53 281.88,428.74 282.16,428.92 282.43,429.08 282.71,429.22 282.99,429.33 283.27,429.43 283.54,429.50 283.82,429.54 284.10,429.57 284.37,429.57 284.65,429.54 284.93,429.50 285.21,429.43 285.48,429.33 285.76,429.22 286.04,429.08 286.31,428.92 286.59,428.74 286.87,428.53 287.15,428.31 287.42,428.06 287.70,427.80 287.98,427.51 288.26,427.20 288.53,426.88 288.81,426.53 289.09,426.17 289.36,425.79 289.64,425.40 289.92,424.98 290.20,424.56 290.47,424.12 290.75,423.66 291.03,423.19 291.30,422.71 291.58,422.22 291.86,421.72 292.14,421.21 292.41,420.69 292.69,420.16 292.97,419.63 293.24,419.09 293.52,418.55 293.80,418.00 294.08,417.45 294.35,416.89 294.63,416.34 294.91,415.79 295.18,415.23 295.46,414.68 295.74,414.13 296.02,413.59 296.29,413.05 296.57,412.52 296.85,411.99 297.12,411.47 297.40,410.96 297.68,410.46 297.96,409.97 298.23,409.49 298.51,409.02 298.79,408.56 299.06,408.12 299.34,407.70 299.62,407.28 299.90,406.89 300.17,406.51 300.45,406.15 300.73,405.80 301.00,405.48 301.28,405.17 301.56,404.88 301.84,404.62 302.11,404.37 302.39,404.15 302.67,403.94 302.94,403.76 303.22,403.60 303.50,403.46 303.78,403.35 304.05,403.25 304.33,403.18 304.61,403.14 304.89,403.11 305.16,403.11 305.44,403.14 305.72,403.18 305.99,403.25 306.27,403.35 306.55,403.46 306.83,403.60 307.10,403.76 307.38,403.94 307.66,404.15 307.93,404.37 308.21,404.62 308.49,404.88 308.77,405.17 309.04,405.48 309.32,405.80 309.60,406.15 309.87,406.51 310.15,406.89 310.43,407.28 310.71,407.70 310.98,408.12 311.26,408.56 311.54,409.02 311.81,409.49 312.09,409.97 312.37,410.46 312.65,410.96 312.92,411.47 313.20,411.99 313.48,412.52 313.75,413.05 314.03,413.59 314.31,414.13 314.59,414.68 314.86,415.23 315.14,415.79 315.42,416.34 315.69,416.89 315.97,417.45 316.25,418.00 316.53,418.55 316.80,419.09 317.08,419.63 317.36,420.16 317.63,420.69 317.91,421.21 318.19,421.72 318.47,422.22 318.74,422.71 319.02,423.19 319.30,423.66 319.57,424.12 319.85,424.56 320.13,424.98 320.41,425.40 320.68,425.79 320.96,426.17 321.24,426.53 321.52,426.88 321.79,427.20 322.07,427.51 322.35,427.80 322.62,428.06 322.90,428.31 323.18,428.53 323.46,428.74 323.73,428.92 324.01,429.08 324.29,429.22 324.56,429.33 324.84,429.43 325.12,429.50 325.40,429.54 325.67,429.57 325.95,429.57 326.23,429.54 326.50,429.50 326.78,429.43 327.06,429.33 327.34,429.22 327.61,429.08 327.89,428.92 328.17,428.74 328.44,428.53 328.72,428.31 329.00,428.06 329.28,427.80 329.55,427.51 329.83,427.20 330.11,426.88 330.38,426.53 330.66,426.17 330.94,425.79 331.22,425.40 331.49,424.98 331.77,424.56 332.05,424.12 332.32,423.66 332.60,423.19 332.88,422.71 333.16,422.22 333.43,421.72 333.71,421.21 333.99,420.69 334.26,420.16 334.54,419.63 334.82,419.09 335.10,418.55 335.37,418.00 335.65,417.45 335.93,416.89 336.20,416.34 336.48,415.79 336.76,415.23 337.04,414.68 337.31,414.13 337.59,413.59 337.87,413.05 338.15,412.52 338.42,411.99 338.70,411.47 338.98,410.96 339.25,410.46 339.53,409.97 339.81,409.49 340.09,409.02 340.36,408.56 340.64,408.12 340.92,407.70 341.19,407.28 341.47,406.89 341.75,406.51 342.03,406.15 342.30,405.80 342.58,405.48 342.86,405.17 343.13,404.88 343.41,404.62 343.69,404.37 343.97,404.15 344.24,403.94 344.52,403.76 344.80,403.60 345.07,403.46 345.35,403.35 345.63,403.25 345.91,403.18 346.18,403.14 346.46,403.11 346.74,403.11 347.01,403.14 347.29,403.18 347.57,403.25 347.85,403.35 348.12,403.46 348.40,403.60 348.68,403.76 348.95,403.94 349.23,404.15 349.51,404.37 349.79,404.62 350.06,404.88 350.34,405.17 350.62,405.48 350.89,405.80 351.17,406.15 351.45,406.51 351.73,406.89 352.00,407.28 352.28,407.70 352.56,408.12 352.83,408.56 353.11,409.02 353.39,409.49 353.67,409.97 353.94,410.46 354.22,410.96 354.50,411.47 354.78,411.99 355.05,412.52 355.33,413.05 355.61,413.59 355.88,414.13 356.16,414.68 356.44,415.23 356.72,415.79 356.99,416.34 357.27,416.89 357.55,417.45 357.82,418.00 358.10,418.55 358.38,419.09 358.66,419.63 358.93,420.16 359.21,420.69 359.49,421.21 359.76,421.72 360.04,422.22 360.32,422.71 360.60,423.19 360.87,423.66 361.15,424.12 361.43,424.56 361.70,424.98 361.98,425.40 362.26,425.79 362.54,426.17 362.81,426.53 363.09,426.88 363.37,427.20 363.64,427.51 363.92,427.80 364.20,428.06 364.48,428.31 364.75,428.53 365.03,428.74 365.31,428.92 365.58,429.08 365.86,429.22 366.14,429.33 366.42,429.43 366.69,429.50 366.97,429.54 367.25,429.57 367.52,429.57 367.80,429.54 368.08,429.50 368.36,429.43 368.63,429.33 368.91,429.22 369.19,429.08 369.46,428.92 369.74,428.74 370.02,428.53 370.30,428.31 370.57,428.06 370.85,427.80 371.13,427.51 371.41,427.20 371.68,426.88 371.96,426.53 372.24,426.17 372.51,425.79 372.79,425.40 373.07,424.98 373.35,424.56 373.62,424.12 373.90,423.66 374.18,423.19 374.45,422.71 374.73,422.22 375.01,421.72 375.29,421.21 375.56,420.69 375.84,420.16 376.12,419.63 376.39,419.09 376.67,418.55 376.95,418.00 377.23,417.45 377.50,416.89 377.78,416.34 378.06,415.79 378.33,415.23 378.61,414.68 378.89,414.13 379.17,413.59 379.44,413.05 379.72,412.52 380.00,411.99 380.27,411.47 380.55,410.96 380.83,410.46 381.11,409.97 381.38,409.49 381.66,409.02 381.94,408.56 382.21,408.12 382.49,407.70 382.77,407.28 383.05,406.89 383.32,406.51 383.60,406.15 383.88,405.80 384.15,405.48 384.43,405.17 384.71,404.88 384.99,404.62 385.26,404.37 385.54,404.15 385.82,403.94 386.09,403.76 386.37,403.60 386.65,403.46 386.93,403.35 387.20,403.25 387.48,403.18 387.76,403.14 388.04,403.11 388.31,403.11 388.59,403.14 388.87,403.18 389.14,403.25 389.42,403.35 389.70,403.46 389.98,403.60 390.25,403.76 390.53,403.94 390.81,404.15 391.08,404.37 391.36,404.62 391.64,404.88 391.92,405.17 392.19,405.48 392.47,405.80 392.75,406.15 393.02,406.51 393.30,406.89 393.58,407.28 393.86,407.70 394.13,408.12 394.41,408.56 394.69,409.02 394.96,409.49 395.24,409.97 395.52,410.46 395.80,410.96 396.07,411.47 396.35,411.99 396.63,412.52 396.90,413.05 397.18,413.59 397.46,414.13 397.74,414.68 398.01,415.23 398.29,415.79 398.57,416.34 398.84,416.89 399.12,417.45 399.40,418.00 399.68,418.55 399.95,419.09 400.23,419.63 400.51,420.16 400.78,420.69 401.06,421.21 401.34,421.72 401.62,422.22 401.89,422.71 402.17,423.19 402.45,423.66 402.72,424.12 403.00,424.56 403.28,424.98 403.56,425.40 403.83,425.79 404.11,426.17 404.39,426.53 404.67,426.88 404.94,427.20 405.22,427.51 405.50,427.80 405.77,428.06 406.05,428.31 406.33,428.53 406.61,428.74 406.88,428.92 407.16,429.08 407.44,429.22 407.71,429.33 407.99,429.43 408.27,429.50 408.55,429.54 408.82,429.57 409.10,429.57 409.38,429.54 409.65,429.50 409.93,429.43 410.21,429.33 410.49,429.22 410.76,429.08 411.04,428.92" fill="none" stroke="#000" stroke-width="2.5" stroke-linejoin="round" stroke-dasharray="2.6 1.9" stroke-linecap="butt"/>
<line x1="60.45" y1="381.95" x2="60.45" y2="450.74" stroke="#000" stroke-width="2.65" />
<line x1="52.00" y1="449.41" x2="60.45" y2="449.41" stroke="#000" stroke-width="2.6" />
<text transform="translate(48.20,457.31) scale(0.98,1.05)" font-size="22" text-anchor="end" >1</text>
<line x1="52.00" y1="416.34" x2="60.45" y2="416.34" stroke="#000" stroke-width="2.6" />
<text transform="translate(48.20,424.24) scale(0.98,1.05)" font-size="22" text-anchor="end" >2</text>
<line x1="52.00" y1="383.27" x2="60.45" y2="383.27" stroke="#000" stroke-width="2.6" />
<text transform="translate(48.20,391.17) scale(0.98,1.05)" font-size="22" text-anchor="end" >3</text>
<text transform="translate(427.00,377.22) scale(1.0,0.98)" font-size="24.5" text-anchor="end" >0.4 Hz</text>
<line x1="464.00" y1="459.30" x2="600.50" y2="459.30" stroke="#c6c6c6" stroke-width="1.0" stroke-dasharray="2.43 2.43"/>
<line x1="464.00" y1="417.62" x2="600.50" y2="417.62" stroke="#c6c6c6" stroke-width="1.0" stroke-dasharray="2.43 2.43"/>
<line x1="464.00" y1="375.95" x2="600.50" y2="375.95" stroke="#c6c6c6" stroke-width="1.0" stroke-dasharray="2.43 2.43"/>
<line x1="595.65" y1="459.30" x2="595.65" y2="425.96" stroke="#000" stroke-width="2.65" />
<line x1="602.60" y1="374.62" x2="602.60" y2="460.62" stroke="#000" stroke-width="2.65" />
<line x1="602.60" y1="459.30" x2="610.90" y2="459.30" stroke="#000" stroke-width="2.6" />
<text transform="translate(616.80,467.40) scale(0.98,1.05)" font-size="22" text-anchor="start" >0.0</text>
<line x1="602.60" y1="417.62" x2="610.90" y2="417.62" stroke="#000" stroke-width="2.6" />
<text transform="translate(616.80,425.73) scale(0.98,1.05)" font-size="22" text-anchor="start" >0.5</text>
<line x1="602.60" y1="375.95" x2="610.90" y2="375.95" stroke="#000" stroke-width="2.6" />
<text transform="translate(616.80,384.05) scale(0.98,1.05)" font-size="22" text-anchor="start" >1.0</text>
<line x1="460.98" y1="463.50" x2="596.98" y2="463.50" stroke="#000" stroke-width="2.65" />
<line x1="462.30" y1="463.50" x2="462.30" y2="471.70" stroke="#000" stroke-width="2.6" />
<line x1="506.75" y1="463.50" x2="506.75" y2="471.70" stroke="#000" stroke-width="2.6" />
<line x1="551.20" y1="463.50" x2="551.20" y2="471.70" stroke="#000" stroke-width="2.6" />
<line x1="595.65" y1="463.50" x2="595.65" y2="471.70" stroke="#000" stroke-width="2.6" />
<polyline points="78.44,539.35 78.72,539.51 78.99,539.67 79.27,539.82 79.55,539.95 79.83,540.09 80.10,540.21 80.38,540.32 80.66,540.43 80.93,540.52 81.21,540.61 81.49,540.69 81.77,540.77 82.04,540.83 82.32,540.89 82.60,540.94 82.87,540.98 83.15,541.02 83.43,541.05 83.71,541.07 83.98,541.09 84.26,541.10 84.54,541.11 84.81,541.11 85.09,541.10 85.37,541.09 85.65,541.08 85.92,541.06 86.20,541.04 86.48,541.01 86.75,540.98 87.03,540.95 87.31,540.91 87.59,540.87 87.86,540.83 88.14,540.79 88.42,540.74 88.70,540.70 88.97,540.65 89.25,540.60 89.53,540.56 89.80,540.51 90.08,540.46 90.36,540.41 90.64,540.37 90.91,540.32 91.19,540.28 91.47,540.23 91.74,540.19 92.02,540.15 92.30,540.11 92.58,540.08 92.85,540.05 93.13,540.02 93.41,539.99 93.68,539.96 93.96,539.94 94.24,539.92 94.52,539.91 94.79,539.89 95.07,539.89 95.35,539.88 95.62,539.88 95.90,539.88 96.18,539.88 96.46,539.89 96.73,539.90 97.01,539.92 97.29,539.94 97.56,539.96 97.84,539.98 98.12,540.01 98.40,540.04 98.67,540.08 98.95,540.11 99.23,540.15 99.50,540.19 99.78,540.23 100.06,540.28 100.34,540.32 100.61,540.37 100.89,540.42 101.17,540.47 101.44,540.52 101.72,540.57 102.00,540.62 102.28,540.67 102.55,540.72 102.83,540.77 103.11,540.81 103.38,540.86 103.66,540.90 103.94,540.94 104.22,540.98 104.49,541.02 104.77,541.05 105.05,541.08 105.33,541.10 105.60,541.12 105.88,541.13 106.16,541.14 106.43,541.15 106.71,541.15 106.99,541.14 107.27,541.12 107.54,541.10 107.82,541.07 108.10,541.04 108.37,540.99 108.65,540.94 108.93,540.88 109.21,540.81 109.48,540.73 109.76,540.64 110.04,540.55 110.31,540.44 110.59,540.32 110.87,540.19 111.15,540.05 111.42,539.91 111.70,539.74 111.98,539.57 112.25,539.39 112.53,539.20 112.81,538.99 113.09,538.78 113.36,538.55 113.64,538.31 113.92,538.06 114.19,537.79 114.47,537.52 114.75,537.23 115.03,536.94 115.30,536.63 115.58,536.31 115.86,535.98 116.13,535.63 116.41,535.28 116.69,534.92 116.97,534.54 117.24,534.16 117.52,533.76 117.80,533.36 118.07,532.95 118.35,532.52 118.63,532.09 118.91,531.65 119.18,531.20 119.46,530.75 119.74,530.29 120.01,529.82 120.29,529.34 120.57,528.86 120.85,528.37 121.12,527.88 121.40,527.39 121.68,526.88 121.96,526.38 122.23,525.88 122.51,525.37 122.79,524.86 123.06,524.35 123.34,523.83 123.62,523.32 123.90,522.81 124.17,522.30 124.45,521.80 124.73,521.29 125.00,520.79 125.28,520.29 125.56,519.80 125.84,519.31 126.11,518.83 126.39,518.36 126.67,517.89 126.94,517.43 127.22,516.97 127.50,516.53 127.78,516.10 128.05,515.67 128.33,515.26 128.61,514.86 128.88,514.47 129.16,514.09 129.44,513.73 129.72,513.38 129.99,513.04 130.27,512.72 130.55,512.41 130.82,512.12 131.10,511.85 131.38,511.59 131.66,511.35 131.93,511.12 132.21,510.92 132.49,510.73 132.76,510.56 133.04,510.41 133.32,510.27 133.60,510.16 133.87,510.07 134.15,509.99 134.43,509.94 134.70,509.90 134.98,509.89 135.26,509.90 135.54,509.92 135.81,509.97 136.09,510.04 136.37,510.12 136.64,510.23 136.92,510.36 137.20,510.51 137.48,510.68 137.75,510.87 138.03,511.07 138.31,511.30 138.59,511.55 138.86,511.82 139.14,512.10 139.42,512.40 139.69,512.73 139.97,513.06 140.25,513.42 140.53,513.79 140.80,514.19 141.08,514.59 141.36,515.01 141.63,515.45 141.91,515.90 142.19,516.37 142.47,516.84 142.74,517.34 143.02,517.84 143.30,518.35 143.57,518.88 143.85,519.42 144.13,519.96 144.41,520.51 144.68,521.08 144.96,521.65 145.24,522.22 145.51,522.81 145.79,523.39 146.07,523.98 146.35,524.58 146.62,525.18 146.90,525.78 147.18,526.38 147.45,526.98 147.73,527.58 148.01,528.19 148.29,528.78 148.56,529.38 148.84,529.98 149.12,530.56 149.39,531.15 149.67,531.73 149.95,532.30 150.23,532.87 150.50,533.42 150.78,533.97 151.06,534.51 151.33,535.04 151.61,535.56 151.89,536.07 152.17,536.57 152.44,537.06 152.72,537.53 153.00,537.99 153.27,538.43 153.55,538.86 153.83,539.28 154.11,539.68 154.38,540.06 154.66,540.43 154.94,540.78 155.22,541.11 155.49,541.43 155.77,541.73 156.05,542.01 156.32,542.27 156.60,542.51 156.88,542.74 157.16,542.94 157.43,543.13 157.71,543.30 157.99,543.45 158.26,543.58 158.54,543.69 158.82,543.78 159.10,543.85 159.37,543.90 159.65,543.94 159.93,543.95 160.20,543.95 160.48,543.93 160.76,543.89 161.04,543.83 161.31,543.76 161.59,543.67 161.87,543.56 162.14,543.43 162.42,543.29 162.70,543.13 162.98,542.96 163.25,542.78 163.53,542.57 163.81,542.36 164.08,542.13 164.36,541.89 164.64,541.64 164.92,541.38 165.19,541.10 165.47,540.82 165.75,540.53 166.02,540.22 166.30,539.91 166.58,539.60 166.86,539.27 167.13,538.94 167.41,538.61 167.69,538.27 167.96,537.93 168.24,537.58 168.52,537.24 168.80,536.89 169.07,536.54 169.35,536.19 169.63,535.84 169.90,535.50 170.18,535.16 170.46,534.82 170.74,534.48 171.01,534.15 171.29,533.83 171.57,533.51 171.85,533.20 172.12,532.89 172.40,532.60 172.68,532.31 172.95,532.04 173.23,531.77 173.51,531.52 173.79,531.28 174.06,531.05 174.34,530.83 174.62,530.63 174.89,530.44 175.17,530.26 175.45,530.10 175.73,529.96 176.00,529.83 176.28,529.72 176.56,529.62 176.83,529.54 177.11,529.48 177.39,529.44 177.67,529.41 177.94,529.41 178.22,529.42 178.50,529.45 178.77,529.50 179.05,529.56 179.33,529.65 179.61,529.75 179.88,529.88 180.16,530.02 180.44,530.18 180.71,530.36 180.99,530.56 181.27,530.78 181.55,531.02 181.82,531.27 182.10,531.54 182.38,531.83 182.65,532.14 182.93,532.46 183.21,532.80 183.49,533.16 183.76,533.53 184.04,533.92 184.32,534.32 184.59,534.74 184.87,535.17 185.15,535.62 185.43,536.08 185.70,536.55 185.98,537.03 186.26,537.52 186.53,538.02 186.81,538.54 187.09,539.06 187.37,539.59 187.64,540.12 187.92,540.67 188.20,541.22 188.48,541.77 188.75,542.33 189.03,542.90 189.31,543.46 189.58,544.03 189.86,544.60 190.14,545.17 190.42,545.74 190.69,546.31 190.97,546.88 191.25,547.44 191.52,548.01 191.80,548.56 192.08,549.11 192.36,549.66 192.63,550.20 192.91,550.73 193.19,551.25 193.46,551.77 193.74,552.27 194.02,552.77 194.30,553.25 194.57,553.72 194.85,554.18 195.13,554.62 195.40,555.05 195.68,555.47 195.96,555.87 196.24,556.25 196.51,556.62 196.79,556.97 197.07,557.31 197.34,557.62 197.62,557.92 197.90,558.20 198.18,558.46 198.45,558.70 198.73,558.92 199.01,559.12 199.28,559.30 199.56,559.45 199.84,559.59 200.12,559.70 200.39,559.80 200.67,559.87 200.95,559.91 201.22,559.94 201.50,559.95 201.78,559.93 202.06,559.89 202.33,559.83 202.61,559.74 202.89,559.64 203.16,559.51 203.44,559.36 203.72,559.19 204.00,558.99 204.27,558.78 204.55,558.54 204.83,558.29 205.11,558.01 205.38,557.72 205.66,557.40 205.94,557.07 206.21,556.72 206.49,556.35 206.77,555.96 207.05,555.55 207.32,555.13 207.60,554.70 207.88,554.24 208.15,553.77 208.43,553.29 208.71,552.80 208.99,552.29 209.26,551.77 209.54,551.23 209.82,550.69 210.09,550.14 210.37,549.57 210.65,549.00 210.93,548.42 211.20,547.84 211.48,547.24 211.76,546.64 212.03,546.04 212.31,545.43 212.59,544.82 212.87,544.20 213.14,543.59 213.42,542.97 213.70,542.35 213.97,541.74 214.25,541.12 214.53,540.51 214.81,539.90 215.08,539.29 215.36,538.69 215.64,538.09 215.91,537.49 216.19,536.91 216.47,536.33 216.75,535.76 217.02,535.19 217.30,534.64 217.58,534.09 217.85,533.56 218.13,533.03 218.41,532.52 218.69,532.02 218.96,531.53 219.24,531.06 219.52,530.60 219.79,530.15 220.07,529.72 220.35,529.30 220.63,528.89 220.90,528.50 221.18,528.13 221.46,527.78 221.74,527.44 222.01,527.11 222.29,526.81 222.57,526.52 222.84,526.25 223.12,525.99 223.40,525.76 223.68,525.54 223.95,525.33 224.23,525.15 224.51,524.99 224.78,524.84 225.06,524.71 225.34,524.59 225.62,524.50 225.89,524.42 226.17,524.36 226.45,524.32 226.72,524.29 227.00,524.28 227.28,524.29 227.56,524.31 227.83,524.35 228.11,524.41 228.39,524.48 228.66,524.57 228.94,524.67 229.22,524.78 229.50,524.91 229.77,525.06 230.05,525.21 230.33,525.38 230.60,525.56 230.88,525.75 231.16,525.96 231.44,526.17 231.71,526.40 231.99,526.63 232.27,526.88 232.54,527.13 232.82,527.39 233.10,527.66 233.38,527.94 233.65,528.22 233.93,528.51 234.21,528.81 234.48,529.11 234.76,529.41 235.04,529.72 235.32,530.03 235.59,530.35 235.87,530.67 236.15,530.99 236.42,531.31 236.70,531.63 236.98,531.95 237.26,532.27 237.53,532.59 237.81,532.91 238.09,533.23 238.37,533.54 238.64,533.85 238.92,534.16 239.20,534.47 239.47,534.77 239.75,535.07 240.03,535.36 240.31,535.65 240.58,535.93 240.86,536.21 241.14,536.48 241.41,536.75 241.69,537.00 241.97,537.25 242.25,537.50 242.52,537.74 242.80,537.97 243.08,538.19 243.35,538.40 243.63,538.61 243.91,538.80 244.19,538.99 244.46,539.18 244.74,539.35 245.02,539.51 245.29,539.67 245.57,539.82 245.85,539.95 246.13,540.09 246.40,540.21 246.68,540.32 246.96,540.43 247.23,540.52 247.51,540.61 247.79,540.69 248.07,540.77 248.34,540.83 248.62,540.89 248.90,540.94 249.17,540.98 249.45,541.02 249.73,541.05 250.01,541.07 250.28,541.09 250.56,541.10 250.84,541.11 251.11,541.11 251.39,541.10 251.67,541.09 251.95,541.08 252.22,541.06 252.50,541.04 252.78,541.01 253.05,540.98 253.33,540.95 253.61,540.91 253.89,540.87 254.16,540.83 254.44,540.79 254.72,540.74 255.00,540.70 255.27,540.65 255.55,540.60 255.83,540.56 256.10,540.51 256.38,540.46 256.66,540.41 256.94,540.37 257.21,540.32 257.49,540.28 257.77,540.23 258.04,540.19 258.32,540.15 258.60,540.11 258.88,540.08 259.15,540.05 259.43,540.02 259.71,539.99 259.98,539.96 260.26,539.94 260.54,539.92 260.82,539.91 261.09,539.89 261.37,539.89 261.65,539.88 261.92,539.88 262.20,539.88 262.48,539.88 262.76,539.89 263.03,539.90 263.31,539.92 263.59,539.94 263.86,539.96 264.14,539.98 264.42,540.01 264.70,540.04 264.97,540.08 265.25,540.11 265.53,540.15 265.80,540.19 266.08,540.23 266.36,540.28 266.64,540.32 266.91,540.37 267.19,540.42 267.47,540.47 267.74,540.52 268.02,540.57 268.30,540.62 268.58,540.67 268.85,540.72 269.13,540.77 269.41,540.81 269.68,540.86 269.96,540.90 270.24,540.94 270.52,540.98 270.79,541.02 271.07,541.05 271.35,541.08 271.63,541.10 271.90,541.12 272.18,541.13 272.46,541.14 272.73,541.15 273.01,541.15 273.29,541.14 273.57,541.12 273.84,541.10 274.12,541.07 274.40,541.04 274.67,540.99 274.95,540.94 275.23,540.88 275.51,540.81 275.78,540.73 276.06,540.64 276.34,540.55 276.61,540.44 276.89,540.32 277.17,540.19 277.45,540.05 277.72,539.91 278.00,539.74 278.28,539.57 278.55,539.39 278.83,539.20 279.11,538.99 279.39,538.78 279.66,538.55 279.94,538.31 280.22,538.06 280.49,537.79 280.77,537.52 281.05,537.23 281.33,536.94 281.60,536.63 281.88,536.31 282.16,535.98 282.43,535.63 282.71,535.28 282.99,534.92 283.27,534.54 283.54,534.16 283.82,533.76 284.10,533.36 284.37,532.95 284.65,532.52 284.93,532.09 285.21,531.65 285.48,531.20 285.76,530.75 286.04,530.29 286.31,529.82 286.59,529.34 286.87,528.86 287.15,528.37 287.42,527.88 287.70,527.39 287.98,526.88 288.26,526.38 288.53,525.88 288.81,525.37 289.09,524.86 289.36,524.35 289.64,523.83 289.92,523.32 290.20,522.81 290.47,522.30 290.75,521.80 291.03,521.29 291.30,520.79 291.58,520.29 291.86,519.80 292.14,519.31 292.41,518.83 292.69,518.36 292.97,517.89 293.24,517.43 293.52,516.97 293.80,516.53 294.08,516.10 294.35,515.67 294.63,515.26 294.91,514.86 295.18,514.47 295.46,514.09 295.74,513.73 296.02,513.38 296.29,513.04 296.57,512.72 296.85,512.41 297.12,512.12 297.40,511.85 297.68,511.59 297.96,511.35 298.23,511.12 298.51,510.92 298.79,510.73 299.06,510.56 299.34,510.41 299.62,510.27 299.90,510.16 300.17,510.07 300.45,509.99 300.73,509.94 301.00,509.90 301.28,509.89 301.56,509.90 301.84,509.92 302.11,509.97 302.39,510.04 302.67,510.12 302.94,510.23 303.22,510.36 303.50,510.51 303.78,510.68 304.05,510.87 304.33,511.07 304.61,511.30 304.89,511.55 305.16,511.82 305.44,512.10 305.72,512.40 305.99,512.73 306.27,513.06 306.55,513.42 306.83,513.79 307.10,514.19 307.38,514.59 307.66,515.01 307.93,515.45 308.21,515.90 308.49,516.37 308.77,516.84 309.04,517.34 309.32,517.84 309.60,518.35 309.87,518.88 310.15,519.42 310.43,519.96 310.71,520.51 310.98,521.08 311.26,521.65 311.54,522.22 311.81,522.81 312.09,523.39 312.37,523.98 312.65,524.58 312.92,525.18 313.20,525.78 313.48,526.38 313.75,526.98 314.03,527.58 314.31,528.19 314.59,528.78 314.86,529.38 315.14,529.98 315.42,530.56 315.69,531.15 315.97,531.73 316.25,532.30 316.53,532.87 316.80,533.42 317.08,533.97 317.36,534.51 317.63,535.04 317.91,535.56 318.19,536.07 318.47,536.57 318.74,537.06 319.02,537.53 319.30,537.99 319.57,538.43 319.85,538.86 320.13,539.28 320.41,539.68 320.68,540.06 320.96,540.43 321.24,540.78 321.52,541.11 321.79,541.43 322.07,541.73 322.35,542.01 322.62,542.27 322.90,542.51 323.18,542.74 323.46,542.94 323.73,543.13 324.01,543.30 324.29,543.45 324.56,543.58 324.84,543.69 325.12,543.78 325.40,543.85 325.67,543.90 325.95,543.94 326.23,543.95 326.50,543.95 326.78,543.93 327.06,543.89 327.34,543.83 327.61,543.76 327.89,543.67 328.17,543.56 328.44,543.43 328.72,543.29 329.00,543.13 329.28,542.96 329.55,542.78 329.83,542.57 330.11,542.36 330.38,542.13 330.66,541.89 330.94,541.64 331.22,541.38 331.49,541.10 331.77,540.82 332.05,540.53 332.32,540.22 332.60,539.91 332.88,539.60 333.16,539.27 333.43,538.94 333.71,538.61 333.99,538.27 334.26,537.93 334.54,537.58 334.82,537.24 335.10,536.89 335.37,536.54 335.65,536.19 335.93,535.84 336.20,535.50 336.48,535.16 336.76,534.82 337.04,534.48 337.31,534.15 337.59,533.83 337.87,533.51 338.15,533.20 338.42,532.89 338.70,532.60 338.98,532.31 339.25,532.04 339.53,531.77 339.81,531.52 340.09,531.28 340.36,531.05 340.64,530.83 340.92,530.63 341.19,530.44 341.47,530.26 341.75,530.10 342.03,529.96 342.30,529.83 342.58,529.72 342.86,529.62 343.13,529.54 343.41,529.48 343.69,529.44 343.97,529.41 344.24,529.41 344.52,529.42 344.80,529.45 345.07,529.50 345.35,529.56 345.63,529.65 345.91,529.75 346.18,529.88 346.46,530.02 346.74,530.18 347.01,530.36 347.29,530.56 347.57,530.78 347.85,531.02 348.12,531.27 348.40,531.54 348.68,531.83 348.95,532.14 349.23,532.46 349.51,532.80 349.79,533.16 350.06,533.53 350.34,533.92 350.62,534.32 350.89,534.74 351.17,535.17 351.45,535.62 351.73,536.08 352.00,536.55 352.28,537.03 352.56,537.52 352.83,538.02 353.11,538.54 353.39,539.06 353.67,539.59 353.94,540.12 354.22,540.67 354.50,541.22 354.78,541.77 355.05,542.33 355.33,542.90 355.61,543.46 355.88,544.03 356.16,544.60 356.44,545.17 356.72,545.74 356.99,546.31 357.27,546.88 357.55,547.44 357.82,548.01 358.10,548.56 358.38,549.11 358.66,549.66 358.93,550.20 359.21,550.73 359.49,551.25 359.76,551.77 360.04,552.27 360.32,552.77 360.60,553.25 360.87,553.72 361.15,554.18 361.43,554.62 361.70,555.05 361.98,555.47 362.26,555.87 362.54,556.25 362.81,556.62 363.09,556.97 363.37,557.31 363.64,557.62 363.92,557.92 364.20,558.20 364.48,558.46 364.75,558.70 365.03,558.92 365.31,559.12 365.58,559.30 365.86,559.45 366.14,559.59 366.42,559.70 366.69,559.80 366.97,559.87 367.25,559.91 367.52,559.94 367.80,559.95 368.08,559.93 368.36,559.89 368.63,559.83 368.91,559.74 369.19,559.64 369.46,559.51 369.74,559.36 370.02,559.19 370.30,558.99 370.57,558.78 370.85,558.54 371.13,558.29 371.41,558.01 371.68,557.72 371.96,557.40 372.24,557.07 372.51,556.72 372.79,556.35 373.07,555.96 373.35,555.55 373.62,555.13 373.90,554.70 374.18,554.24 374.45,553.77 374.73,553.29 375.01,552.80 375.29,552.29 375.56,551.77 375.84,551.23 376.12,550.69 376.39,550.14 376.67,549.57 376.95,549.00 377.23,548.42 377.50,547.84 377.78,547.24 378.06,546.64 378.33,546.04 378.61,545.43 378.89,544.82 379.17,544.20 379.44,543.59 379.72,542.97 380.00,542.35 380.27,541.74 380.55,541.12 380.83,540.51 381.11,539.90 381.38,539.29 381.66,538.69 381.94,538.09 382.21,537.49 382.49,536.91 382.77,536.33 383.05,535.76 383.32,535.19 383.60,534.64 383.88,534.09 384.15,533.56 384.43,533.03 384.71,532.52 384.99,532.02 385.26,531.53 385.54,531.06 385.82,530.60 386.09,530.15 386.37,529.72 386.65,529.30 386.93,528.89 387.20,528.50 387.48,528.13 387.76,527.78 388.04,527.44 388.31,527.11 388.59,526.81 388.87,526.52 389.14,526.25 389.42,525.99 389.70,525.76 389.98,525.54 390.25,525.33 390.53,525.15 390.81,524.99 391.08,524.84 391.36,524.71 391.64,524.59 391.92,524.50 392.19,524.42 392.47,524.36 392.75,524.32 393.02,524.29 393.30,524.28 393.58,524.29 393.86,524.31 394.13,524.35 394.41,524.41 394.69,524.48 394.96,524.57 395.24,524.67 395.52,524.78 395.80,524.91 396.07,525.06 396.35,525.21 396.63,525.38 396.90,525.56 397.18,525.75 397.46,525.96 397.74,526.17 398.01,526.40 398.29,526.63 398.57,526.88 398.84,527.13 399.12,527.39 399.40,527.66 399.68,527.94 399.95,528.22 400.23,528.51 400.51,528.81 400.78,529.11 401.06,529.41 401.34,529.72 401.62,530.03 401.89,530.35 402.17,530.67 402.45,530.99 402.72,531.31 403.00,531.63 403.28,531.95 403.56,532.27 403.83,532.59 404.11,532.91 404.39,533.23 404.67,533.54 404.94,533.85 405.22,534.16 405.50,534.47 405.77,534.77 406.05,535.07 406.33,535.36 406.61,535.65 406.88,535.93 407.16,536.21 407.44,536.48 407.71,536.75 407.99,537.00 408.27,537.25 408.55,537.50 408.82,537.74 409.10,537.97 409.38,538.19 409.65,538.40 409.93,538.61 410.21,538.80 410.49,538.99 410.76,539.18 411.04,539.35" fill="none" stroke="#b4b4b4" stroke-width="2.5" stroke-linejoin="round" stroke-linecap="butt"/>
<polyline points="78.44,533.18 78.72,533.32 78.99,533.45 79.27,533.58 79.55,533.72 79.83,533.86 80.10,533.99 80.38,534.13 80.66,534.27 80.93,534.40 81.21,534.54 81.49,534.68 81.77,534.81 82.04,534.95 82.32,535.08 82.60,535.21 82.87,535.34 83.15,535.47 83.43,535.60 83.71,535.73 83.98,535.85 84.26,535.98 84.54,536.10 84.81,536.21 85.09,536.33 85.37,536.44 85.65,536.55 85.92,536.66 86.20,536.77 86.48,536.87 86.75,536.97 87.03,537.07 87.31,537.16 87.59,537.25 87.86,537.34 88.14,537.42 88.42,537.50 88.70,537.58 88.97,537.66 89.25,537.73 89.53,537.80 89.80,537.87 90.08,537.93 90.36,537.99 90.64,538.05 90.91,538.11 91.19,538.16 91.47,538.21 91.74,538.25 92.02,538.30 92.30,538.34 92.58,538.37 92.85,538.41 93.13,538.44 93.41,538.47 93.68,538.50 93.96,538.53 94.24,538.55 94.52,538.57 94.79,538.59 95.07,538.61 95.35,538.63 95.62,538.64 95.90,538.66 96.18,538.67 96.46,538.68 96.73,538.68 97.01,538.69 97.29,538.70 97.56,538.70 97.84,538.70 98.12,538.71 98.40,538.71 98.67,538.71 98.95,538.71 99.23,538.71 99.50,538.71 99.78,538.71 100.06,538.70 100.34,538.70 100.61,538.70 100.89,538.70 101.17,538.69 101.44,538.69 101.72,538.69 102.00,538.68 102.28,538.68 102.55,538.67 102.83,538.67 103.11,538.67 103.38,538.66 103.66,538.66 103.94,538.66 104.22,538.65 104.49,538.65 104.77,538.64 105.05,538.64 105.33,538.64 105.60,538.63 105.88,538.63 106.16,538.62 106.43,538.62 106.71,538.62 106.99,538.61 107.27,538.61 107.54,538.60 107.82,538.59 108.10,538.59 108.37,538.58 108.65,538.57 108.93,538.56 109.21,538.55 109.48,538.54 109.76,538.53 110.04,538.52 110.31,538.50 110.59,538.49 110.87,538.47 111.15,538.45 111.42,538.43 111.70,538.41 111.98,538.39 112.25,538.36 112.53,538.33 112.81,538.30 113.09,538.27 113.36,538.23 113.64,538.19 113.92,538.15 114.19,538.10 114.47,538.06 114.75,538.01 115.03,537.95 115.30,537.90 115.58,537.83 115.86,537.77 116.13,537.70 116.41,537.63 116.69,537.55 116.97,537.47 117.24,537.39 117.52,537.30 117.80,537.21 118.07,537.11 118.35,537.01 118.63,536.91 118.91,536.80 119.18,536.68 119.46,536.56 119.74,536.44 120.01,536.31 120.29,536.18 120.57,536.04 120.85,535.90 121.12,535.75 121.40,535.60 121.68,535.44 121.96,535.28 122.23,535.12 122.51,534.95 122.79,534.77 123.06,534.59 123.34,534.41 123.62,534.22 123.90,534.03 124.17,533.83 124.45,533.63 124.73,533.43 125.00,533.22 125.28,533.01 125.56,532.79 125.84,532.57 126.11,532.35 126.39,532.12 126.67,531.89 126.94,531.66 127.22,531.42 127.50,531.19 127.78,530.95 128.05,530.71 128.33,530.46 128.61,530.22 128.88,529.97 129.16,529.72 129.44,529.47 129.72,529.22 129.99,528.97 130.27,528.72 130.55,528.47 130.82,528.22 131.10,527.97 131.38,527.72 131.66,527.47 131.93,527.22 132.21,526.97 132.49,526.73 132.76,526.48 133.04,526.24 133.32,526.01 133.60,525.77 133.87,525.54 134.15,525.31 134.43,525.08 134.70,524.86 134.98,524.64 135.26,524.43 135.54,524.22 135.81,524.02 136.09,523.82 136.37,523.63 136.64,523.44 136.92,523.26 137.20,523.08 137.48,522.92 137.75,522.75 138.03,522.60 138.31,522.45 138.59,522.31 138.86,522.17 139.14,522.05 139.42,521.93 139.69,521.82 139.97,521.71 140.25,521.62 140.53,521.53 140.80,521.46 141.08,521.39 141.36,521.33 141.63,521.28 141.91,521.23 142.19,521.20 142.47,521.18 142.74,521.16 143.02,521.16 143.30,521.16 143.57,521.17 143.85,521.20 144.13,521.23 144.41,521.27 144.68,521.32 144.96,521.38 145.24,521.45 145.51,521.53 145.79,521.61 146.07,521.71 146.35,521.81 146.62,521.93 146.90,522.05 147.18,522.18 147.45,522.32 147.73,522.47 148.01,522.62 148.29,522.79 148.56,522.96 148.84,523.14 149.12,523.33 149.39,523.52 149.67,523.72 149.95,523.93 150.23,524.14 150.50,524.36 150.78,524.59 151.06,524.82 151.33,525.06 151.61,525.30 151.89,525.55 152.17,525.80 152.44,526.06 152.72,526.32 153.00,526.59 153.27,526.85 153.55,527.12 153.83,527.40 154.11,527.67 154.38,527.95 154.66,528.23 154.94,528.51 155.22,528.80 155.49,529.08 155.77,529.36 156.05,529.65 156.32,529.93 156.60,530.22 156.88,530.50 157.16,530.78 157.43,531.06 157.71,531.34 157.99,531.61 158.26,531.89 158.54,532.16 158.82,532.42 159.10,532.69 159.37,532.95 159.65,533.21 159.93,533.46 160.20,533.71 160.48,533.95 160.76,534.19 161.04,534.42 161.31,534.65 161.59,534.87 161.87,535.08 162.14,535.29 162.42,535.50 162.70,535.69 162.98,535.88 163.25,536.07 163.53,536.24 163.81,536.41 164.08,536.57 164.36,536.73 164.64,536.87 164.92,537.01 165.19,537.14 165.47,537.27 165.75,537.38 166.02,537.49 166.30,537.59 166.58,537.68 166.86,537.77 167.13,537.84 167.41,537.91 167.69,537.97 167.96,538.03 168.24,538.07 168.52,538.11 168.80,538.14 169.07,538.16 169.35,538.17 169.63,538.18 169.90,538.18 170.18,538.18 170.46,538.16 170.74,538.14 171.01,538.12 171.29,538.08 171.57,538.04 171.85,538.00 172.12,537.95 172.40,537.89 172.68,537.83 172.95,537.77 173.23,537.70 173.51,537.62 173.79,537.54 174.06,537.46 174.34,537.37 174.62,537.28 174.89,537.19 175.17,537.10 175.45,537.00 175.73,536.90 176.00,536.80 176.28,536.69 176.56,536.59 176.83,536.48 177.11,536.38 177.39,536.27 177.67,536.16 177.94,536.06 178.22,535.95 178.50,535.85 178.77,535.75 179.05,535.64 179.33,535.55 179.61,535.45 179.88,535.35 180.16,535.26 180.44,535.18 180.71,535.09 180.99,535.01 181.27,534.93 181.55,534.86 181.82,534.79 182.10,534.73 182.38,534.67 182.65,534.62 182.93,534.57 183.21,534.53 183.49,534.49 183.76,534.46 184.04,534.44 184.32,534.42 184.59,534.41 184.87,534.40 185.15,534.41 185.43,534.42 185.70,534.43 185.98,534.46 186.26,534.49 186.53,534.53 186.81,534.57 187.09,534.63 187.37,534.69 187.64,534.76 187.92,534.83 188.20,534.92 188.48,535.01 188.75,535.11 189.03,535.22 189.31,535.33 189.58,535.45 189.86,535.58 190.14,535.72 190.42,535.86 190.69,536.01 190.97,536.17 191.25,536.34 191.52,536.51 191.80,536.68 192.08,536.87 192.36,537.06 192.63,537.25 192.91,537.45 193.19,537.66 193.46,537.87 193.74,538.09 194.02,538.31 194.30,538.54 194.57,538.77 194.85,539.00 195.13,539.24 195.40,539.48 195.68,539.72 195.96,539.97 196.24,540.22 196.51,540.47 196.79,540.72 197.07,540.98 197.34,541.23 197.62,541.49 197.90,541.75 198.18,542.00 198.45,542.26 198.73,542.51 199.01,542.77 199.28,543.02 199.56,543.28 199.84,543.53 200.12,543.77 200.39,544.02 200.67,544.26 200.95,544.50 201.22,544.73 201.50,544.97 201.78,545.19 202.06,545.41 202.33,545.63 202.61,545.84 202.89,546.05 203.16,546.25 203.44,546.45 203.72,546.63 204.00,546.82 204.27,546.99 204.55,547.16 204.83,547.32 205.11,547.47 205.38,547.61 205.66,547.75 205.94,547.88 206.21,548.00 206.49,548.11 206.77,548.21 207.05,548.30 207.32,548.39 207.60,548.46 207.88,548.52 208.15,548.58 208.43,548.62 208.71,548.66 208.99,548.69 209.26,548.70 209.54,548.71 209.82,548.71 210.09,548.69 210.37,548.67 210.65,548.64 210.93,548.59 211.20,548.54 211.48,548.48 211.76,548.40 212.03,548.32 212.31,548.23 212.59,548.13 212.87,548.01 213.14,547.89 213.42,547.76 213.70,547.63 213.97,547.48 214.25,547.32 214.53,547.16 214.81,546.99 215.08,546.81 215.36,546.62 215.64,546.42 215.91,546.22 216.19,546.01 216.47,545.79 216.75,545.56 217.02,545.33 217.30,545.10 217.58,544.85 217.85,544.60 218.13,544.35 218.41,544.09 218.69,543.83 218.96,543.56 219.24,543.29 219.52,543.02 219.79,542.74 220.07,542.46 220.35,542.17 220.63,541.89 220.90,541.60 221.18,541.31 221.46,541.02 221.74,540.72 222.01,540.43 222.29,540.14 222.57,539.84 222.84,539.55 223.12,539.26 223.40,538.97 223.68,538.68 223.95,538.39 224.23,538.10 224.51,537.82 224.78,537.54 225.06,537.26 225.34,536.98 225.62,536.71 225.89,536.44 226.17,536.18 226.45,535.92 226.72,535.66 227.00,535.41 227.28,535.16 227.56,534.92 227.83,534.69 228.11,534.46 228.39,534.23 228.66,534.02 228.94,533.80 229.22,533.60 229.50,533.40 229.77,533.21 230.05,533.02 230.33,532.85 230.60,532.68 230.88,532.51 231.16,532.36 231.44,532.21 231.71,532.07 231.99,531.94 232.27,531.81 232.54,531.69 232.82,531.58 233.10,531.48 233.38,531.39 233.65,531.30 233.93,531.22 234.21,531.15 234.48,531.09 234.76,531.03 235.04,530.99 235.32,530.95 235.59,530.91 235.87,530.89 236.15,530.87 236.42,530.86 236.70,530.86 236.98,530.86 237.26,530.88 237.53,530.89 237.81,530.92 238.09,530.95 238.37,530.99 238.64,531.03 238.92,531.08 239.20,531.14 239.47,531.20 239.75,531.26 240.03,531.34 240.31,531.41 240.58,531.50 240.86,531.58 241.14,531.68 241.41,531.77 241.69,531.87 241.97,531.98 242.25,532.08 242.52,532.20 242.80,532.31 243.08,532.43 243.35,532.55 243.63,532.67 243.91,532.80 244.19,532.92 244.46,533.05 244.74,533.18 245.02,533.32 245.29,533.45 245.57,533.58 245.85,533.72 246.13,533.86 246.40,533.99 246.68,534.13 246.96,534.27 247.23,534.40 247.51,534.54 247.79,534.68 248.07,534.81 248.34,534.95 248.62,535.08 248.90,535.21 249.17,535.34 249.45,535.47 249.73,535.60 250.01,535.73 250.28,535.85 250.56,535.98 250.84,536.10 251.11,536.21 251.39,536.33 251.67,536.44 251.95,536.55 252.22,536.66 252.50,536.77 252.78,536.87 253.05,536.97 253.33,537.07 253.61,537.16 253.89,537.25 254.16,537.34 254.44,537.42 254.72,537.50 255.00,537.58 255.27,537.66 255.55,537.73 255.83,537.80 256.10,537.87 256.38,537.93 256.66,537.99 256.94,538.05 257.21,538.11 257.49,538.16 257.77,538.21 258.04,538.25 258.32,538.30 258.60,538.34 258.88,538.37 259.15,538.41 259.43,538.44 259.71,538.47 259.98,538.50 260.26,538.53 260.54,538.55 260.82,538.57 261.09,538.59 261.37,538.61 261.65,538.63 261.92,538.64 262.20,538.66 262.48,538.67 262.76,538.68 263.03,538.68 263.31,538.69 263.59,538.70 263.86,538.70 264.14,538.70 264.42,538.71 264.70,538.71 264.97,538.71 265.25,538.71 265.53,538.71 265.80,538.71 266.08,538.71 266.36,538.70 266.64,538.70 266.91,538.70 267.19,538.70 267.47,538.69 267.74,538.69 268.02,538.69 268.30,538.68 268.58,538.68 268.85,538.67 269.13,538.67 269.41,538.67 269.68,538.66 269.96,538.66 270.24,538.66 270.52,538.65 270.79,538.65 271.07,538.64 271.35,538.64 271.63,538.64 271.90,538.63 272.18,538.63 272.46,538.62 272.73,538.62 273.01,538.62 273.29,538.61 273.57,538.61 273.84,538.60 274.12,538.59 274.40,538.59 274.67,538.58 274.95,538.57 275.23,538.56 275.51,538.55 275.78,538.54 276.06,538.53 276.34,538.52 276.61,538.50 276.89,538.49 277.17,538.47 277.45,538.45 277.72,538.43 278.00,538.41 278.28,538.39 278.55,538.36 278.83,538.33 279.11,538.30 279.39,538.27 279.66,538.23 279.94,538.19 280.22,538.15 280.49,538.10 280.77,538.06 281.05,538.01 281.33,537.95 281.60,537.90 281.88,537.83 282.16,537.77 282.43,537.70 282.71,537.63 282.99,537.55 283.27,537.47 283.54,537.39 283.82,537.30 284.10,537.21 284.37,537.11 284.65,537.01 284.93,536.91 285.21,536.80 285.48,536.68 285.76,536.56 286.04,536.44 286.31,536.31 286.59,536.18 286.87,536.04 287.15,535.90 287.42,535.75 287.70,535.60 287.98,535.44 288.26,535.28 288.53,535.12 288.81,534.95 289.09,534.77 289.36,534.59 289.64,534.41 289.92,534.22 290.20,534.03 290.47,533.83 290.75,533.63 291.03,533.43 291.30,533.22 291.58,533.01 291.86,532.79 292.14,532.57 292.41,532.35 292.69,532.12 292.97,531.89 293.24,531.66 293.52,531.42 293.80,531.19 294.08,530.95 294.35,530.71 294.63,530.46 294.91,530.22 295.18,529.97 295.46,529.72 295.74,529.47 296.02,529.22 296.29,528.97 296.57,528.72 296.85,528.47 297.12,528.22 297.40,527.97 297.68,527.72 297.96,527.47 298.23,527.22 298.51,526.97 298.79,526.73 299.06,526.48 299.34,526.24 299.62,526.01 299.90,525.77 300.17,525.54 300.45,525.31 300.73,525.08 301.00,524.86 301.28,524.64 301.56,524.43 301.84,524.22 302.11,524.02 302.39,523.82 302.67,523.63 302.94,523.44 303.22,523.26 303.50,523.08 303.78,522.92 304.05,522.75 304.33,522.60 304.61,522.45 304.89,522.31 305.16,522.17 305.44,522.05 305.72,521.93 305.99,521.82 306.27,521.71 306.55,521.62 306.83,521.53 307.10,521.46 307.38,521.39 307.66,521.33 307.93,521.28 308.21,521.23 308.49,521.20 308.77,521.18 309.04,521.16 309.32,521.16 309.60,521.16 309.87,521.17 310.15,521.20 310.43,521.23 310.71,521.27 310.98,521.32 311.26,521.38 311.54,521.45 311.81,521.53 312.09,521.61 312.37,521.71 312.65,521.81 312.92,521.93 313.20,522.05 313.48,522.18 313.75,522.32 314.03,522.47 314.31,522.62 314.59,522.79 314.86,522.96 315.14,523.14 315.42,523.33 315.69,523.52 315.97,523.72 316.25,523.93 316.53,524.14 316.80,524.36 317.08,524.59 317.36,524.82 317.63,525.06 317.91,525.30 318.19,525.55 318.47,525.80 318.74,526.06 319.02,526.32 319.30,526.59 319.57,526.85 319.85,527.12 320.13,527.40 320.41,527.67 320.68,527.95 320.96,528.23 321.24,528.51 321.52,528.80 321.79,529.08 322.07,529.36 322.35,529.65 322.62,529.93 322.90,530.22 323.18,530.50 323.46,530.78 323.73,531.06 324.01,531.34 324.29,531.61 324.56,531.89 324.84,532.16 325.12,532.42 325.40,532.69 325.67,532.95 325.95,533.21 326.23,533.46 326.50,533.71 326.78,533.95 327.06,534.19 327.34,534.42 327.61,534.65 327.89,534.87 328.17,535.08 328.44,535.29 328.72,535.50 329.00,535.69 329.28,535.88 329.55,536.07 329.83,536.24 330.11,536.41 330.38,536.57 330.66,536.73 330.94,536.87 331.22,537.01 331.49,537.14 331.77,537.27 332.05,537.38 332.32,537.49 332.60,537.59 332.88,537.68 333.16,537.77 333.43,537.84 333.71,537.91 333.99,537.97 334.26,538.03 334.54,538.07 334.82,538.11 335.10,538.14 335.37,538.16 335.65,538.17 335.93,538.18 336.20,538.18 336.48,538.18 336.76,538.16 337.04,538.14 337.31,538.12 337.59,538.08 337.87,538.04 338.15,538.00 338.42,537.95 338.70,537.89 338.98,537.83 339.25,537.77 339.53,537.70 339.81,537.62 340.09,537.54 340.36,537.46 340.64,537.37 340.92,537.28 341.19,537.19 341.47,537.10 341.75,537.00 342.03,536.90 342.30,536.80 342.58,536.69 342.86,536.59 343.13,536.48 343.41,536.38 343.69,536.27 343.97,536.16 344.24,536.06 344.52,535.95 344.80,535.85 345.07,535.75 345.35,535.64 345.63,535.55 345.91,535.45 346.18,535.35 346.46,535.26 346.74,535.18 347.01,535.09 347.29,535.01 347.57,534.93 347.85,534.86 348.12,534.79 348.40,534.73 348.68,534.67 348.95,534.62 349.23,534.57 349.51,534.53 349.79,534.49 350.06,534.46 350.34,534.44 350.62,534.42 350.89,534.41 351.17,534.40 351.45,534.41 351.73,534.42 352.00,534.43 352.28,534.46 352.56,534.49 352.83,534.53 353.11,534.57 353.39,534.63 353.67,534.69 353.94,534.76 354.22,534.83 354.50,534.92 354.78,535.01 355.05,535.11 355.33,535.22 355.61,535.33 355.88,535.45 356.16,535.58 356.44,535.72 356.72,535.86 356.99,536.01 357.27,536.17 357.55,536.34 357.82,536.51 358.10,536.68 358.38,536.87 358.66,537.06 358.93,537.25 359.21,537.45 359.49,537.66 359.76,537.87 360.04,538.09 360.32,538.31 360.60,538.54 360.87,538.77 361.15,539.00 361.43,539.24 361.70,539.48 361.98,539.72 362.26,539.97 362.54,540.22 362.81,540.47 363.09,540.72 363.37,540.98 363.64,541.23 363.92,541.49 364.20,541.75 364.48,542.00 364.75,542.26 365.03,542.51 365.31,542.77 365.58,543.02 365.86,543.28 366.14,543.53 366.42,543.77 366.69,544.02 366.97,544.26 367.25,544.50 367.52,544.73 367.80,544.97 368.08,545.19 368.36,545.41 368.63,545.63 368.91,545.84 369.19,546.05 369.46,546.25 369.74,546.45 370.02,546.63 370.30,546.82 370.57,546.99 370.85,547.16 371.13,547.32 371.41,547.47 371.68,547.61 371.96,547.75 372.24,547.88 372.51,548.00 372.79,548.11 373.07,548.21 373.35,548.30 373.62,548.39 373.90,548.46 374.18,548.52 374.45,548.58 374.73,548.62 375.01,548.66 375.29,548.69 375.56,548.70 375.84,548.71 376.12,548.71 376.39,548.69 376.67,548.67 376.95,548.64 377.23,548.59 377.50,548.54 377.78,548.48 378.06,548.40 378.33,548.32 378.61,548.23 378.89,548.13 379.17,548.01 379.44,547.89 379.72,547.76 380.00,547.63 380.27,547.48 380.55,547.32 380.83,547.16 381.11,546.99 381.38,546.81 381.66,546.62 381.94,546.42 382.21,546.22 382.49,546.01 382.77,545.79 383.05,545.56 383.32,545.33 383.60,545.10 383.88,544.85 384.15,544.60 384.43,544.35 384.71,544.09 384.99,543.83 385.26,543.56 385.54,543.29 385.82,543.02 386.09,542.74 386.37,542.46 386.65,542.17 386.93,541.89 387.20,541.60 387.48,541.31 387.76,541.02 388.04,540.72 388.31,540.43 388.59,540.14 388.87,539.84 389.14,539.55 389.42,539.26 389.70,538.97 389.98,538.68 390.25,538.39 390.53,538.10 390.81,537.82 391.08,537.54 391.36,537.26 391.64,536.98 391.92,536.71 392.19,536.44 392.47,536.18 392.75,535.92 393.02,535.66 393.30,535.41 393.58,535.16 393.86,534.92 394.13,534.69 394.41,534.46 394.69,534.23 394.96,534.02 395.24,533.80 395.52,533.60 395.80,533.40 396.07,533.21 396.35,533.02 396.63,532.85 396.90,532.68 397.18,532.51 397.46,532.36 397.74,532.21 398.01,532.07 398.29,531.94 398.57,531.81 398.84,531.69 399.12,531.58 399.40,531.48 399.68,531.39 399.95,531.30 400.23,531.22 400.51,531.15 400.78,531.09 401.06,531.03 401.34,530.99 401.62,530.95 401.89,530.91 402.17,530.89 402.45,530.87 402.72,530.86 403.00,530.86 403.28,530.86 403.56,530.88 403.83,530.89 404.11,530.92 404.39,530.95 404.67,530.99 404.94,531.03 405.22,531.08 405.50,531.14 405.77,531.20 406.05,531.26 406.33,531.34 406.61,531.41 406.88,531.50 407.16,531.58 407.44,531.68 407.71,531.77 407.99,531.87 408.27,531.98 408.55,532.08 408.82,532.20 409.10,532.31 409.38,532.43 409.65,532.55 409.93,532.67 410.21,532.80 410.49,532.92 410.76,533.05 411.04,533.18" fill="none" stroke="#000" stroke-width="2.5" stroke-linejoin="round" stroke-dasharray="2.6 1.9" stroke-linecap="butt"/>
<line x1="60.45" y1="501.09" x2="60.45" y2="569.88" stroke="#000" stroke-width="2.65" />
<line x1="52.00" y1="568.55" x2="60.45" y2="568.55" stroke="#000" stroke-width="2.6" />
<text transform="translate(48.20,576.45) scale(0.98,1.05)" font-size="22" text-anchor="end" >1</text>
<line x1="52.00" y1="535.48" x2="60.45" y2="535.48" stroke="#000" stroke-width="2.6" />
<text transform="translate(48.20,543.38) scale(0.98,1.05)" font-size="22" text-anchor="end" >2</text>
<line x1="52.00" y1="502.41" x2="60.45" y2="502.41" stroke="#000" stroke-width="2.6" />
<text transform="translate(48.20,510.31) scale(0.98,1.05)" font-size="22" text-anchor="end" >3</text>
<text transform="translate(424.00,496.36) scale(1.0,0.98)" font-size="24.5" text-anchor="end" >sum of sin</text>
<line x1="464.00" y1="569.80" x2="600.50" y2="569.80" stroke="#c6c6c6" stroke-width="1.0" stroke-dasharray="2.43 2.43"/>
<line x1="464.00" y1="532.45" x2="600.50" y2="532.45" stroke="#c6c6c6" stroke-width="1.0" stroke-dasharray="2.43 2.43"/>
<line x1="464.00" y1="495.10" x2="600.50" y2="495.10" stroke="#c6c6c6" stroke-width="1.0" stroke-dasharray="2.43 2.43"/>
<line x1="462.30" y1="569.80" x2="462.30" y2="517.51" stroke="#000" stroke-width="2.65" />
<line x1="506.75" y1="569.80" x2="506.75" y2="524.98" stroke="#000" stroke-width="2.65" />
<line x1="551.20" y1="569.80" x2="551.20" y2="532.45" stroke="#000" stroke-width="2.65" />
<line x1="595.65" y1="569.80" x2="595.65" y2="539.92" stroke="#000" stroke-width="2.65" />
<line x1="602.60" y1="493.78" x2="602.60" y2="571.12" stroke="#000" stroke-width="2.65" />
<line x1="602.60" y1="569.80" x2="610.90" y2="569.80" stroke="#000" stroke-width="2.6" />
<text transform="translate(616.80,577.90) scale(0.98,1.05)" font-size="22" text-anchor="start" >0.0</text>
<line x1="602.60" y1="532.45" x2="610.90" y2="532.45" stroke="#000" stroke-width="2.6" />
<text transform="translate(616.80,540.55) scale(0.98,1.05)" font-size="22" text-anchor="start" >0.5</text>
<line x1="602.60" y1="495.10" x2="610.90" y2="495.10" stroke="#000" stroke-width="2.6" />
<text transform="translate(616.80,503.20) scale(0.98,1.05)" font-size="22" text-anchor="start" >1.0</text>
<line x1="460.98" y1="573.75" x2="596.98" y2="573.75" stroke="#000" stroke-width="2.65" />
<line x1="462.30" y1="573.75" x2="462.30" y2="582.50" stroke="#000" stroke-width="2.6" />
<line x1="506.75" y1="573.75" x2="506.75" y2="582.50" stroke="#000" stroke-width="2.6" />
<line x1="551.20" y1="573.75" x2="551.20" y2="582.50" stroke="#000" stroke-width="2.6" />
<line x1="595.65" y1="573.75" x2="595.65" y2="582.50" stroke="#000" stroke-width="2.6" />
<text transform="translate(462.30,607.20) scale(0.98,1.05)" font-size="22" text-anchor="middle" >0.1</text>
<text transform="translate(506.75,607.20) scale(0.98,1.05)" font-size="22" text-anchor="middle" >0.2</text>
<text transform="translate(551.20,607.20) scale(0.98,1.05)" font-size="22" text-anchor="middle" >0.3</text>
<text transform="translate(595.65,607.20) scale(0.98,1.05)" font-size="22" text-anchor="middle" >0.4</text>
<line x1="77.11" y1="572.50" x2="412.36" y2="572.50" stroke="#000" stroke-width="2.65" />
<line x1="78.44" y1="572.50" x2="78.44" y2="580.80" stroke="#000" stroke-width="2.6" />
<text transform="translate(78.79,605.90) scale(0.98,1.05)" font-size="22" text-anchor="middle" >0</text>
<line x1="161.59" y1="572.50" x2="161.59" y2="580.80" stroke="#000" stroke-width="2.6" />
<text transform="translate(161.94,605.90) scale(0.98,1.05)" font-size="22" text-anchor="middle" >5</text>
<line x1="244.74" y1="572.50" x2="244.74" y2="580.80" stroke="#000" stroke-width="2.6" />
<text transform="translate(245.09,605.90) scale(0.98,1.05)" font-size="22" text-anchor="middle" >10</text>
<line x1="327.89" y1="572.50" x2="327.89" y2="580.80" stroke="#000" stroke-width="2.6" />
<text transform="translate(328.24,605.90) scale(0.98,1.05)" font-size="22" text-anchor="middle" >15</text>
<line x1="411.04" y1="572.50" x2="411.04" y2="580.80" stroke="#000" stroke-width="2.6" />
<text transform="translate(411.39,605.90) scale(0.98,1.05)" font-size="22" text-anchor="middle" >20</text>
<text transform="translate(245.34,633.00)" font-size="24.1" text-anchor="middle" >Time in s</text>
<text transform="translate(529.10,635.60)" font-size="25.2" text-anchor="middle" >Hz</text>
<text transform="translate(18.60,299.30) rotate(-90) scale(0.993,1.03)" font-size="22" text-anchor="middle" >Accommodative demand and response in D</text>
<text transform="translate(666.20,302.70) rotate(90) scale(0.99,1.03)" font-size="22" text-anchor="middle" >Amplitude in D</text></svg>
</body></html>
